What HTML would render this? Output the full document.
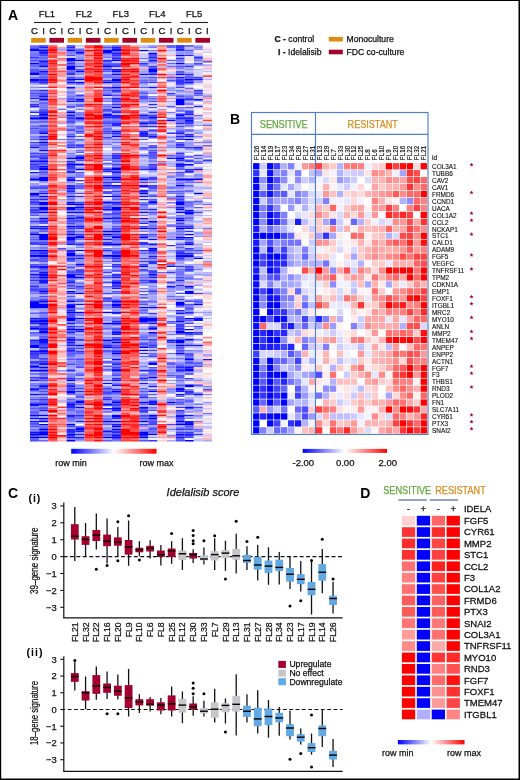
<!DOCTYPE html><html><head><meta charset="utf-8"><style>html,body{margin:0;padding:0;background:#fff;}svg{display:block;will-change:transform;}</style></head><body><svg width="520" height="780" viewBox="0 0 520 780" font-family="Liberation Sans, sans-serif">
<rect x="0" y="0" width="520" height="780" fill="#fff"/>
<path fill="#000" d="M0 0H520V780H0z M1.2 0.9V778.5H518.5V0.9z" fill-rule="evenodd"/>
<text x="8.0" y="20.2" font-size="14" text-anchor="start" font-weight="bold" fill="#000"  >A</text>
<text x="46.85" y="16.9" font-size="9.5" text-anchor="middle" font-weight="normal" fill="#111" stroke="#111" stroke-width="0.25"  >FL1</text>
<line x1="34.0" y1="22.5" x2="61.5" y2="22.5" stroke="#222" stroke-width="1.1"/>
<text x="34.55" y="34.4" font-size="9.6" text-anchor="middle" font-weight="normal" fill="#111" stroke="#111" stroke-width="0.25"  >C</text>
<text x="43.65" y="34.4" font-size="9.6" text-anchor="middle" font-weight="normal" fill="#111" stroke="#111" stroke-width="0.25"  >I</text>
<text x="52.75" y="34.4" font-size="9.6" text-anchor="middle" font-weight="normal" fill="#111" stroke="#111" stroke-width="0.25"  >C</text>
<text x="61.849999999999994" y="34.4" font-size="9.6" text-anchor="middle" font-weight="normal" fill="#111" stroke="#111" stroke-width="0.25"  >I</text>
<rect x="31.20" y="37.9" width="14.5" height="4.8" fill="#dc8c10"/>
<rect x="49.40" y="37.9" width="14.6" height="4.8" fill="#a0002a"/>
<text x="83.89999999999999" y="16.9" font-size="9.5" text-anchor="middle" font-weight="normal" fill="#111" stroke="#111" stroke-width="0.25"  >FL2</text>
<line x1="70.55" y1="22.5" x2="98.05" y2="22.5" stroke="#222" stroke-width="1.1"/>
<text x="70.95" y="34.4" font-size="9.6" text-anchor="middle" font-weight="normal" fill="#111" stroke="#111" stroke-width="0.25"  >C</text>
<text x="80.05" y="34.4" font-size="9.6" text-anchor="middle" font-weight="normal" fill="#111" stroke="#111" stroke-width="0.25"  >I</text>
<text x="89.15" y="34.4" font-size="9.6" text-anchor="middle" font-weight="normal" fill="#111" stroke="#111" stroke-width="0.25"  >C</text>
<text x="98.25" y="34.4" font-size="9.6" text-anchor="middle" font-weight="normal" fill="#111" stroke="#111" stroke-width="0.25"  >I</text>
<rect x="67.70" y="37.9" width="14.5" height="4.8" fill="#dc8c10"/>
<rect x="85.90" y="37.9" width="14.6" height="4.8" fill="#a0002a"/>
<text x="120.8" y="16.9" font-size="9.5" text-anchor="middle" font-weight="normal" fill="#111" stroke="#111" stroke-width="0.25"  >FL3</text>
<line x1="107.15" y1="22.5" x2="134.65" y2="22.5" stroke="#222" stroke-width="1.1"/>
<text x="107.35" y="34.4" font-size="9.6" text-anchor="middle" font-weight="normal" fill="#111" stroke="#111" stroke-width="0.25"  >C</text>
<text x="116.44999999999999" y="34.4" font-size="9.6" text-anchor="middle" font-weight="normal" fill="#111" stroke="#111" stroke-width="0.25"  >I</text>
<text x="125.55" y="34.4" font-size="9.6" text-anchor="middle" font-weight="normal" fill="#111" stroke="#111" stroke-width="0.25"  >C</text>
<text x="134.65" y="34.4" font-size="9.6" text-anchor="middle" font-weight="normal" fill="#111" stroke="#111" stroke-width="0.25"  >I</text>
<rect x="104.20" y="37.9" width="14.5" height="4.8" fill="#dc8c10"/>
<rect x="122.40" y="37.9" width="14.6" height="4.8" fill="#a0002a"/>
<text x="157.29999999999998" y="16.9" font-size="9.5" text-anchor="middle" font-weight="normal" fill="#111" stroke="#111" stroke-width="0.25"  >FL4</text>
<line x1="143.9" y1="22.5" x2="171.4" y2="22.5" stroke="#222" stroke-width="1.1"/>
<text x="143.75" y="34.4" font-size="9.6" text-anchor="middle" font-weight="normal" fill="#111" stroke="#111" stroke-width="0.25"  >C</text>
<text x="152.85" y="34.4" font-size="9.6" text-anchor="middle" font-weight="normal" fill="#111" stroke="#111" stroke-width="0.25"  >I</text>
<text x="161.95" y="34.4" font-size="9.6" text-anchor="middle" font-weight="normal" fill="#111" stroke="#111" stroke-width="0.25"  >C</text>
<text x="171.05" y="34.4" font-size="9.6" text-anchor="middle" font-weight="normal" fill="#111" stroke="#111" stroke-width="0.25"  >I</text>
<rect x="140.70" y="37.9" width="14.5" height="4.8" fill="#dc8c10"/>
<rect x="158.90" y="37.9" width="14.6" height="4.8" fill="#a0002a"/>
<text x="194.2" y="16.9" font-size="9.5" text-anchor="middle" font-weight="normal" fill="#111" stroke="#111" stroke-width="0.25"  >FL5</text>
<line x1="180.5" y1="22.5" x2="208.0" y2="22.5" stroke="#222" stroke-width="1.1"/>
<text x="180.15" y="34.4" font-size="9.6" text-anchor="middle" font-weight="normal" fill="#111" stroke="#111" stroke-width="0.25"  >C</text>
<text x="189.25" y="34.4" font-size="9.6" text-anchor="middle" font-weight="normal" fill="#111" stroke="#111" stroke-width="0.25"  >I</text>
<text x="198.35" y="34.4" font-size="9.6" text-anchor="middle" font-weight="normal" fill="#111" stroke="#111" stroke-width="0.25"  >C</text>
<text x="207.45" y="34.4" font-size="9.6" text-anchor="middle" font-weight="normal" fill="#111" stroke="#111" stroke-width="0.25"  >I</text>
<rect x="177.20" y="37.9" width="14.5" height="4.8" fill="#dc8c10"/>
<rect x="195.40" y="37.9" width="14.6" height="4.8" fill="#a0002a"/>
<text x="274.5" y="42" font-size="8.6" text-anchor="start" font-weight="normal" fill="#111" stroke="#111" stroke-width="0.25"  ><tspan font-weight="bold">C -</tspan> control</text>
<text x="278" y="54.6" font-size="8.6" text-anchor="start" font-weight="normal" fill="#111" stroke="#111" stroke-width="0.25"  ><tspan font-weight="bold">I -</tspan> Idelalisib</text>
<rect x="328.8" y="36.9" width="14" height="4.6" fill="#dc8c10"/>
<rect x="328.8" y="49.7" width="14" height="4.6" fill="#a0002a"/>
<text x="346.5" y="41.6" font-size="8.6" text-anchor="start" font-weight="normal" fill="#111" stroke="#111" stroke-width="0.25"  >Monoculture</text>
<text x="346.5" y="54.6" font-size="8.6" text-anchor="start" font-weight="normal" fill="#111" stroke="#111" stroke-width="0.25"  >FDC co-culture</text>
<defs><filter id="bl" x="-0.01" y="-0.01" width="1.02" height="1.02"><feGaussianBlur stdDeviation="0.3"/></filter></defs><g filter="url(#bl)">
<path fill="#0000ff" d="M30.0 49.95h9.1V51.54H30.0zM30.0 62.63h9.1V64.22H30.0zM30.0 72.14h9.1V75.31H30.0zM30.0 78.48h9.1V81.65H30.0zM30.0 118.10h9.1V119.69H30.0zM30.0 156.14h9.1V157.72H30.0zM30.0 178.32h9.1V179.91H30.0zM30.0 192.59h9.1V195.76H30.0zM30.0 233.79h9.1V235.38H30.0zM30.0 249.64h9.1V251.22H30.0zM30.0 254.39h9.1V255.98H30.0zM30.0 259.15h9.1V260.73H30.0zM30.0 270.24h9.1V271.83H30.0zM30.0 289.26h9.1V290.84H30.0zM30.0 301.94h9.1V308.28H30.0zM30.0 320.96h9.1V322.54H30.0zM30.0 327.29h9.1V328.88H30.0zM30.0 344.73h9.1V347.90H30.0zM30.0 354.24h9.1V355.82H30.0zM30.0 362.16h9.1V363.74H30.0zM30.0 365.33h9.1V366.91H30.0zM30.0 370.08h9.1V371.67H30.0zM30.0 393.86h9.1V395.44H30.0zM30.0 403.36h9.1V404.95H30.0zM30.0 414.46h9.1V416.04H30.0zM30.0 433.48h9.1V435.06H30.0zM30.0 436.65h9.1V438.23H30.0zM39.1 49.95h9.1V51.54H39.1zM39.1 65.80h9.1V67.39H39.1zM39.1 99.08h9.1V100.67H39.1zM39.1 113.35h9.1V114.93H39.1zM39.1 116.52h9.1V119.69H39.1zM39.1 132.36h9.1V133.95H39.1zM39.1 141.87h9.1V143.46H39.1zM39.1 160.89h9.1V162.48H39.1zM39.1 167.23h9.1V170.40H39.1zM39.1 176.74h9.1V181.49H39.1zM39.1 195.76h9.1V197.34H39.1zM39.1 202.10h9.1V205.26H39.1zM39.1 206.85h9.1V210.02H39.1zM39.1 211.60h9.1V213.19H39.1zM39.1 217.94h9.1V219.53H39.1zM39.1 233.79h9.1V240.13H39.1zM39.1 249.64h9.1V251.22H39.1zM39.1 254.39h9.1V257.56H39.1zM39.1 273.41h9.1V275.00H39.1zM39.1 276.58h9.1V278.17H39.1zM39.1 290.84h9.1V292.43H39.1zM39.1 300.35h9.1V301.94H39.1zM39.1 303.52h9.1V308.28H39.1zM39.1 319.37h9.1V322.54H39.1zM39.1 330.46h9.1V333.63H39.1zM39.1 338.39h9.1V339.97H39.1zM39.1 343.14h9.1V344.73H39.1zM39.1 351.07h9.1V352.65H39.1zM39.1 366.91h9.1V368.50H39.1zM39.1 370.08h9.1V371.67H39.1zM39.1 385.93h9.1V387.52H39.1zM39.1 403.36h9.1V404.95H39.1zM39.1 414.46h9.1V416.04H39.1zM39.1 417.63h9.1V419.21H39.1zM39.1 420.80h9.1V422.38H39.1zM39.1 423.97h9.1V425.55H39.1zM39.1 428.72h9.1V430.31H39.1zM39.1 431.89h9.1V435.06H39.1zM39.1 436.65h9.1V438.23H39.1zM66.4 49.95h9.1V51.54H66.4zM66.4 57.88h9.1V61.05H66.4zM66.4 65.80h9.1V68.97H66.4zM66.4 78.48h9.1V80.07H66.4zM66.4 111.76h9.1V113.35H66.4zM66.4 121.27h9.1V122.86H66.4zM66.4 129.19h9.1V130.78H66.4zM66.4 157.72h9.1V159.31H66.4zM66.4 164.06h9.1V165.64H66.4zM66.4 167.23h9.1V168.81H66.4zM66.4 187.83h9.1V189.42H66.4zM66.4 203.68h9.1V205.26H66.4zM66.4 206.85h9.1V210.02H66.4zM66.4 211.60h9.1V213.19H66.4zM66.4 217.94h9.1V219.53H66.4zM66.4 225.87h9.1V227.45H66.4zM66.4 233.79h9.1V235.38H66.4zM66.4 236.96h9.1V240.13H66.4zM66.4 252.81h9.1V255.98H66.4zM66.4 275.00h9.1V278.17H66.4zM66.4 290.84h9.1V292.43H66.4zM66.4 300.35h9.1V301.94H66.4zM66.4 305.11h9.1V308.28H66.4zM66.4 311.45h9.1V313.03H66.4zM66.4 317.79h9.1V320.96H66.4zM66.4 328.88h9.1V330.46H66.4zM66.4 338.39h9.1V339.97H66.4zM66.4 379.59h9.1V381.18H66.4zM66.4 390.69h9.1V393.86H66.4zM66.4 403.36h9.1V404.95H66.4zM66.4 423.97h9.1V425.55H66.4zM66.4 433.48h9.1V435.06H66.4zM66.4 439.82h9.1V441.40H66.4zM75.5 51.54h9.1V53.12H75.5zM75.5 59.46h9.1V61.05H75.5zM75.5 70.56h9.1V72.14H75.5zM75.5 78.48h9.1V80.07H75.5zM75.5 81.65h9.1V83.24H75.5zM75.5 99.08h9.1V100.67H75.5zM75.5 118.10h9.1V119.69H75.5zM75.5 156.14h9.1V159.31H75.5zM75.5 164.06h9.1V165.64H75.5zM75.5 168.81h9.1V170.40H75.5zM75.5 203.68h9.1V205.26H75.5zM75.5 206.85h9.1V208.43H75.5zM75.5 211.60h9.1V213.19H75.5zM75.5 236.96h9.1V238.55H75.5zM75.5 249.64h9.1V251.22H75.5zM75.5 263.90h9.1V265.49H75.5zM75.5 270.24h9.1V271.83H75.5zM75.5 276.58h9.1V278.17H75.5zM75.5 292.43h9.1V294.01H75.5zM75.5 311.45h9.1V313.03H75.5zM75.5 317.79h9.1V319.37H75.5zM75.5 328.88h9.1V330.46H75.5zM75.5 344.73h9.1V346.31H75.5zM75.5 400.20h9.1V403.36H75.5zM75.5 406.53h9.1V408.12H75.5zM75.5 427.14h9.1V430.31H75.5zM102.8 49.95h9.1V53.12H102.8zM102.8 65.80h9.1V67.39H102.8zM102.8 81.65h9.1V83.24H102.8zM102.8 114.93h9.1V116.52H102.8zM102.8 176.74h9.1V178.32H102.8zM102.8 195.76h9.1V197.34H102.8zM102.8 202.10h9.1V203.68H102.8zM102.8 213.19h9.1V214.77H102.8zM102.8 217.94h9.1V219.53H102.8zM102.8 230.62h9.1V232.21H102.8zM102.8 233.79h9.1V235.38H102.8zM102.8 243.30h9.1V244.88H102.8zM102.8 254.39h9.1V255.98H102.8zM102.8 297.18h9.1V298.77H102.8zM102.8 311.45h9.1V313.03H102.8zM102.8 322.54h9.1V324.12H102.8zM102.8 339.97h9.1V341.56H102.8zM102.8 346.31h9.1V347.90H102.8zM102.8 382.76h9.1V384.35H102.8zM102.8 392.27h9.1V393.86H102.8zM102.8 403.36h9.1V404.95H102.8zM102.8 420.80h9.1V422.38H102.8zM102.8 436.65h9.1V438.23H102.8zM111.9 49.95h9.1V51.54H111.9zM111.9 59.46h9.1V61.05H111.9zM111.9 70.56h9.1V72.14H111.9zM111.9 78.48h9.1V81.65H111.9zM111.9 86.40h9.1V87.99H111.9zM111.9 107.01h9.1V108.59H111.9zM111.9 135.53h9.1V137.12H111.9zM111.9 156.14h9.1V157.72H111.9zM111.9 167.23h9.1V170.40H111.9zM111.9 176.74h9.1V178.32H111.9zM111.9 206.85h9.1V210.02H111.9zM111.9 213.19h9.1V214.77H111.9zM111.9 230.62h9.1V232.21H111.9zM111.9 236.96h9.1V238.55H111.9zM111.9 243.30h9.1V244.88H111.9zM111.9 251.22h9.1V252.81H111.9zM111.9 254.39h9.1V257.56H111.9zM111.9 270.24h9.1V271.83H111.9zM111.9 281.34h9.1V282.92H111.9zM111.9 300.35h9.1V301.94H111.9zM111.9 303.52h9.1V306.69H111.9zM111.9 322.54h9.1V324.12H111.9zM111.9 332.05h9.1V333.63H111.9zM111.9 341.56h9.1V343.14H111.9zM111.9 352.65h9.1V354.24H111.9zM111.9 358.99h9.1V360.58H111.9zM111.9 370.08h9.1V371.67H111.9zM111.9 390.69h9.1V392.27H111.9zM111.9 401.78h9.1V403.36H111.9zM111.9 408.12h9.1V409.70H111.9zM111.9 414.46h9.1V417.63H111.9zM111.9 420.80h9.1V422.38H111.9zM111.9 425.55h9.1V427.14H111.9zM111.9 428.72h9.1V430.31H111.9zM111.9 436.65h9.1V438.23H111.9zM139.2 49.95h9.1V51.54H139.2zM139.2 73.73h9.1V75.31H139.2zM139.2 122.86h9.1V124.44H139.2zM139.2 178.32h9.1V179.91H139.2zM139.2 192.59h9.1V194.17H139.2zM139.2 227.45h9.1V229.04H139.2zM139.2 236.96h9.1V238.55H139.2zM139.2 265.49h9.1V267.07H139.2zM139.2 317.79h9.1V322.54H139.2zM139.2 343.14h9.1V344.73H139.2zM139.2 346.31h9.1V347.90H139.2zM139.2 349.48h9.1V351.07H139.2zM139.2 401.78h9.1V403.36H139.2zM139.2 406.53h9.1V408.12H139.2zM139.2 411.29h9.1V412.87H139.2zM139.2 420.80h9.1V422.38H139.2zM139.2 431.89h9.1V435.06H139.2zM139.2 436.65h9.1V438.23H139.2zM148.3 53.12h9.1V54.71H148.3zM148.3 68.97h9.1V72.14H148.3zM148.3 116.52h9.1V118.10H148.3zM148.3 121.27h9.1V122.86H148.3zM148.3 129.19h9.1V130.78H148.3zM148.3 202.10h9.1V203.68H148.3zM148.3 221.11h9.1V222.70H148.3zM148.3 248.05h9.1V249.64H148.3zM148.3 270.24h9.1V271.83H148.3zM148.3 306.69h9.1V308.28H148.3zM148.3 317.79h9.1V320.96H148.3zM148.3 327.29h9.1V328.88H148.3zM148.3 332.05h9.1V333.63H148.3zM148.3 362.16h9.1V365.33H148.3zM148.3 376.42h9.1V378.01H148.3zM148.3 390.69h9.1V392.27H148.3zM148.3 403.36h9.1V404.95H148.3zM148.3 414.46h9.1V416.04H148.3zM148.3 417.63h9.1V419.21H148.3zM148.3 433.48h9.1V435.06H148.3zM166.5 119.69h9.1V121.27H166.5zM166.5 265.49h9.1V267.07H166.5zM166.5 401.78h9.1V403.36H166.5zM175.6 45.20h9.1V46.78H175.6zM175.6 54.71h9.1V56.29H175.6zM175.6 62.63h9.1V64.22H175.6zM175.6 73.73h9.1V75.31H175.6zM175.6 83.24h9.1V84.82H175.6zM175.6 99.08h9.1V105.42H175.6zM175.6 157.72h9.1V159.31H175.6zM175.6 164.06h9.1V165.64H175.6zM175.6 178.32h9.1V179.91H175.6zM175.6 184.66h9.1V186.25H175.6zM175.6 202.10h9.1V205.26H175.6zM175.6 208.43h9.1V210.02H175.6zM175.6 211.60h9.1V213.19H175.6zM175.6 219.53h9.1V221.11H175.6zM175.6 227.45h9.1V229.04H175.6zM175.6 236.96h9.1V238.55H175.6zM175.6 251.22h9.1V252.81H175.6zM175.6 255.98h9.1V257.56H175.6zM175.6 301.94h9.1V305.11H175.6zM175.6 320.96h9.1V322.54H175.6zM175.6 330.46h9.1V333.63H175.6zM175.6 339.97h9.1V343.14H175.6zM175.6 344.73h9.1V346.31H175.6zM175.6 352.65h9.1V354.24H175.6zM175.6 389.10h9.1V390.69H175.6zM175.6 420.80h9.1V422.38H175.6zM175.6 423.97h9.1V425.55H175.6zM184.7 78.48h9.1V80.07H184.7zM184.7 121.27h9.1V122.86H184.7zM184.7 138.70h9.1V140.29H184.7zM184.7 156.14h9.1V157.72H184.7zM184.7 164.06h9.1V165.64H184.7zM184.7 178.32h9.1V179.91H184.7zM184.7 211.60h9.1V214.77H184.7zM184.7 233.79h9.1V235.38H184.7zM184.7 236.96h9.1V238.55H184.7zM184.7 243.30h9.1V244.88H184.7zM184.7 255.98h9.1V257.56H184.7zM184.7 286.09h9.1V287.67H184.7zM184.7 290.84h9.1V294.01H184.7zM184.7 317.79h9.1V319.37H184.7zM184.7 328.88h9.1V330.46H184.7zM184.7 332.05h9.1V333.63H184.7zM184.7 338.39h9.1V339.97H184.7zM184.7 358.99h9.1V360.58H184.7zM184.7 362.16h9.1V363.74H184.7zM184.7 368.50h9.1V370.08H184.7zM184.7 373.25h9.1V374.84H184.7zM184.7 384.35h9.1V387.52H184.7zM184.7 392.27h9.1V393.86H184.7zM184.7 406.53h9.1V408.12H184.7zM184.7 423.97h9.1V425.55H184.7zM184.7 439.82h9.1V441.40H184.7zM193.8 99.08h9.1V100.67H193.8zM193.8 178.32h9.1V179.91H193.8zM193.8 192.59h9.1V194.17H193.8zM193.8 257.56h9.1V259.15H193.8zM193.8 303.52h9.1V305.11H193.8z"/>
<path fill="#0d0dff" d="M30.0 48.37h9.1V49.95H30.0zM30.0 146.63h9.1V148.21H30.0zM30.0 160.89h9.1V162.48H30.0zM30.0 171.98h9.1V173.57H30.0zM30.0 255.98h9.1V257.56H30.0zM30.0 273.41h9.1V275.00H30.0zM30.0 351.07h9.1V352.65H30.0zM30.0 389.10h9.1V390.69H30.0zM30.0 417.63h9.1V419.21H30.0zM30.0 431.89h9.1V433.48H30.0zM39.1 51.54h9.1V53.12H39.1zM39.1 61.05h9.1V62.63H39.1zM39.1 70.56h9.1V72.14H39.1zM39.1 95.91h9.1V97.50H39.1zM39.1 149.80h9.1V151.38H39.1zM39.1 165.64h9.1V167.23H39.1zM39.1 251.22h9.1V252.81H39.1zM39.1 265.49h9.1V268.66H39.1zM39.1 271.83h9.1V273.41H39.1zM39.1 275.00h9.1V276.58H39.1zM39.1 322.54h9.1V324.12H39.1zM39.1 328.88h9.1V330.46H39.1zM39.1 339.97h9.1V343.14H39.1zM66.4 68.97h9.1V70.56H66.4zM66.4 86.40h9.1V87.99H66.4zM66.4 114.93h9.1V116.52H66.4zM66.4 179.91h9.1V181.49H66.4zM66.4 195.76h9.1V197.34H66.4zM66.4 202.10h9.1V203.68H66.4zM66.4 240.13h9.1V241.72H66.4zM66.4 243.30h9.1V244.88H66.4zM66.4 259.15h9.1V260.73H66.4zM66.4 273.41h9.1V275.00H66.4zM66.4 316.20h9.1V317.79H66.4zM66.4 322.54h9.1V324.12H66.4zM102.8 64.22h9.1V65.80H102.8zM102.8 184.66h9.1V186.25H102.8zM102.8 208.43h9.1V210.02H102.8zM102.8 430.31h9.1V431.89H102.8zM111.9 48.37h9.1V49.95H111.9zM111.9 68.97h9.1V70.56H111.9zM111.9 73.73h9.1V75.31H111.9zM111.9 110.18h9.1V111.76H111.9zM111.9 130.78h9.1V132.36H111.9zM111.9 171.98h9.1V173.57H111.9zM111.9 178.32h9.1V179.91H111.9zM111.9 186.25h9.1V187.83H111.9zM111.9 195.76h9.1V197.34H111.9zM111.9 202.10h9.1V203.68H111.9zM111.9 311.45h9.1V313.03H111.9zM111.9 400.20h9.1V401.78H111.9zM111.9 435.06h9.1V436.65H111.9zM139.2 114.93h9.1V116.52H139.2zM139.2 132.36h9.1V133.95H139.2zM139.2 184.66h9.1V187.83H139.2zM139.2 211.60h9.1V213.19H139.2zM139.2 217.94h9.1V219.53H139.2zM139.2 306.69h9.1V308.28H139.2zM148.3 135.53h9.1V137.12H148.3zM148.3 168.81h9.1V170.40H148.3zM148.3 186.25h9.1V187.83H148.3zM148.3 238.55h9.1V240.13H148.3zM148.3 243.30h9.1V244.88H148.3zM148.3 249.64h9.1V251.22H148.3zM148.3 273.41h9.1V275.00H148.3zM148.3 385.93h9.1V387.52H148.3zM166.5 157.72h9.1V159.31H166.5zM166.5 286.09h9.1V287.67H166.5zM166.5 339.97h9.1V341.56H166.5zM175.6 114.93h9.1V116.52H175.6zM175.6 254.39h9.1V255.98H175.6zM175.6 387.52h9.1V389.10H175.6zM175.6 393.86h9.1V395.44H175.6zM175.6 416.04h9.1V417.63H175.6zM175.6 433.48h9.1V435.06H175.6zM184.7 81.65h9.1V83.24H184.7zM184.7 119.69h9.1V121.27H184.7zM184.7 135.53h9.1V137.12H184.7zM184.7 210.02h9.1V211.60H184.7zM184.7 227.45h9.1V229.04H184.7zM184.7 254.39h9.1V255.98H184.7zM184.7 366.91h9.1V368.50H184.7zM184.7 370.08h9.1V371.67H184.7zM193.8 317.79h9.1V320.96H193.8zM193.8 344.73h9.1V346.31H193.8zM193.8 393.86h9.1V395.44H193.8z"/>
<path fill="#1919ff" d="M30.0 105.42h9.1V107.01H30.0zM30.0 167.23h9.1V168.81H30.0zM30.0 227.45h9.1V229.04H30.0zM30.0 265.49h9.1V267.07H30.0zM30.0 317.79h9.1V319.37H30.0zM30.0 322.54h9.1V324.12H30.0zM30.0 339.97h9.1V341.56H30.0zM30.0 379.59h9.1V381.18H30.0zM30.0 404.95h9.1V406.53H30.0zM30.0 420.80h9.1V422.38H30.0zM39.1 46.78h9.1V48.37H39.1zM39.1 64.22h9.1V65.80H39.1zM39.1 78.48h9.1V81.65H39.1zM39.1 110.18h9.1V111.76H39.1zM39.1 121.27h9.1V122.86H39.1zM39.1 138.70h9.1V140.29H39.1zM39.1 156.14h9.1V157.72H39.1zM39.1 186.25h9.1V187.83H39.1zM39.1 192.59h9.1V194.17H39.1zM39.1 225.87h9.1V227.45H39.1zM39.1 279.75h9.1V282.92H39.1zM39.1 289.26h9.1V290.84H39.1zM39.1 327.29h9.1V328.88H39.1zM39.1 349.48h9.1V351.07H39.1zM39.1 362.16h9.1V365.33H39.1zM39.1 373.25h9.1V374.84H39.1zM39.1 409.70h9.1V411.29H39.1zM66.4 81.65h9.1V83.24H66.4zM66.4 100.67h9.1V102.25H66.4zM66.4 178.32h9.1V179.91H66.4zM66.4 281.34h9.1V282.92H66.4zM66.4 341.56h9.1V343.14H66.4zM66.4 344.73h9.1V346.31H66.4zM66.4 349.48h9.1V351.07H66.4zM66.4 385.93h9.1V387.52H66.4zM66.4 414.46h9.1V416.04H66.4zM66.4 436.65h9.1V438.23H66.4zM75.5 216.36h9.1V217.94H75.5zM75.5 225.87h9.1V227.45H75.5zM75.5 235.38h9.1V236.96H75.5zM75.5 257.56h9.1V259.15H75.5zM75.5 303.52h9.1V305.11H75.5zM75.5 330.46h9.1V332.05H75.5zM75.5 420.80h9.1V422.38H75.5zM75.5 430.31h9.1V431.89H75.5zM75.5 436.65h9.1V438.23H75.5zM102.8 94.33h9.1V95.91H102.8zM102.8 110.18h9.1V111.76H102.8zM102.8 113.35h9.1V114.93H102.8zM102.8 116.52h9.1V118.10H102.8zM102.8 168.81h9.1V170.40H102.8zM102.8 238.55h9.1V240.13H102.8zM102.8 408.12h9.1V409.70H102.8zM111.9 46.78h9.1V48.37H111.9zM111.9 53.12h9.1V54.71H111.9zM111.9 64.22h9.1V65.80H111.9zM111.9 91.16h9.1V92.74H111.9zM111.9 184.66h9.1V186.25H111.9zM111.9 217.94h9.1V219.53H111.9zM111.9 276.58h9.1V278.17H111.9zM111.9 282.92h9.1V284.50H111.9zM111.9 287.67h9.1V289.26H111.9zM111.9 333.63h9.1V335.22H111.9zM111.9 338.39h9.1V339.97H111.9zM111.9 362.16h9.1V363.74H111.9zM111.9 368.50h9.1V370.08H111.9zM111.9 379.59h9.1V381.18H111.9zM111.9 384.35h9.1V385.93H111.9zM111.9 409.70h9.1V411.29H111.9zM111.9 423.97h9.1V425.55H111.9zM139.2 195.76h9.1V197.34H139.2zM139.2 297.18h9.1V298.77H139.2zM139.2 382.76h9.1V384.35H139.2zM148.3 59.46h9.1V61.05H148.3zM148.3 73.73h9.1V75.31H148.3zM148.3 86.40h9.1V87.99H148.3zM148.3 167.23h9.1V168.81H148.3zM148.3 227.45h9.1V229.04H148.3zM148.3 255.98h9.1V257.56H148.3zM148.3 322.54h9.1V324.12H148.3zM148.3 400.20h9.1V403.36H148.3zM166.5 362.16h9.1V363.74H166.5zM175.6 48.37h9.1V49.95H175.6zM175.6 76.90h9.1V78.48H175.6zM175.6 132.36h9.1V133.95H175.6zM175.6 165.64h9.1V167.23H175.6zM175.6 195.76h9.1V197.34H175.6zM175.6 206.85h9.1V208.43H175.6zM175.6 217.94h9.1V219.53H175.6zM175.6 313.03h9.1V314.62H175.6zM175.6 316.20h9.1V317.79H175.6zM175.6 370.08h9.1V371.67H175.6zM175.6 390.69h9.1V392.27H175.6zM175.6 414.46h9.1V416.04H175.6zM175.6 436.65h9.1V438.23H175.6zM184.7 113.35h9.1V114.93H184.7zM184.7 170.40h9.1V171.98H184.7zM184.7 270.24h9.1V271.83H184.7zM184.7 308.28h9.1V309.86H184.7zM184.7 344.73h9.1V346.31H184.7zM184.7 354.24h9.1V355.82H184.7zM184.7 400.20h9.1V401.78H184.7zM184.7 414.46h9.1V416.04H184.7zM184.7 420.80h9.1V423.97H184.7zM184.7 433.48h9.1V435.06H184.7zM193.8 78.48h9.1V80.07H193.8zM193.8 146.63h9.1V148.21H193.8zM193.8 168.81h9.1V170.40H193.8zM193.8 362.16h9.1V363.74H193.8zM202.9 358.99h9.1V360.58H202.9z"/>
<path fill="#2626ff" d="M30.0 97.50h9.1V99.08H30.0zM30.0 111.76h9.1V113.35H30.0zM30.0 121.27h9.1V122.86H30.0zM30.0 186.25h9.1V187.83H30.0zM30.0 211.60h9.1V213.19H30.0zM30.0 232.21h9.1V233.79H30.0zM30.0 251.22h9.1V252.81H30.0zM30.0 300.35h9.1V301.94H30.0zM30.0 319.37h9.1V320.96H30.0zM30.0 373.25h9.1V374.84H30.0zM30.0 411.29h9.1V412.87H30.0zM39.1 45.20h9.1V46.78H39.1zM39.1 53.12h9.1V54.71H39.1zM39.1 72.14h9.1V73.73H39.1zM39.1 81.65h9.1V83.24H39.1zM39.1 89.57h9.1V91.16H39.1zM39.1 102.25h9.1V103.84H39.1zM39.1 111.76h9.1V113.35H39.1zM39.1 114.93h9.1V116.52H39.1zM39.1 135.53h9.1V137.12H39.1zM39.1 157.72h9.1V159.31H39.1zM39.1 198.93h9.1V200.51H39.1zM39.1 221.11h9.1V222.70H39.1zM39.1 227.45h9.1V229.04H39.1zM39.1 243.30h9.1V244.88H39.1zM39.1 252.81h9.1V254.39H39.1zM39.1 278.17h9.1V279.75H39.1zM39.1 317.79h9.1V319.37H39.1zM39.1 324.12h9.1V325.71H39.1zM39.1 346.31h9.1V347.90H39.1zM39.1 352.65h9.1V354.24H39.1zM39.1 384.35h9.1V385.93H39.1zM39.1 393.86h9.1V395.44H39.1zM66.4 46.78h9.1V48.37H66.4zM66.4 135.53h9.1V137.12H66.4zM66.4 146.63h9.1V148.21H66.4zM66.4 160.89h9.1V162.48H66.4zM66.4 170.40h9.1V173.57H66.4zM66.4 184.66h9.1V187.83H66.4zM66.4 191.00h9.1V192.59H66.4zM66.4 249.64h9.1V252.81H66.4zM66.4 257.56h9.1V259.15H66.4zM66.4 270.24h9.1V271.83H66.4zM66.4 303.52h9.1V305.11H66.4zM66.4 309.86h9.1V311.45H66.4zM66.4 325.71h9.1V327.29H66.4zM66.4 332.05h9.1V333.63H66.4zM66.4 339.97h9.1V341.56H66.4zM66.4 370.08h9.1V371.67H66.4zM66.4 378.01h9.1V379.59H66.4zM66.4 404.95h9.1V408.12H66.4zM66.4 416.04h9.1V417.63H66.4zM66.4 428.72h9.1V431.89H66.4zM66.4 435.06h9.1V436.65H66.4zM75.5 100.67h9.1V102.25H75.5zM75.5 195.76h9.1V197.34H75.5zM75.5 227.45h9.1V229.04H75.5zM75.5 243.30h9.1V244.88H75.5zM75.5 254.39h9.1V255.98H75.5zM75.5 273.41h9.1V275.00H75.5zM75.5 390.69h9.1V392.27H75.5zM75.5 414.46h9.1V416.04H75.5zM75.5 433.48h9.1V435.06H75.5zM102.8 59.46h9.1V61.05H102.8zM102.8 121.27h9.1V122.86H102.8zM102.8 170.40h9.1V171.98H102.8zM102.8 186.25h9.1V187.83H102.8zM102.8 249.64h9.1V251.22H102.8zM102.8 255.98h9.1V257.56H102.8zM102.8 344.73h9.1V346.31H102.8zM102.8 398.61h9.1V400.20H102.8zM102.8 411.29h9.1V412.87H102.8zM111.9 57.88h9.1V59.46H111.9zM111.9 81.65h9.1V83.24H111.9zM111.9 89.57h9.1V91.16H111.9zM111.9 97.50h9.1V99.08H111.9zM111.9 111.76h9.1V113.35H111.9zM111.9 114.93h9.1V118.10H111.9zM111.9 122.86h9.1V126.02H111.9zM111.9 154.55h9.1V156.14H111.9zM111.9 157.72h9.1V159.31H111.9zM111.9 235.38h9.1V236.96H111.9zM111.9 265.49h9.1V267.07H111.9zM111.9 284.50h9.1V286.09H111.9zM111.9 306.69h9.1V308.28H111.9zM111.9 320.96h9.1V322.54H111.9zM111.9 351.07h9.1V352.65H111.9zM111.9 363.74h9.1V365.33H111.9zM111.9 378.01h9.1V379.59H111.9zM111.9 392.27h9.1V393.86H111.9zM111.9 417.63h9.1V419.21H111.9zM111.9 431.89h9.1V433.48H111.9zM139.2 121.27h9.1V122.86H139.2zM139.2 130.78h9.1V132.36H139.2zM139.2 133.95h9.1V137.12H139.2zM139.2 168.81h9.1V170.40H139.2zM139.2 189.42h9.1V192.59H139.2zM139.2 222.70h9.1V224.28H139.2zM139.2 233.79h9.1V235.38H139.2zM139.2 249.64h9.1V251.22H139.2zM139.2 316.20h9.1V317.79H139.2zM139.2 352.65h9.1V354.24H139.2zM139.2 370.08h9.1V371.67H139.2zM139.2 378.01h9.1V379.59H139.2zM139.2 397.03h9.1V398.61H139.2zM139.2 435.06h9.1V436.65H139.2zM148.3 56.29h9.1V57.88H148.3zM148.3 103.84h9.1V105.42H148.3zM148.3 111.76h9.1V113.35H148.3zM148.3 122.86h9.1V124.44H148.3zM148.3 126.02h9.1V127.61H148.3zM148.3 156.14h9.1V157.72H148.3zM148.3 200.51h9.1V202.10H148.3zM148.3 208.43h9.1V210.02H148.3zM148.3 251.22h9.1V252.81H148.3zM148.3 276.58h9.1V278.17H148.3zM148.3 279.75h9.1V282.92H148.3zM148.3 370.08h9.1V371.67H148.3zM148.3 427.14h9.1V428.72H148.3zM175.6 113.35h9.1V114.93H175.6zM175.6 118.10h9.1V119.69H175.6zM175.6 135.53h9.1V137.12H175.6zM175.6 138.70h9.1V140.29H175.6zM175.6 143.46h9.1V145.04H175.6zM175.6 156.14h9.1V157.72H175.6zM175.6 159.31h9.1V160.89H175.6zM175.6 252.81h9.1V254.39H175.6zM175.6 279.75h9.1V281.34H175.6zM175.6 309.86h9.1V311.45H175.6zM175.6 366.91h9.1V368.50H175.6zM184.7 45.20h9.1V46.78H184.7zM184.7 54.71h9.1V56.29H184.7zM184.7 118.10h9.1V119.69H184.7zM184.7 129.19h9.1V130.78H184.7zM184.7 133.95h9.1V135.53H184.7zM184.7 168.81h9.1V170.40H184.7zM184.7 252.81h9.1V254.39H184.7zM184.7 311.45h9.1V313.03H184.7zM184.7 390.69h9.1V392.27H184.7zM193.8 105.42h9.1V107.01H193.8z"/>
<path fill="#3333ff" d="M30.0 103.84h9.1V105.42H30.0zM30.0 164.06h9.1V165.64H30.0zM30.0 198.93h9.1V200.51H30.0zM30.0 202.10h9.1V203.68H30.0zM30.0 210.02h9.1V211.60H30.0zM30.0 225.87h9.1V227.45H30.0zM30.0 279.75h9.1V281.34H30.0zM30.0 286.09h9.1V287.67H30.0zM30.0 343.14h9.1V344.73H30.0zM30.0 352.65h9.1V354.24H30.0zM30.0 366.91h9.1V368.50H30.0zM30.0 387.52h9.1V389.10H30.0zM39.1 129.19h9.1V130.78H39.1zM39.1 259.15h9.1V260.73H39.1zM39.1 292.43h9.1V294.01H39.1zM39.1 360.58h9.1V362.16H39.1zM39.1 376.42h9.1V379.59H39.1zM39.1 387.52h9.1V389.10H39.1zM39.1 398.61h9.1V400.20H39.1zM39.1 427.14h9.1V428.72H39.1zM39.1 430.31h9.1V431.89H39.1zM66.4 45.20h9.1V46.78H66.4zM66.4 62.63h9.1V64.22H66.4zM66.4 72.14h9.1V75.31H66.4zM66.4 110.18h9.1V111.76H66.4zM66.4 118.10h9.1V119.69H66.4zM66.4 165.64h9.1V167.23H66.4zM66.4 176.74h9.1V178.32H66.4zM66.4 227.45h9.1V229.04H66.4zM66.4 230.62h9.1V232.21H66.4zM66.4 292.43h9.1V294.01H66.4zM66.4 308.28h9.1V309.86H66.4zM66.4 336.80h9.1V338.39H66.4zM66.4 343.14h9.1V344.73H66.4zM66.4 347.90h9.1V349.48H66.4zM66.4 354.24h9.1V355.82H66.4zM66.4 384.35h9.1V385.93H66.4zM66.4 431.89h9.1V433.48H66.4zM75.5 116.52h9.1V118.10H75.5zM75.5 145.04h9.1V146.63H75.5zM75.5 179.91h9.1V181.49H75.5zM75.5 186.25h9.1V187.83H75.5zM75.5 217.94h9.1V219.53H75.5zM75.5 233.79h9.1V235.38H75.5zM75.5 286.09h9.1V287.67H75.5zM75.5 351.07h9.1V352.65H75.5zM75.5 411.29h9.1V412.87H75.5zM102.8 68.97h9.1V70.56H102.8zM102.8 86.40h9.1V87.99H102.8zM102.8 181.49h9.1V183.08H102.8zM102.8 241.72h9.1V243.30H102.8zM111.9 54.71h9.1V56.29H111.9zM111.9 65.80h9.1V67.39H111.9zM111.9 100.67h9.1V102.25H111.9zM111.9 103.84h9.1V105.42H111.9zM111.9 121.27h9.1V122.86H111.9zM111.9 132.36h9.1V133.95H111.9zM111.9 181.49h9.1V183.08H111.9zM111.9 257.56h9.1V259.15H111.9zM111.9 260.73h9.1V262.32H111.9zM111.9 263.90h9.1V265.49H111.9zM111.9 273.41h9.1V276.58H111.9zM111.9 313.03h9.1V314.62H111.9zM111.9 346.31h9.1V347.90H111.9zM111.9 430.31h9.1V431.89H111.9zM111.9 438.23h9.1V439.82H111.9zM139.2 62.63h9.1V64.22H139.2zM139.2 126.02h9.1V127.61H139.2zM139.2 148.21h9.1V149.80H139.2zM139.2 198.93h9.1V200.51H139.2zM139.2 241.72h9.1V244.88H139.2zM139.2 260.73h9.1V262.32H139.2zM139.2 408.12h9.1V409.70H139.2zM139.2 423.97h9.1V425.55H139.2zM148.3 65.80h9.1V67.39H148.3zM148.3 72.14h9.1V73.73H148.3zM148.3 81.65h9.1V83.24H148.3zM148.3 114.93h9.1V116.52H148.3zM148.3 146.63h9.1V148.21H148.3zM148.3 164.06h9.1V165.64H148.3zM148.3 260.73h9.1V263.90H148.3zM148.3 290.84h9.1V292.43H148.3zM148.3 313.03h9.1V314.62H148.3zM148.3 344.73h9.1V346.31H148.3zM148.3 373.25h9.1V374.84H148.3zM148.3 416.04h9.1V417.63H148.3zM148.3 439.82h9.1V441.40H148.3zM166.5 45.20h9.1V46.78H166.5zM166.5 92.74h9.1V94.33H166.5zM166.5 132.36h9.1V133.95H166.5zM166.5 244.88h9.1V246.47H166.5zM166.5 271.83h9.1V273.41H166.5zM166.5 341.56h9.1V343.14H166.5zM175.6 46.78h9.1V48.37H175.6zM175.6 49.95h9.1V51.54H175.6zM175.6 57.88h9.1V59.46H175.6zM175.6 80.07h9.1V83.24H175.6zM175.6 110.18h9.1V111.76H175.6zM175.6 122.86h9.1V124.44H175.6zM175.6 146.63h9.1V148.21H175.6zM175.6 152.97h9.1V154.55H175.6zM175.6 200.51h9.1V202.10H175.6zM175.6 225.87h9.1V227.45H175.6zM175.6 238.55h9.1V240.13H175.6zM175.6 257.56h9.1V259.15H175.6zM175.6 265.49h9.1V267.07H175.6zM175.6 284.50h9.1V286.09H175.6zM175.6 305.11h9.1V306.69H175.6zM175.6 327.29h9.1V330.46H175.6zM175.6 406.53h9.1V408.12H175.6zM175.6 409.70h9.1V411.29H175.6zM175.6 419.21h9.1V420.80H175.6zM175.6 428.72h9.1V430.31H175.6zM184.7 65.80h9.1V67.39H184.7zM184.7 73.73h9.1V75.31H184.7zM184.7 99.08h9.1V100.67H184.7zM184.7 146.63h9.1V148.21H184.7zM184.7 225.87h9.1V227.45H184.7zM184.7 230.62h9.1V232.21H184.7zM184.7 241.72h9.1V243.30H184.7zM184.7 248.05h9.1V249.64H184.7zM184.7 268.66h9.1V270.24H184.7zM184.7 357.41h9.1V358.99H184.7zM184.7 431.89h9.1V433.48H184.7zM184.7 435.06h9.1V436.65H184.7zM193.8 56.29h9.1V57.88H193.8zM193.8 89.57h9.1V91.16H193.8zM193.8 148.21h9.1V149.80H193.8zM193.8 332.05h9.1V333.63H193.8zM202.9 159.31h9.1V160.89H202.9z"/>
<path fill="#4040ff" d="M30.0 56.29h9.1V57.88H30.0zM30.0 64.22h9.1V65.80H30.0zM30.0 116.52h9.1V118.10H30.0zM30.0 141.87h9.1V143.46H30.0zM30.0 152.97h9.1V154.55H30.0zM30.0 187.83h9.1V189.42H30.0zM30.0 206.85h9.1V208.43H30.0zM30.0 221.11h9.1V222.70H30.0zM30.0 241.72h9.1V244.88H30.0zM30.0 267.07h9.1V268.66H30.0zM30.0 276.58h9.1V278.17H30.0zM30.0 328.88h9.1V330.46H30.0zM30.0 341.56h9.1V343.14H30.0zM30.0 360.58h9.1V362.16H30.0zM30.0 376.42h9.1V378.01H30.0zM30.0 435.06h9.1V436.65H30.0zM30.0 438.23h9.1V439.82H30.0zM39.1 54.71h9.1V56.29H39.1zM39.1 83.24h9.1V84.82H39.1zM39.1 130.78h9.1V132.36H39.1zM39.1 152.97h9.1V154.55H39.1zM39.1 159.31h9.1V160.89H39.1zM39.1 171.98h9.1V173.57H39.1zM39.1 241.72h9.1V243.30H39.1zM39.1 270.24h9.1V271.83H39.1zM39.1 357.41h9.1V358.99H39.1zM39.1 400.20h9.1V401.78H39.1zM66.4 64.22h9.1V65.80H66.4zM66.4 76.90h9.1V78.48H66.4zM66.4 116.52h9.1V118.10H66.4zM66.4 162.48h9.1V164.06H66.4zM66.4 189.42h9.1V191.00H66.4zM66.4 222.70h9.1V224.28H66.4zM66.4 232.21h9.1V233.79H66.4zM66.4 284.50h9.1V286.09H66.4zM66.4 287.67h9.1V289.26H66.4zM66.4 351.07h9.1V352.65H66.4zM66.4 363.74h9.1V365.33H66.4zM66.4 387.52h9.1V390.69H66.4zM66.4 401.78h9.1V403.36H66.4zM66.4 425.55h9.1V427.14H66.4zM75.5 53.12h9.1V54.71H75.5zM75.5 83.24h9.1V84.82H75.5zM75.5 94.33h9.1V95.91H75.5zM75.5 130.78h9.1V132.36H75.5zM75.5 159.31h9.1V160.89H75.5zM75.5 202.10h9.1V203.68H75.5zM75.5 208.43h9.1V210.02H75.5zM75.5 338.39h9.1V339.97H75.5zM75.5 373.25h9.1V374.84H75.5zM75.5 387.52h9.1V389.10H75.5zM102.8 80.07h9.1V81.65H102.8zM102.8 108.59h9.1V110.18H102.8zM102.8 130.78h9.1V132.36H102.8zM102.8 137.12h9.1V138.70H102.8zM102.8 205.26h9.1V206.85H102.8zM102.8 271.83h9.1V273.41H102.8zM102.8 276.58h9.1V278.17H102.8zM102.8 292.43h9.1V294.01H102.8zM102.8 300.35h9.1V301.94H102.8zM102.8 343.14h9.1V344.73H102.8zM102.8 362.16h9.1V363.74H102.8zM102.8 387.52h9.1V389.10H102.8zM102.8 397.03h9.1V398.61H102.8zM102.8 404.95h9.1V406.53H102.8zM111.9 99.08h9.1V100.67H111.9zM111.9 164.06h9.1V165.64H111.9zM111.9 170.40h9.1V171.98H111.9zM111.9 175.15h9.1V176.74H111.9zM111.9 191.00h9.1V192.59H111.9zM111.9 203.68h9.1V205.26H111.9zM111.9 210.02h9.1V211.60H111.9zM111.9 216.36h9.1V217.94H111.9zM111.9 221.11h9.1V222.70H111.9zM111.9 227.45h9.1V229.04H111.9zM111.9 233.79h9.1V235.38H111.9zM111.9 252.81h9.1V254.39H111.9zM111.9 286.09h9.1V287.67H111.9zM111.9 330.46h9.1V332.05H111.9zM111.9 339.97h9.1V341.56H111.9zM111.9 366.91h9.1V368.50H111.9zM111.9 373.25h9.1V374.84H111.9zM111.9 389.10h9.1V390.69H111.9zM111.9 403.36h9.1V406.53H111.9zM111.9 433.48h9.1V435.06H111.9zM139.2 64.22h9.1V65.80H139.2zM139.2 154.55h9.1V156.14H139.2zM139.2 181.49h9.1V183.08H139.2zM139.2 203.68h9.1V205.26H139.2zM139.2 208.43h9.1V210.02H139.2zM139.2 225.87h9.1V227.45H139.2zM139.2 263.90h9.1V265.49H139.2zM139.2 279.75h9.1V281.34H139.2zM139.2 409.70h9.1V411.29H139.2zM139.2 414.46h9.1V416.04H139.2zM148.3 67.39h9.1V68.97H148.3zM148.3 118.10h9.1V119.69H148.3zM148.3 151.38h9.1V152.97H148.3zM148.3 176.74h9.1V179.91H148.3zM148.3 184.66h9.1V186.25H148.3zM148.3 194.17h9.1V195.76H148.3zM148.3 271.83h9.1V273.41H148.3zM148.3 275.00h9.1V276.58H148.3zM148.3 328.88h9.1V330.46H148.3zM148.3 338.39h9.1V339.97H148.3zM148.3 343.14h9.1V344.73H148.3zM148.3 346.31h9.1V347.90H148.3zM148.3 349.48h9.1V351.07H148.3zM148.3 355.82h9.1V357.41H148.3zM148.3 419.21h9.1V420.80H148.3zM148.3 423.97h9.1V425.55H148.3zM166.5 224.28h9.1V225.87H166.5zM166.5 238.55h9.1V240.13H166.5zM166.5 281.34h9.1V282.92H166.5zM166.5 423.97h9.1V425.55H166.5zM175.6 86.40h9.1V87.99H175.6zM175.6 116.52h9.1V118.10H175.6zM175.6 145.04h9.1V146.63H175.6zM175.6 171.98h9.1V173.57H175.6zM175.6 198.93h9.1V200.51H175.6zM175.6 222.70h9.1V224.28H175.6zM175.6 259.15h9.1V260.73H175.6zM175.6 292.43h9.1V294.01H175.6zM175.6 298.77h9.1V300.35H175.6zM175.6 324.12h9.1V327.29H175.6zM175.6 365.33h9.1V366.91H175.6zM175.6 368.50h9.1V370.08H175.6zM175.6 411.29h9.1V412.87H175.6zM175.6 427.14h9.1V428.72H175.6zM175.6 431.89h9.1V433.48H175.6zM175.6 435.06h9.1V436.65H175.6zM175.6 438.23h9.1V439.82H175.6zM184.7 80.07h9.1V81.65H184.7zM184.7 97.50h9.1V99.08H184.7zM184.7 110.18h9.1V113.35H184.7zM184.7 116.52h9.1V118.10H184.7zM184.7 122.86h9.1V124.44H184.7zM184.7 159.31h9.1V162.48H184.7zM184.7 265.49h9.1V267.07H184.7zM184.7 278.17h9.1V279.75H184.7zM184.7 300.35h9.1V301.94H184.7zM184.7 322.54h9.1V324.12H184.7zM184.7 333.63h9.1V335.22H184.7zM184.7 378.01h9.1V379.59H184.7zM184.7 428.72h9.1V430.31H184.7zM184.7 436.65h9.1V438.23H184.7zM193.8 76.90h9.1V78.48H193.8zM193.8 92.74h9.1V94.33H193.8zM193.8 154.55h9.1V156.14H193.8zM193.8 211.60h9.1V213.19H193.8zM193.8 249.64h9.1V251.22H193.8zM193.8 292.43h9.1V294.01H193.8zM193.8 433.48h9.1V435.06H193.8z"/>
<path fill="#4d4dff" d="M30.0 59.46h9.1V61.05H30.0zM30.0 81.65h9.1V83.24H30.0zM30.0 92.74h9.1V94.33H30.0zM30.0 127.61h9.1V129.19H30.0zM30.0 159.31h9.1V160.89H30.0zM30.0 165.64h9.1V167.23H30.0zM30.0 200.51h9.1V202.10H30.0zM30.0 203.68h9.1V205.26H30.0zM30.0 208.43h9.1V210.02H30.0zM30.0 252.81h9.1V254.39H30.0zM30.0 263.90h9.1V265.49H30.0zM30.0 297.18h9.1V298.77H30.0zM30.0 325.71h9.1V327.29H30.0zM30.0 332.05h9.1V333.63H30.0zM30.0 355.82h9.1V358.99H30.0zM30.0 398.61h9.1V400.20H30.0zM30.0 422.38h9.1V423.97H30.0zM30.0 425.55h9.1V427.14H30.0zM30.0 439.82h9.1V441.40H30.0zM39.1 59.46h9.1V61.05H39.1zM39.1 62.63h9.1V64.22H39.1zM39.1 73.73h9.1V75.31H39.1zM39.1 92.74h9.1V95.91H39.1zM39.1 97.50h9.1V99.08H39.1zM39.1 124.44h9.1V127.61H39.1zM39.1 143.46h9.1V145.04H39.1zM39.1 154.55h9.1V156.14H39.1zM39.1 162.48h9.1V164.06H39.1zM39.1 187.83h9.1V189.42H39.1zM39.1 219.53h9.1V221.11H39.1zM39.1 229.04h9.1V230.62H39.1zM39.1 257.56h9.1V259.15H39.1zM39.1 260.73h9.1V262.32H39.1zM39.1 282.92h9.1V284.50H39.1zM39.1 287.67h9.1V289.26H39.1zM39.1 295.60h9.1V297.18H39.1zM39.1 298.77h9.1V300.35H39.1zM39.1 325.71h9.1V327.29H39.1zM39.1 344.73h9.1V346.31H39.1zM39.1 379.59h9.1V381.18H39.1zM39.1 390.69h9.1V392.27H39.1zM39.1 408.12h9.1V409.70H39.1zM39.1 419.21h9.1V420.80H39.1zM57.3 248.05h9.1V249.64H57.3zM66.4 48.37h9.1V49.95H66.4zM66.4 54.71h9.1V56.29H66.4zM66.4 80.07h9.1V81.65H66.4zM66.4 83.24h9.1V84.82H66.4zM66.4 91.16h9.1V92.74H66.4zM66.4 97.50h9.1V99.08H66.4zM66.4 105.42h9.1V107.01H66.4zM66.4 145.04h9.1V146.63H66.4zM66.4 214.77h9.1V216.36H66.4zM66.4 219.53h9.1V222.70H66.4zM66.4 241.72h9.1V243.30H66.4zM66.4 267.07h9.1V268.66H66.4zM66.4 271.83h9.1V273.41H66.4zM66.4 279.75h9.1V281.34H66.4zM66.4 313.03h9.1V316.20H66.4zM66.4 327.29h9.1V328.88H66.4zM66.4 330.46h9.1V332.05H66.4zM66.4 419.21h9.1V420.80H66.4zM75.5 49.95h9.1V51.54H75.5zM75.5 65.80h9.1V67.39H75.5zM75.5 68.97h9.1V70.56H75.5zM75.5 146.63h9.1V148.21H75.5zM75.5 154.55h9.1V156.14H75.5zM75.5 171.98h9.1V173.57H75.5zM75.5 192.59h9.1V194.17H75.5zM75.5 219.53h9.1V222.70H75.5zM75.5 265.49h9.1V267.07H75.5zM75.5 268.66h9.1V270.24H75.5zM75.5 271.83h9.1V273.41H75.5zM75.5 300.35h9.1V301.94H75.5zM75.5 308.28h9.1V309.86H75.5zM75.5 325.71h9.1V327.29H75.5zM75.5 339.97h9.1V341.56H75.5zM75.5 347.90h9.1V349.48H75.5zM75.5 358.99h9.1V360.58H75.5zM75.5 366.91h9.1V368.50H75.5zM75.5 378.01h9.1V379.59H75.5zM75.5 395.44h9.1V397.03H75.5zM75.5 403.36h9.1V404.95H75.5zM75.5 438.23h9.1V439.82H75.5zM102.8 46.78h9.1V48.37H102.8zM102.8 61.05h9.1V62.63H102.8zM102.8 122.86h9.1V124.44H102.8zM102.8 132.36h9.1V133.95H102.8zM102.8 167.23h9.1V168.81H102.8zM102.8 187.83h9.1V189.42H102.8zM102.8 191.00h9.1V194.17H102.8zM102.8 206.85h9.1V208.43H102.8zM102.8 281.34h9.1V282.92H102.8zM102.8 379.59h9.1V381.18H102.8zM111.9 45.20h9.1V46.78H111.9zM111.9 56.29h9.1V57.88H111.9zM111.9 94.33h9.1V95.91H111.9zM111.9 152.97h9.1V154.55H111.9zM111.9 194.17h9.1V195.76H111.9zM111.9 229.04h9.1V230.62H111.9zM111.9 259.15h9.1V260.73H111.9zM111.9 279.75h9.1V281.34H111.9zM111.9 290.84h9.1V292.43H111.9zM111.9 301.94h9.1V303.52H111.9zM111.9 328.88h9.1V330.46H111.9zM111.9 336.80h9.1V338.39H111.9zM111.9 349.48h9.1V351.07H111.9zM111.9 374.84h9.1V376.42H111.9zM111.9 406.53h9.1V408.12H111.9zM139.2 81.65h9.1V83.24H139.2zM139.2 91.16h9.1V92.74H139.2zM139.2 95.91h9.1V99.08H139.2zM139.2 116.52h9.1V118.10H139.2zM139.2 235.38h9.1V236.96H139.2zM139.2 257.56h9.1V259.15H139.2zM139.2 268.66h9.1V271.83H139.2zM139.2 294.01h9.1V295.60H139.2zM139.2 303.52h9.1V305.11H139.2zM139.2 322.54h9.1V324.12H139.2zM139.2 338.39h9.1V339.97H139.2zM139.2 417.63h9.1V419.21H139.2zM139.2 439.82h9.1V441.40H139.2zM148.3 76.90h9.1V78.48H148.3zM148.3 100.67h9.1V102.25H148.3zM148.3 107.01h9.1V108.59H148.3zM148.3 133.95h9.1V135.53H148.3zM148.3 137.12h9.1V138.70H148.3zM148.3 145.04h9.1V146.63H148.3zM148.3 165.64h9.1V167.23H148.3zM148.3 187.83h9.1V189.42H148.3zM148.3 195.76h9.1V197.34H148.3zM148.3 211.60h9.1V213.19H148.3zM148.3 233.79h9.1V235.38H148.3zM148.3 289.26h9.1V290.84H148.3zM148.3 320.96h9.1V322.54H148.3zM148.3 335.22h9.1V336.80H148.3zM148.3 354.24h9.1V355.82H148.3zM148.3 366.91h9.1V368.50H148.3zM148.3 409.70h9.1V411.29H148.3zM148.3 420.80h9.1V423.97H148.3zM148.3 428.72h9.1V430.31H148.3zM166.5 80.07h9.1V81.65H166.5zM166.5 186.25h9.1V187.83H166.5zM166.5 320.96h9.1V322.54H166.5zM166.5 374.84h9.1V376.42H166.5zM175.6 65.80h9.1V67.39H175.6zM175.6 78.48h9.1V80.07H175.6zM175.6 95.91h9.1V97.50H175.6zM175.6 121.27h9.1V122.86H175.6zM175.6 126.02h9.1V127.61H175.6zM175.6 130.78h9.1V132.36H175.6zM175.6 175.15h9.1V176.74H175.6zM175.6 186.25h9.1V187.83H175.6zM175.6 243.30h9.1V244.88H175.6zM175.6 276.58h9.1V278.17H175.6zM175.6 349.48h9.1V351.07H175.6zM175.6 384.35h9.1V385.93H175.6zM175.6 401.78h9.1V403.36H175.6zM175.6 417.63h9.1V419.21H175.6zM175.6 439.82h9.1V441.40H175.6zM184.7 107.01h9.1V108.59H184.7zM184.7 179.91h9.1V181.49H184.7zM184.7 205.26h9.1V206.85H184.7zM184.7 267.07h9.1V268.66H184.7zM184.7 303.52h9.1V305.11H184.7zM184.7 365.33h9.1V366.91H184.7zM184.7 408.12h9.1V409.70H184.7zM184.7 427.14h9.1V428.72H184.7zM193.8 62.63h9.1V64.22H193.8zM193.8 91.16h9.1V92.74H193.8zM193.8 200.51h9.1V202.10H193.8zM193.8 300.35h9.1V301.94H193.8zM193.8 325.71h9.1V327.29H193.8zM193.8 333.63h9.1V335.22H193.8zM193.8 365.33h9.1V366.91H193.8zM193.8 384.35h9.1V385.93H193.8zM193.8 406.53h9.1V408.12H193.8zM202.9 389.10h9.1V390.69H202.9z"/>
<path fill="#5959ff" d="M30.0 68.97h9.1V72.14H30.0zM30.0 89.57h9.1V91.16H30.0zM30.0 114.93h9.1V116.52H30.0zM30.0 138.70h9.1V140.29H30.0zM30.0 145.04h9.1V146.63H30.0zM30.0 168.81h9.1V170.40H30.0zM30.0 179.91h9.1V181.49H30.0zM30.0 195.76h9.1V197.34H30.0zM30.0 214.77h9.1V216.36H30.0zM30.0 238.55h9.1V240.13H30.0zM30.0 275.00h9.1V276.58H30.0zM30.0 278.17h9.1V279.75H30.0zM30.0 287.67h9.1V289.26H30.0zM30.0 408.12h9.1V409.70H30.0zM30.0 423.97h9.1V425.55H30.0zM39.1 48.37h9.1V49.95H39.1zM39.1 76.90h9.1V78.48H39.1zM39.1 91.16h9.1V92.74H39.1zM39.1 108.59h9.1V110.18H39.1zM39.1 137.12h9.1V138.70H39.1zM39.1 145.04h9.1V146.63H39.1zM39.1 148.21h9.1V149.80H39.1zM39.1 164.06h9.1V165.64H39.1zM39.1 191.00h9.1V192.59H39.1zM39.1 210.02h9.1V211.60H39.1zM39.1 222.70h9.1V224.28H39.1zM39.1 230.62h9.1V232.21H39.1zM39.1 240.13h9.1V241.72H39.1zM39.1 263.90h9.1V265.49H39.1zM39.1 268.66h9.1V270.24H39.1zM39.1 301.94h9.1V303.52H39.1zM39.1 311.45h9.1V314.62H39.1zM39.1 316.20h9.1V317.79H39.1zM39.1 335.22h9.1V338.39H39.1zM39.1 347.90h9.1V349.48H39.1zM39.1 354.24h9.1V355.82H39.1zM39.1 358.99h9.1V360.58H39.1zM39.1 401.78h9.1V403.36H39.1zM39.1 406.53h9.1V408.12H39.1zM39.1 435.06h9.1V436.65H39.1zM66.4 61.05h9.1V62.63H66.4zM66.4 99.08h9.1V100.67H66.4zM66.4 143.46h9.1V145.04H66.4zM66.4 156.14h9.1V157.72H66.4zM66.4 168.81h9.1V170.40H66.4zM66.4 192.59h9.1V194.17H66.4zM66.4 216.36h9.1V217.94H66.4zM66.4 255.98h9.1V257.56H66.4zM66.4 278.17h9.1V279.75H66.4zM66.4 295.60h9.1V297.18H66.4zM66.4 352.65h9.1V354.24H66.4zM66.4 358.99h9.1V360.58H66.4zM66.4 373.25h9.1V374.84H66.4zM66.4 382.76h9.1V384.35H66.4zM66.4 398.61h9.1V400.20H66.4zM75.5 135.53h9.1V137.12H75.5zM75.5 138.70h9.1V140.29H75.5zM75.5 151.38h9.1V152.97H75.5zM75.5 184.66h9.1V186.25H75.5zM75.5 187.83h9.1V189.42H75.5zM75.5 205.26h9.1V206.85H75.5zM75.5 224.28h9.1V225.87H75.5zM75.5 278.17h9.1V279.75H75.5zM75.5 352.65h9.1V354.24H75.5zM75.5 362.16h9.1V363.74H75.5zM75.5 374.84h9.1V376.42H75.5zM102.8 53.12h9.1V54.71H102.8zM102.8 70.56h9.1V72.14H102.8zM102.8 89.57h9.1V91.16H102.8zM102.8 162.48h9.1V164.06H102.8zM102.8 175.15h9.1V176.74H102.8zM102.8 235.38h9.1V236.96H102.8zM102.8 298.77h9.1V300.35H102.8zM102.8 349.48h9.1V352.65H102.8zM102.8 360.58h9.1V362.16H102.8zM102.8 365.33h9.1V366.91H102.8zM102.8 368.50h9.1V370.08H102.8zM102.8 390.69h9.1V392.27H102.8zM102.8 423.97h9.1V425.55H102.8zM102.8 433.48h9.1V435.06H102.8zM102.8 439.82h9.1V441.40H102.8zM111.9 51.54h9.1V53.12H111.9zM111.9 118.10h9.1V119.69H111.9zM111.9 160.89h9.1V162.48H111.9zM111.9 198.93h9.1V200.51H111.9zM111.9 211.60h9.1V213.19H111.9zM111.9 225.87h9.1V227.45H111.9zM111.9 232.21h9.1V233.79H111.9zM111.9 240.13h9.1V241.72H111.9zM111.9 292.43h9.1V294.01H111.9zM111.9 324.12h9.1V325.71H111.9zM111.9 327.29h9.1V328.88H111.9zM111.9 344.73h9.1V346.31H111.9zM111.9 354.24h9.1V355.82H111.9zM139.2 86.40h9.1V87.99H139.2zM139.2 92.74h9.1V94.33H139.2zM139.2 118.10h9.1V119.69H139.2zM139.2 138.70h9.1V140.29H139.2zM139.2 146.63h9.1V148.21H139.2zM139.2 167.23h9.1V168.81H139.2zM139.2 281.34h9.1V282.92H139.2zM139.2 290.84h9.1V292.43H139.2zM139.2 309.86h9.1V311.45H139.2zM139.2 335.22h9.1V336.80H139.2zM139.2 379.59h9.1V381.18H139.2zM139.2 390.69h9.1V392.27H139.2zM139.2 403.36h9.1V404.95H139.2zM139.2 416.04h9.1V417.63H139.2zM148.3 54.71h9.1V56.29H148.3zM148.3 57.88h9.1V59.46H148.3zM148.3 61.05h9.1V62.63H148.3zM148.3 149.80h9.1V151.38H148.3zM148.3 152.97h9.1V156.14H148.3zM148.3 198.93h9.1V200.51H148.3zM148.3 213.19h9.1V214.77H148.3zM148.3 252.81h9.1V254.39H148.3zM148.3 257.56h9.1V259.15H148.3zM148.3 316.20h9.1V317.79H148.3zM148.3 339.97h9.1V341.56H148.3zM148.3 393.86h9.1V395.44H148.3zM166.5 59.46h9.1V61.05H166.5zM166.5 62.63h9.1V64.22H166.5zM166.5 76.90h9.1V78.48H166.5zM166.5 105.42h9.1V107.01H166.5zM166.5 154.55h9.1V156.14H166.5zM166.5 191.00h9.1V192.59H166.5zM175.6 70.56h9.1V73.73H175.6zM175.6 129.19h9.1V130.78H175.6zM175.6 141.87h9.1V143.46H175.6zM175.6 162.48h9.1V164.06H175.6zM175.6 179.91h9.1V181.49H175.6zM175.6 191.00h9.1V192.59H175.6zM175.6 224.28h9.1V225.87H175.6zM175.6 246.47h9.1V248.05H175.6zM175.6 249.64h9.1V251.22H175.6zM175.6 278.17h9.1V279.75H175.6zM175.6 317.79h9.1V320.96H175.6zM175.6 338.39h9.1V339.97H175.6zM175.6 346.31h9.1V347.90H175.6zM175.6 354.24h9.1V355.82H175.6zM175.6 374.84h9.1V378.01H175.6zM175.6 398.61h9.1V400.20H175.6zM175.6 403.36h9.1V404.95H175.6zM175.6 422.38h9.1V423.97H175.6zM184.7 49.95h9.1V51.54H184.7zM184.7 76.90h9.1V78.48H184.7zM184.7 83.24h9.1V84.82H184.7zM184.7 148.21h9.1V149.80H184.7zM184.7 171.98h9.1V173.57H184.7zM184.7 184.66h9.1V186.25H184.7zM184.7 202.10h9.1V203.68H184.7zM184.7 238.55h9.1V240.13H184.7zM184.7 249.64h9.1V251.22H184.7zM184.7 313.03h9.1V314.62H184.7zM184.7 319.37h9.1V320.96H184.7zM184.7 339.97h9.1V341.56H184.7zM184.7 352.65h9.1V354.24H184.7zM184.7 393.86h9.1V395.44H184.7zM184.7 411.29h9.1V412.87H184.7zM184.7 425.55h9.1V427.14H184.7zM193.8 57.88h9.1V59.46H193.8zM193.8 64.22h9.1V65.80H193.8zM193.8 157.72h9.1V159.31H193.8zM193.8 162.48h9.1V164.06H193.8zM193.8 206.85h9.1V208.43H193.8zM193.8 278.17h9.1V279.75H193.8zM202.9 61.05h9.1V62.63H202.9z"/>
<path fill="#6666ff" d="M30.0 45.20h9.1V48.37H30.0zM30.0 57.88h9.1V59.46H30.0zM30.0 65.80h9.1V67.39H30.0zM30.0 91.16h9.1V92.74H30.0zM30.0 94.33h9.1V95.91H30.0zM30.0 126.02h9.1V127.61H30.0zM30.0 154.55h9.1V156.14H30.0zM30.0 162.48h9.1V164.06H30.0zM30.0 175.15h9.1V176.74H30.0zM30.0 213.19h9.1V214.77H30.0zM30.0 217.94h9.1V219.53H30.0zM30.0 236.96h9.1V238.55H30.0zM30.0 240.13h9.1V241.72H30.0zM30.0 284.50h9.1V286.09H30.0zM30.0 290.84h9.1V292.43H30.0zM30.0 313.03h9.1V314.62H30.0zM30.0 378.01h9.1V379.59H30.0zM30.0 384.35h9.1V385.93H30.0zM30.0 401.78h9.1V403.36H30.0zM30.0 412.87h9.1V414.46H30.0zM30.0 430.31h9.1V431.89H30.0zM39.1 56.29h9.1V59.46H39.1zM39.1 68.97h9.1V70.56H39.1zM39.1 75.31h9.1V76.90H39.1zM39.1 86.40h9.1V87.99H39.1zM39.1 127.61h9.1V129.19H39.1zM39.1 173.57h9.1V175.15H39.1zM39.1 368.50h9.1V370.08H39.1zM39.1 397.03h9.1V398.61H39.1zM39.1 439.82h9.1V441.40H39.1zM57.3 108.59h9.1V110.18H57.3zM66.4 70.56h9.1V72.14H66.4zM66.4 87.99h9.1V89.57H66.4zM66.4 107.01h9.1V108.59H66.4zM66.4 119.69h9.1V121.27H66.4zM66.4 133.95h9.1V135.53H66.4zM66.4 138.70h9.1V140.29H66.4zM66.4 141.87h9.1V143.46H66.4zM66.4 198.93h9.1V200.51H66.4zM66.4 235.38h9.1V236.96H66.4zM66.4 260.73h9.1V262.32H66.4zM66.4 286.09h9.1V287.67H66.4zM66.4 362.16h9.1V363.74H66.4zM66.4 400.20h9.1V401.78H66.4zM66.4 408.12h9.1V411.29H66.4zM66.4 417.63h9.1V419.21H66.4zM66.4 438.23h9.1V439.82H66.4zM75.5 103.84h9.1V107.01H75.5zM75.5 113.35h9.1V114.93H75.5zM75.5 126.02h9.1V129.19H75.5zM75.5 132.36h9.1V133.95H75.5zM75.5 143.46h9.1V145.04H75.5zM75.5 167.23h9.1V168.81H75.5zM75.5 230.62h9.1V232.21H75.5zM75.5 238.55h9.1V240.13H75.5zM75.5 255.98h9.1V257.56H75.5zM75.5 282.92h9.1V284.50H75.5zM75.5 287.67h9.1V289.26H75.5zM75.5 298.77h9.1V300.35H75.5zM75.5 365.33h9.1V366.91H75.5zM75.5 397.03h9.1V398.61H75.5zM75.5 416.04h9.1V419.21H75.5zM75.5 425.55h9.1V427.14H75.5zM102.8 62.63h9.1V64.22H102.8zM102.8 87.99h9.1V89.57H102.8zM102.8 97.50h9.1V99.08H102.8zM102.8 127.61h9.1V130.78H102.8zM102.8 178.32h9.1V179.91H102.8zM102.8 210.02h9.1V211.60H102.8zM102.8 221.11h9.1V222.70H102.8zM102.8 257.56h9.1V259.15H102.8zM102.8 286.09h9.1V287.67H102.8zM102.8 327.29h9.1V328.88H102.8zM102.8 338.39h9.1V339.97H102.8zM102.8 389.10h9.1V390.69H102.8zM102.8 393.86h9.1V395.44H102.8zM102.8 431.89h9.1V433.48H102.8zM102.8 435.06h9.1V436.65H102.8zM111.9 62.63h9.1V64.22H111.9zM111.9 72.14h9.1V73.73H111.9zM111.9 76.90h9.1V78.48H111.9zM111.9 87.99h9.1V89.57H111.9zM111.9 133.95h9.1V135.53H111.9zM111.9 138.70h9.1V140.29H111.9zM111.9 141.87h9.1V143.46H111.9zM111.9 146.63h9.1V148.21H111.9zM111.9 159.31h9.1V160.89H111.9zM111.9 187.83h9.1V189.42H111.9zM111.9 219.53h9.1V221.11H111.9zM111.9 238.55h9.1V240.13H111.9zM111.9 244.88h9.1V246.47H111.9zM111.9 249.64h9.1V251.22H111.9zM111.9 317.79h9.1V319.37H111.9zM111.9 343.14h9.1V344.73H111.9zM111.9 427.14h9.1V428.72H111.9zM139.2 80.07h9.1V81.65H139.2zM139.2 205.26h9.1V206.85H139.2zM139.2 252.81h9.1V254.39H139.2zM139.2 276.58h9.1V278.17H139.2zM139.2 300.35h9.1V301.94H139.2zM139.2 336.80h9.1V338.39H139.2zM139.2 355.82h9.1V357.41H139.2zM139.2 374.84h9.1V376.42H139.2zM139.2 387.52h9.1V389.10H139.2zM139.2 393.86h9.1V397.03H139.2zM139.2 430.31h9.1V431.89H139.2zM148.3 97.50h9.1V99.08H148.3zM148.3 130.78h9.1V132.36H148.3zM148.3 157.72h9.1V159.31H148.3zM148.3 181.49h9.1V183.08H148.3zM148.3 235.38h9.1V236.96H148.3zM148.3 300.35h9.1V301.94H148.3zM148.3 325.71h9.1V327.29H148.3zM148.3 341.56h9.1V343.14H148.3zM148.3 352.65h9.1V354.24H148.3zM148.3 368.50h9.1V370.08H148.3zM148.3 371.67h9.1V373.25H148.3zM148.3 379.59h9.1V381.18H148.3zM148.3 389.10h9.1V390.69H148.3zM148.3 430.31h9.1V431.89H148.3zM157.4 271.83h9.1V273.41H157.4zM166.5 46.78h9.1V48.37H166.5zM166.5 65.80h9.1V67.39H166.5zM166.5 140.29h9.1V141.87H166.5zM166.5 197.34h9.1V198.93H166.5zM166.5 295.60h9.1V297.18H166.5zM166.5 322.54h9.1V324.12H166.5zM166.5 352.65h9.1V354.24H166.5zM166.5 363.74h9.1V365.33H166.5zM166.5 403.36h9.1V404.95H166.5zM175.6 97.50h9.1V99.08H175.6zM175.6 107.01h9.1V108.59H175.6zM175.6 154.55h9.1V156.14H175.6zM175.6 167.23h9.1V170.40H175.6zM175.6 192.59h9.1V194.17H175.6zM175.6 197.34h9.1V198.93H175.6zM175.6 205.26h9.1V206.85H175.6zM175.6 230.62h9.1V232.21H175.6zM175.6 233.79h9.1V235.38H175.6zM175.6 268.66h9.1V270.24H175.6zM175.6 289.26h9.1V290.84H175.6zM175.6 311.45h9.1V313.03H175.6zM175.6 333.63h9.1V335.22H175.6zM175.6 343.14h9.1V344.73H175.6zM175.6 347.90h9.1V349.48H175.6zM175.6 351.07h9.1V352.65H175.6zM175.6 362.16h9.1V363.74H175.6zM175.6 379.59h9.1V381.18H175.6zM175.6 395.44h9.1V397.03H175.6zM175.6 400.20h9.1V401.78H175.6zM184.7 75.31h9.1V76.90H184.7zM184.7 87.99h9.1V89.57H184.7zM184.7 181.49h9.1V183.08H184.7zM184.7 191.00h9.1V192.59H184.7zM184.7 217.94h9.1V219.53H184.7zM184.7 224.28h9.1V225.87H184.7zM184.7 259.15h9.1V260.73H184.7zM184.7 287.67h9.1V289.26H184.7zM184.7 306.69h9.1V308.28H184.7zM184.7 355.82h9.1V357.41H184.7zM193.8 94.33h9.1V95.91H193.8zM193.8 114.93h9.1V116.52H193.8zM193.8 160.89h9.1V162.48H193.8zM193.8 175.15h9.1V176.74H193.8zM193.8 181.49h9.1V183.08H193.8zM193.8 232.21h9.1V233.79H193.8zM193.8 392.27h9.1V393.86H193.8zM193.8 428.72h9.1V430.31H193.8zM202.9 124.44h9.1V126.02H202.9zM202.9 145.04h9.1V146.63H202.9zM202.9 203.68h9.1V205.26H202.9z"/>
<path fill="#7373ff" d="M30.0 53.12h9.1V56.29H30.0zM30.0 76.90h9.1V78.48H30.0zM30.0 95.91h9.1V97.50H30.0zM30.0 100.67h9.1V102.25H30.0zM30.0 110.18h9.1V111.76H30.0zM30.0 129.19h9.1V133.95H30.0zM30.0 176.74h9.1V178.32H30.0zM30.0 282.92h9.1V284.50H30.0zM30.0 292.43h9.1V294.01H30.0zM30.0 308.28h9.1V309.86H30.0zM30.0 349.48h9.1V351.07H30.0zM30.0 400.20h9.1V401.78H30.0zM30.0 416.04h9.1V417.63H30.0zM30.0 428.72h9.1V430.31H30.0zM39.1 107.01h9.1V108.59H39.1zM39.1 140.29h9.1V141.87H39.1zM39.1 146.63h9.1V148.21H39.1zM39.1 170.40h9.1V171.98H39.1zM39.1 175.15h9.1V176.74H39.1zM39.1 184.66h9.1V186.25H39.1zM39.1 197.34h9.1V198.93H39.1zM39.1 205.26h9.1V206.85H39.1zM39.1 246.47h9.1V248.05H39.1zM39.1 297.18h9.1V298.77H39.1zM39.1 333.63h9.1V335.22H39.1zM39.1 382.76h9.1V384.35H39.1zM39.1 389.10h9.1V390.69H39.1zM39.1 392.27h9.1V393.86H39.1zM39.1 404.95h9.1V406.53H39.1zM39.1 425.55h9.1V427.14H39.1zM57.3 138.70h9.1V140.29H57.3zM66.4 95.91h9.1V97.50H66.4zM66.4 113.35h9.1V114.93H66.4zM66.4 126.02h9.1V127.61H66.4zM66.4 140.29h9.1V141.87H66.4zM66.4 152.97h9.1V154.55H66.4zM66.4 210.02h9.1V211.60H66.4zM66.4 224.28h9.1V225.87H66.4zM66.4 229.04h9.1V230.62H66.4zM66.4 282.92h9.1V284.50H66.4zM66.4 298.77h9.1V300.35H66.4zM66.4 355.82h9.1V357.41H66.4zM66.4 368.50h9.1V370.08H66.4zM66.4 393.86h9.1V395.44H66.4zM66.4 411.29h9.1V412.87H66.4zM75.5 48.37h9.1V49.95H75.5zM75.5 72.14h9.1V73.73H75.5zM75.5 76.90h9.1V78.48H75.5zM75.5 95.91h9.1V97.50H75.5zM75.5 108.59h9.1V110.18H75.5zM75.5 119.69h9.1V121.27H75.5zM75.5 129.19h9.1V130.78H75.5zM75.5 140.29h9.1V141.87H75.5zM75.5 149.80h9.1V151.38H75.5zM75.5 289.26h9.1V290.84H75.5zM75.5 320.96h9.1V324.12H75.5zM75.5 357.41h9.1V358.99H75.5zM75.5 360.58h9.1V362.16H75.5zM75.5 363.74h9.1V365.33H75.5zM75.5 393.86h9.1V395.44H75.5zM75.5 409.70h9.1V411.29H75.5zM102.8 56.29h9.1V57.88H102.8zM102.8 67.39h9.1V68.97H102.8zM102.8 73.73h9.1V78.48H102.8zM102.8 100.67h9.1V102.25H102.8zM102.8 105.42h9.1V107.01H102.8zM102.8 118.10h9.1V119.69H102.8zM102.8 124.44h9.1V126.02H102.8zM102.8 143.46h9.1V145.04H102.8zM102.8 154.55h9.1V156.14H102.8zM102.8 159.31h9.1V160.89H102.8zM102.8 183.08h9.1V184.66H102.8zM102.8 200.51h9.1V202.10H102.8zM102.8 216.36h9.1V217.94H102.8zM102.8 232.21h9.1V233.79H102.8zM102.8 244.88h9.1V246.47H102.8zM102.8 248.05h9.1V249.64H102.8zM102.8 251.22h9.1V252.81H102.8zM102.8 265.49h9.1V267.07H102.8zM102.8 303.52h9.1V306.69H102.8zM102.8 324.12h9.1V325.71H102.8zM102.8 341.56h9.1V343.14H102.8zM102.8 400.20h9.1V401.78H102.8zM102.8 417.63h9.1V420.80H102.8zM102.8 427.14h9.1V428.72H102.8zM111.9 119.69h9.1V121.27H111.9zM111.9 129.19h9.1V130.78H111.9zM111.9 148.21h9.1V149.80H111.9zM111.9 173.57h9.1V175.15H111.9zM111.9 179.91h9.1V181.49H111.9zM111.9 205.26h9.1V206.85H111.9zM111.9 214.77h9.1V216.36H111.9zM111.9 222.70h9.1V224.28H111.9zM111.9 267.07h9.1V268.66H111.9zM111.9 298.77h9.1V300.35H111.9zM111.9 319.37h9.1V320.96H111.9zM111.9 347.90h9.1V349.48H111.9zM111.9 365.33h9.1V366.91H111.9zM111.9 382.76h9.1V384.35H111.9zM111.9 439.82h9.1V441.40H111.9zM139.2 57.88h9.1V59.46H139.2zM139.2 76.90h9.1V78.48H139.2zM139.2 99.08h9.1V100.67H139.2zM139.2 113.35h9.1V114.93H139.2zM139.2 124.44h9.1V126.02H139.2zM139.2 165.64h9.1V167.23H139.2zM139.2 202.10h9.1V203.68H139.2zM139.2 214.77h9.1V216.36H139.2zM139.2 221.11h9.1V222.70H139.2zM139.2 230.62h9.1V232.21H139.2zM139.2 238.55h9.1V240.13H139.2zM139.2 251.22h9.1V252.81H139.2zM139.2 278.17h9.1V279.75H139.2zM139.2 301.94h9.1V303.52H139.2zM139.2 308.28h9.1V309.86H139.2zM139.2 311.45h9.1V313.03H139.2zM139.2 373.25h9.1V374.84H139.2zM139.2 376.42h9.1V378.01H139.2zM139.2 419.21h9.1V420.80H139.2zM148.3 46.78h9.1V48.37H148.3zM148.3 80.07h9.1V81.65H148.3zM148.3 160.89h9.1V162.48H148.3zM148.3 189.42h9.1V191.00H148.3zM148.3 203.68h9.1V205.26H148.3zM148.3 224.28h9.1V227.45H148.3zM148.3 333.63h9.1V335.22H148.3zM148.3 397.03h9.1V398.61H148.3zM148.3 406.53h9.1V408.12H148.3zM148.3 431.89h9.1V433.48H148.3zM166.5 111.76h9.1V113.35H166.5zM166.5 118.10h9.1V119.69H166.5zM166.5 156.14h9.1V157.72H166.5zM166.5 171.98h9.1V173.57H166.5zM166.5 187.83h9.1V189.42H166.5zM166.5 192.59h9.1V194.17H166.5zM166.5 202.10h9.1V203.68H166.5zM166.5 225.87h9.1V227.45H166.5zM166.5 232.21h9.1V233.79H166.5zM166.5 263.90h9.1V265.49H166.5zM166.5 298.77h9.1V300.35H166.5zM166.5 333.63h9.1V335.22H166.5zM166.5 366.91h9.1V368.50H166.5zM166.5 400.20h9.1V401.78H166.5zM166.5 428.72h9.1V430.31H166.5zM175.6 59.46h9.1V61.05H175.6zM175.6 67.39h9.1V68.97H175.6zM175.6 89.57h9.1V91.16H175.6zM175.6 94.33h9.1V95.91H175.6zM175.6 119.69h9.1V121.27H175.6zM175.6 137.12h9.1V138.70H175.6zM175.6 173.57h9.1V175.15H175.6zM175.6 183.08h9.1V184.66H175.6zM175.6 214.77h9.1V216.36H175.6zM175.6 229.04h9.1V230.62H175.6zM175.6 232.21h9.1V233.79H175.6zM175.6 270.24h9.1V275.00H175.6zM175.6 357.41h9.1V358.99H175.6zM175.6 363.74h9.1V365.33H175.6zM175.6 412.87h9.1V414.46H175.6zM184.7 64.22h9.1V65.80H184.7zM184.7 91.16h9.1V92.74H184.7zM184.7 95.91h9.1V97.50H184.7zM184.7 124.44h9.1V126.02H184.7zM184.7 186.25h9.1V187.83H184.7zM184.7 189.42h9.1V191.00H184.7zM184.7 203.68h9.1V205.26H184.7zM184.7 216.36h9.1V217.94H184.7zM184.7 240.13h9.1V241.72H184.7zM184.7 276.58h9.1V278.17H184.7zM184.7 305.11h9.1V306.69H184.7zM184.7 343.14h9.1V344.73H184.7zM184.7 360.58h9.1V362.16H184.7zM184.7 389.10h9.1V390.69H184.7zM193.8 46.78h9.1V48.37H193.8zM193.8 59.46h9.1V61.05H193.8zM193.8 268.66h9.1V270.24H193.8zM193.8 301.94h9.1V303.52H193.8zM193.8 403.36h9.1V404.95H193.8zM193.8 420.80h9.1V422.38H193.8zM193.8 430.31h9.1V431.89H193.8zM202.9 141.87h9.1V143.46H202.9zM202.9 156.14h9.1V157.72H202.9zM202.9 227.45h9.1V229.04H202.9zM202.9 354.24h9.1V355.82H202.9zM202.9 412.87h9.1V414.46H202.9z"/>
<path fill="#8080ff" d="M30.0 61.05h9.1V62.63H30.0zM30.0 67.39h9.1V68.97H30.0zM30.0 135.53h9.1V138.70H30.0zM30.0 143.46h9.1V145.04H30.0zM30.0 197.34h9.1V198.93H30.0zM30.0 219.53h9.1V221.11H30.0zM30.0 230.62h9.1V232.21H30.0zM30.0 257.56h9.1V259.15H30.0zM30.0 260.73h9.1V262.32H30.0zM30.0 281.34h9.1V282.92H30.0zM30.0 333.63h9.1V336.80H30.0zM30.0 363.74h9.1V365.33H30.0zM30.0 368.50h9.1V370.08H30.0zM30.0 382.76h9.1V384.35H30.0zM30.0 385.93h9.1V387.52H30.0zM30.0 390.69h9.1V392.27H30.0zM30.0 397.03h9.1V398.61H30.0zM30.0 406.53h9.1V408.12H30.0zM30.0 409.70h9.1V411.29H30.0zM30.0 427.14h9.1V428.72H30.0zM39.1 103.84h9.1V107.01H39.1zM39.1 214.77h9.1V216.36H39.1zM39.1 248.05h9.1V249.64H39.1zM39.1 286.09h9.1V287.67H39.1zM39.1 308.28h9.1V309.86H39.1zM39.1 314.62h9.1V316.20H39.1zM39.1 365.33h9.1V366.91H39.1zM39.1 374.84h9.1V376.42H39.1zM66.4 51.54h9.1V54.71H66.4zM66.4 92.74h9.1V94.33H66.4zM66.4 122.86h9.1V124.44H66.4zM66.4 175.15h9.1V176.74H66.4zM66.4 194.17h9.1V195.76H66.4zM66.4 197.34h9.1V198.93H66.4zM66.4 265.49h9.1V267.07H66.4zM66.4 320.96h9.1V322.54H66.4zM66.4 333.63h9.1V335.22H66.4zM66.4 346.31h9.1V347.90H66.4zM66.4 357.41h9.1V358.99H66.4zM66.4 374.84h9.1V378.01H66.4zM66.4 420.80h9.1V422.38H66.4zM75.5 97.50h9.1V99.08H75.5zM75.5 111.76h9.1V113.35H75.5zM75.5 121.27h9.1V122.86H75.5zM75.5 173.57h9.1V178.32H75.5zM75.5 183.08h9.1V184.66H75.5zM75.5 210.02h9.1V211.60H75.5zM75.5 214.77h9.1V216.36H75.5zM75.5 241.72h9.1V243.30H75.5zM75.5 246.47h9.1V248.05H75.5zM75.5 262.32h9.1V263.90H75.5zM75.5 275.00h9.1V276.58H75.5zM75.5 313.03h9.1V316.20H75.5zM75.5 319.37h9.1V320.96H75.5zM75.5 343.14h9.1V344.73H75.5zM75.5 346.31h9.1V347.90H75.5zM75.5 354.24h9.1V355.82H75.5zM75.5 384.35h9.1V385.93H75.5zM75.5 412.87h9.1V414.46H75.5zM102.8 45.20h9.1V46.78H102.8zM102.8 48.37h9.1V49.95H102.8zM102.8 91.16h9.1V94.33H102.8zM102.8 103.84h9.1V105.42H102.8zM102.8 119.69h9.1V121.27H102.8zM102.8 126.02h9.1V127.61H102.8zM102.8 157.72h9.1V159.31H102.8zM102.8 179.91h9.1V181.49H102.8zM102.8 214.77h9.1V216.36H102.8zM102.8 260.73h9.1V262.32H102.8zM102.8 270.24h9.1V271.83H102.8zM102.8 275.00h9.1V276.58H102.8zM102.8 308.28h9.1V309.86H102.8zM102.8 316.20h9.1V317.79H102.8zM102.8 357.41h9.1V358.99H102.8zM102.8 370.08h9.1V371.67H102.8zM102.8 416.04h9.1V417.63H102.8zM102.8 422.38h9.1V423.97H102.8zM111.9 75.31h9.1V76.90H111.9zM111.9 102.25h9.1V103.84H111.9zM111.9 105.42h9.1V107.01H111.9zM111.9 192.59h9.1V194.17H111.9zM111.9 197.34h9.1V198.93H111.9zM111.9 241.72h9.1V243.30H111.9zM111.9 248.05h9.1V249.64H111.9zM111.9 297.18h9.1V298.77H111.9zM111.9 316.20h9.1V317.79H111.9zM111.9 357.41h9.1V358.99H111.9zM111.9 360.58h9.1V362.16H111.9zM111.9 393.86h9.1V395.44H111.9zM111.9 398.61h9.1V400.20H111.9zM139.2 83.24h9.1V84.82H139.2zM139.2 156.14h9.1V157.72H139.2zM139.2 176.74h9.1V178.32H139.2zM139.2 179.91h9.1V181.49H139.2zM139.2 273.41h9.1V276.58H139.2zM139.2 282.92h9.1V284.50H139.2zM139.2 287.67h9.1V289.26H139.2zM139.2 313.03h9.1V314.62H139.2zM139.2 328.88h9.1V330.46H139.2zM139.2 341.56h9.1V343.14H139.2zM139.2 344.73h9.1V346.31H139.2zM139.2 362.16h9.1V363.74H139.2zM139.2 365.33h9.1V366.91H139.2zM139.2 392.27h9.1V393.86H139.2zM139.2 400.20h9.1V401.78H139.2zM139.2 425.55h9.1V427.14H139.2zM139.2 428.72h9.1V430.31H139.2zM148.3 45.20h9.1V46.78H148.3zM148.3 49.95h9.1V51.54H148.3zM148.3 78.48h9.1V80.07H148.3zM148.3 92.74h9.1V94.33H148.3zM148.3 95.91h9.1V97.50H148.3zM148.3 110.18h9.1V111.76H148.3zM148.3 119.69h9.1V121.27H148.3zM148.3 254.39h9.1V255.98H148.3zM148.3 259.15h9.1V260.73H148.3zM148.3 278.17h9.1V279.75H148.3zM148.3 292.43h9.1V294.01H148.3zM148.3 301.94h9.1V303.52H148.3zM148.3 360.58h9.1V362.16H148.3zM148.3 374.84h9.1V376.42H148.3zM148.3 378.01h9.1V379.59H148.3zM157.4 162.48h9.1V164.06H157.4zM166.5 94.33h9.1V95.91H166.5zM166.5 146.63h9.1V148.21H166.5zM166.5 175.15h9.1V178.32H166.5zM166.5 206.85h9.1V208.43H166.5zM166.5 213.19h9.1V214.77H166.5zM166.5 389.10h9.1V390.69H166.5zM166.5 392.27h9.1V393.86H166.5zM166.5 398.61h9.1V400.20H166.5zM166.5 435.06h9.1V436.65H166.5zM175.6 64.22h9.1V65.80H175.6zM175.6 91.16h9.1V92.74H175.6zM175.6 181.49h9.1V183.08H175.6zM175.6 194.17h9.1V195.76H175.6zM175.6 216.36h9.1V217.94H175.6zM175.6 221.11h9.1V222.70H175.6zM175.6 235.38h9.1V236.96H175.6zM175.6 275.00h9.1V276.58H175.6zM175.6 281.34h9.1V282.92H175.6zM175.6 295.60h9.1V297.18H175.6zM175.6 322.54h9.1V324.12H175.6zM175.6 371.67h9.1V373.25H175.6zM175.6 378.01h9.1V379.59H175.6zM175.6 381.18h9.1V382.76H175.6zM175.6 430.31h9.1V431.89H175.6zM184.7 72.14h9.1V73.73H184.7zM184.7 102.25h9.1V105.42H184.7zM184.7 130.78h9.1V132.36H184.7zM184.7 175.15h9.1V176.74H184.7zM184.7 200.51h9.1V202.10H184.7zM184.7 219.53h9.1V221.11H184.7zM184.7 251.22h9.1V252.81H184.7zM184.7 325.71h9.1V327.29H184.7zM184.7 349.48h9.1V351.07H184.7zM184.7 401.78h9.1V403.36H184.7zM184.7 417.63h9.1V419.21H184.7zM193.8 135.53h9.1V137.12H193.8zM193.8 141.87h9.1V143.46H193.8zM193.8 167.23h9.1V168.81H193.8zM193.8 252.81h9.1V254.39H193.8zM193.8 316.20h9.1V317.79H193.8zM193.8 327.29h9.1V328.88H193.8zM193.8 338.39h9.1V339.97H193.8zM193.8 363.74h9.1V365.33H193.8zM193.8 379.59h9.1V381.18H193.8zM193.8 414.46h9.1V416.04H193.8zM202.9 385.93h9.1V387.52H202.9z"/>
<path fill="#8c8cff" d="M30.0 51.54h9.1V53.12H30.0zM30.0 83.24h9.1V84.82H30.0zM30.0 86.40h9.1V87.99H30.0zM30.0 124.44h9.1V126.02H30.0zM30.0 151.38h9.1V152.97H30.0zM30.0 222.70h9.1V224.28H30.0zM30.0 229.04h9.1V230.62H30.0zM30.0 235.38h9.1V236.96H30.0zM30.0 246.47h9.1V248.05H30.0zM30.0 298.77h9.1V300.35H30.0zM30.0 311.45h9.1V313.03H30.0zM30.0 338.39h9.1V339.97H30.0zM39.1 119.69h9.1V121.27H39.1zM39.1 189.42h9.1V191.00H39.1zM39.1 194.17h9.1V195.76H39.1zM39.1 216.36h9.1V217.94H39.1zM39.1 284.50h9.1V286.09H39.1zM39.1 355.82h9.1V357.41H39.1zM39.1 371.67h9.1V373.25H39.1zM39.1 411.29h9.1V412.87H39.1zM57.3 370.08h9.1V371.67H57.3zM57.3 400.20h9.1V401.78H57.3zM66.4 94.33h9.1V95.91H66.4zM66.4 103.84h9.1V105.42H66.4zM66.4 127.61h9.1V129.19H66.4zM66.4 132.36h9.1V133.95H66.4zM66.4 137.12h9.1V138.70H66.4zM66.4 154.55h9.1V156.14H66.4zM66.4 181.49h9.1V183.08H66.4zM66.4 200.51h9.1V202.10H66.4zM66.4 263.90h9.1V265.49H66.4zM66.4 297.18h9.1V298.77H66.4zM66.4 335.22h9.1V336.80H66.4zM66.4 360.58h9.1V362.16H66.4zM66.4 412.87h9.1V414.46H66.4zM66.4 427.14h9.1V428.72H66.4zM75.5 56.29h9.1V59.46H75.5zM75.5 64.22h9.1V65.80H75.5zM75.5 73.73h9.1V75.31H75.5zM75.5 114.93h9.1V116.52H75.5zM75.5 162.48h9.1V164.06H75.5zM75.5 213.19h9.1V214.77H75.5zM75.5 222.70h9.1V224.28H75.5zM75.5 232.21h9.1V233.79H75.5zM75.5 244.88h9.1V246.47H75.5zM75.5 259.15h9.1V262.32H75.5zM75.5 284.50h9.1V286.09H75.5zM75.5 327.29h9.1V328.88H75.5zM75.5 379.59h9.1V381.18H75.5zM75.5 385.93h9.1V387.52H75.5zM75.5 392.27h9.1V393.86H75.5zM75.5 408.12h9.1V409.70H75.5zM75.5 419.21h9.1V420.80H75.5zM102.8 107.01h9.1V108.59H102.8zM102.8 138.70h9.1V140.29H102.8zM102.8 156.14h9.1V157.72H102.8zM102.8 203.68h9.1V205.26H102.8zM102.8 227.45h9.1V229.04H102.8zM102.8 306.69h9.1V308.28H102.8zM102.8 319.37h9.1V320.96H102.8zM102.8 328.88h9.1V330.46H102.8zM102.8 336.80h9.1V338.39H102.8zM102.8 385.93h9.1V387.52H102.8zM102.8 414.46h9.1V416.04H102.8zM111.9 83.24h9.1V86.40H111.9zM111.9 126.02h9.1V127.61H111.9zM111.9 162.48h9.1V164.06H111.9zM111.9 165.64h9.1V167.23H111.9zM111.9 189.42h9.1V191.00H111.9zM111.9 200.51h9.1V202.10H111.9zM111.9 268.66h9.1V270.24H111.9zM111.9 278.17h9.1V279.75H111.9zM111.9 355.82h9.1V357.41H111.9zM111.9 371.67h9.1V373.25H111.9zM111.9 397.03h9.1V398.61H111.9zM111.9 411.29h9.1V412.87H111.9zM139.2 72.14h9.1V73.73H139.2zM139.2 78.48h9.1V80.07H139.2zM139.2 94.33h9.1V95.91H139.2zM139.2 100.67h9.1V102.25H139.2zM139.2 110.18h9.1V111.76H139.2zM139.2 194.17h9.1V195.76H139.2zM139.2 206.85h9.1V208.43H139.2zM139.2 333.63h9.1V335.22H139.2zM139.2 389.10h9.1V390.69H139.2zM148.3 99.08h9.1V100.67H148.3zM148.3 148.21h9.1V149.80H148.3zM148.3 159.31h9.1V160.89H148.3zM148.3 191.00h9.1V192.59H148.3zM148.3 210.02h9.1V211.60H148.3zM148.3 217.94h9.1V219.53H148.3zM148.3 222.70h9.1V224.28H148.3zM148.3 229.04h9.1V232.21H148.3zM148.3 244.88h9.1V246.47H148.3zM148.3 286.09h9.1V287.67H148.3zM148.3 305.11h9.1V306.69H148.3zM148.3 308.28h9.1V309.86H148.3zM148.3 408.12h9.1V409.70H148.3zM148.3 436.65h9.1V438.23H148.3zM166.5 89.57h9.1V91.16H166.5zM166.5 141.87h9.1V143.46H166.5zM166.5 145.04h9.1V146.63H166.5zM166.5 216.36h9.1V219.53H166.5zM166.5 235.38h9.1V236.96H166.5zM166.5 249.64h9.1V251.22H166.5zM166.5 282.92h9.1V284.50H166.5zM166.5 290.84h9.1V292.43H166.5zM166.5 316.20h9.1V317.79H166.5zM166.5 338.39h9.1V339.97H166.5zM166.5 344.73h9.1V346.31H166.5zM166.5 357.41h9.1V358.99H166.5zM166.5 365.33h9.1V366.91H166.5zM166.5 371.67h9.1V374.84H166.5zM166.5 376.42h9.1V378.01H166.5zM166.5 387.52h9.1V389.10H166.5zM166.5 390.69h9.1V392.27H166.5zM166.5 411.29h9.1V412.87H166.5zM175.6 53.12h9.1V54.71H175.6zM175.6 61.05h9.1V62.63H175.6zM175.6 133.95h9.1V135.53H175.6zM175.6 151.38h9.1V152.97H175.6zM175.6 187.83h9.1V189.42H175.6zM175.6 210.02h9.1V211.60H175.6zM175.6 286.09h9.1V289.26H175.6zM175.6 373.25h9.1V374.84H175.6zM175.6 385.93h9.1V387.52H175.6zM184.7 51.54h9.1V53.12H184.7zM184.7 68.97h9.1V70.56H184.7zM184.7 94.33h9.1V95.91H184.7zM184.7 126.02h9.1V127.61H184.7zM184.7 275.00h9.1V276.58H184.7zM184.7 309.86h9.1V311.45H184.7zM184.7 363.74h9.1V365.33H184.7zM184.7 379.59h9.1V381.18H184.7zM184.7 398.61h9.1V400.20H184.7zM184.7 430.31h9.1V431.89H184.7zM193.8 45.20h9.1V46.78H193.8zM193.8 48.37h9.1V49.95H193.8zM193.8 80.07h9.1V81.65H193.8zM193.8 132.36h9.1V133.95H193.8zM193.8 173.57h9.1V175.15H193.8zM193.8 235.38h9.1V236.96H193.8zM193.8 251.22h9.1V252.81H193.8zM193.8 273.41h9.1V275.00H193.8zM193.8 284.50h9.1V286.09H193.8zM193.8 298.77h9.1V300.35H193.8zM193.8 409.70h9.1V411.29H193.8zM202.9 64.22h9.1V65.80H202.9zM202.9 95.91h9.1V97.50H202.9zM202.9 140.29h9.1V141.87H202.9zM202.9 160.89h9.1V162.48H202.9zM202.9 260.73h9.1V262.32H202.9zM202.9 393.86h9.1V395.44H202.9z"/>
<path fill="#9999ff" d="M30.0 102.25h9.1V103.84H30.0zM30.0 107.01h9.1V108.59H30.0zM30.0 122.86h9.1V124.44H30.0zM30.0 148.21h9.1V149.80H30.0zM30.0 183.08h9.1V186.25H30.0zM30.0 205.26h9.1V206.85H30.0zM30.0 248.05h9.1V249.64H30.0zM30.0 271.83h9.1V273.41H30.0zM30.0 316.20h9.1V317.79H30.0zM30.0 324.12h9.1V325.71H30.0zM30.0 392.27h9.1V393.86H30.0zM39.1 100.67h9.1V102.25H39.1zM39.1 181.49h9.1V183.08H39.1zM39.1 200.51h9.1V202.10H39.1zM39.1 213.19h9.1V214.77H39.1zM39.1 262.32h9.1V263.90H39.1zM39.1 309.86h9.1V311.45H39.1zM39.1 381.18h9.1V382.76H39.1zM57.3 48.37h9.1V49.95H57.3zM57.3 243.30h9.1V244.88H57.3zM66.4 124.44h9.1V126.02H66.4zM66.4 130.78h9.1V132.36H66.4zM66.4 324.12h9.1V325.71H66.4zM66.4 365.33h9.1V366.91H66.4zM75.5 62.63h9.1V64.22H75.5zM75.5 281.34h9.1V282.92H75.5zM75.5 290.84h9.1V292.43H75.5zM75.5 333.63h9.1V336.80H75.5zM75.5 349.48h9.1V351.07H75.5zM75.5 355.82h9.1V357.41H75.5zM75.5 371.67h9.1V373.25H75.5zM75.5 389.10h9.1V390.69H75.5zM75.5 398.61h9.1V400.20H75.5zM75.5 431.89h9.1V433.48H75.5zM75.5 435.06h9.1V436.65H75.5zM75.5 439.82h9.1V441.40H75.5zM102.8 54.71h9.1V56.29H102.8zM102.8 83.24h9.1V84.82H102.8zM102.8 99.08h9.1V100.67H102.8zM102.8 141.87h9.1V143.46H102.8zM102.8 164.06h9.1V165.64H102.8zM102.8 219.53h9.1V221.11H102.8zM102.8 229.04h9.1V230.62H102.8zM102.8 240.13h9.1V241.72H102.8zM102.8 268.66h9.1V270.24H102.8zM102.8 278.17h9.1V279.75H102.8zM102.8 317.79h9.1V319.37H102.8zM102.8 325.71h9.1V327.29H102.8zM102.8 332.05h9.1V335.22H102.8zM102.8 352.65h9.1V355.82H102.8zM102.8 395.44h9.1V397.03H102.8zM102.8 401.78h9.1V403.36H102.8zM102.8 428.72h9.1V430.31H102.8zM102.8 438.23h9.1V439.82H102.8zM111.9 145.04h9.1V146.63H111.9zM111.9 149.80h9.1V151.38H111.9zM111.9 224.28h9.1V225.87H111.9zM111.9 308.28h9.1V311.45H111.9zM111.9 376.42h9.1V378.01H111.9zM111.9 381.18h9.1V382.76H111.9zM111.9 387.52h9.1V389.10H111.9zM111.9 395.44h9.1V397.03H111.9zM111.9 422.38h9.1V423.97H111.9zM139.2 61.05h9.1V62.63H139.2zM139.2 65.80h9.1V67.39H139.2zM139.2 70.56h9.1V72.14H139.2zM139.2 129.19h9.1V130.78H139.2zM139.2 332.05h9.1V333.63H139.2zM139.2 339.97h9.1V341.56H139.2zM139.2 368.50h9.1V370.08H139.2zM139.2 398.61h9.1V400.20H139.2zM139.2 438.23h9.1V439.82H139.2zM148.3 62.63h9.1V64.22H148.3zM148.3 91.16h9.1V92.74H148.3zM148.3 113.35h9.1V114.93H148.3zM148.3 141.87h9.1V143.46H148.3zM148.3 170.40h9.1V171.98H148.3zM148.3 179.91h9.1V181.49H148.3zM148.3 267.07h9.1V268.66H148.3zM148.3 282.92h9.1V284.50H148.3zM148.3 294.01h9.1V295.60H148.3zM148.3 382.76h9.1V385.93H148.3zM148.3 398.61h9.1V400.20H148.3zM157.4 108.59h9.1V110.18H157.4zM157.4 400.20h9.1V401.78H157.4zM166.5 73.73h9.1V75.31H166.5zM166.5 78.48h9.1V80.07H166.5zM166.5 87.99h9.1V89.57H166.5zM166.5 137.12h9.1V138.70H166.5zM166.5 195.76h9.1V197.34H166.5zM166.5 233.79h9.1V235.38H166.5zM166.5 251.22h9.1V252.81H166.5zM166.5 270.24h9.1V271.83H166.5zM166.5 287.67h9.1V290.84H166.5zM166.5 297.18h9.1V298.77H166.5zM166.5 309.86h9.1V311.45H166.5zM166.5 330.46h9.1V332.05H166.5zM166.5 379.59h9.1V381.18H166.5zM166.5 382.76h9.1V384.35H166.5zM166.5 416.04h9.1V417.63H166.5zM175.6 51.54h9.1V53.12H175.6zM175.6 56.29h9.1V57.88H175.6zM175.6 84.82h9.1V86.40H175.6zM175.6 108.59h9.1V110.18H175.6zM175.6 124.44h9.1V126.02H175.6zM175.6 160.89h9.1V162.48H175.6zM175.6 189.42h9.1V191.00H175.6zM175.6 244.88h9.1V246.47H175.6zM175.6 248.05h9.1V249.64H175.6zM175.6 297.18h9.1V298.77H175.6zM175.6 300.35h9.1V301.94H175.6zM175.6 306.69h9.1V308.28H175.6zM175.6 336.80h9.1V338.39H175.6zM184.7 53.12h9.1V54.71H184.7zM184.7 114.93h9.1V116.52H184.7zM184.7 141.87h9.1V146.63H184.7zM184.7 206.85h9.1V208.43H184.7zM184.7 214.77h9.1V216.36H184.7zM184.7 257.56h9.1V259.15H184.7zM184.7 281.34h9.1V282.92H184.7zM184.7 320.96h9.1V322.54H184.7zM184.7 335.22h9.1V336.80H184.7zM184.7 403.36h9.1V404.95H184.7zM184.7 416.04h9.1V417.63H184.7zM193.8 81.65h9.1V83.24H193.8zM193.8 121.27h9.1V122.86H193.8zM193.8 124.44h9.1V126.02H193.8zM193.8 149.80h9.1V151.38H193.8zM193.8 202.10h9.1V205.26H193.8zM193.8 255.98h9.1V257.56H193.8zM193.8 263.90h9.1V265.49H193.8zM193.8 289.26h9.1V290.84H193.8zM193.8 311.45h9.1V313.03H193.8zM193.8 349.48h9.1V352.65H193.8zM193.8 385.93h9.1V387.52H193.8zM193.8 411.29h9.1V412.87H193.8zM193.8 416.04h9.1V417.63H193.8zM202.9 210.02h9.1V211.60H202.9zM202.9 292.43h9.1V294.01H202.9zM202.9 311.45h9.1V313.03H202.9zM202.9 401.78h9.1V403.36H202.9z"/>
<path fill="#a6a6ff" d="M30.0 119.69h9.1V121.27H30.0zM30.0 157.72h9.1V159.31H30.0zM30.0 189.42h9.1V191.00H30.0zM30.0 224.28h9.1V225.87H30.0zM30.0 358.99h9.1V360.58H30.0zM30.0 419.21h9.1V420.80H30.0zM39.1 67.39h9.1V68.97H39.1zM39.1 122.86h9.1V124.44H39.1zM39.1 244.88h9.1V246.47H39.1zM39.1 294.01h9.1V295.60H39.1zM39.1 395.44h9.1V397.03H39.1zM39.1 412.87h9.1V414.46H39.1zM39.1 416.04h9.1V417.63H39.1zM57.3 97.50h9.1V99.08H57.3zM57.3 114.93h9.1V116.52H57.3zM57.3 122.86h9.1V124.44H57.3zM57.3 189.42h9.1V191.00H57.3zM66.4 75.31h9.1V76.90H66.4zM66.4 159.31h9.1V160.89H66.4zM66.4 173.57h9.1V175.15H66.4zM66.4 213.19h9.1V214.77H66.4zM66.4 301.94h9.1V303.52H66.4zM66.4 366.91h9.1V368.50H66.4zM66.4 397.03h9.1V398.61H66.4zM66.4 422.38h9.1V423.97H66.4zM75.5 54.71h9.1V56.29H75.5zM75.5 91.16h9.1V92.74H75.5zM75.5 102.25h9.1V103.84H75.5zM75.5 124.44h9.1V126.02H75.5zM75.5 332.05h9.1V333.63H75.5zM75.5 336.80h9.1V338.39H75.5zM75.5 404.95h9.1V406.53H75.5zM102.8 78.48h9.1V80.07H102.8zM102.8 111.76h9.1V113.35H102.8zM102.8 133.95h9.1V137.12H102.8zM102.8 140.29h9.1V141.87H102.8zM102.8 224.28h9.1V225.87H102.8zM102.8 236.96h9.1V238.55H102.8zM102.8 262.32h9.1V263.90H102.8zM102.8 287.67h9.1V289.26H102.8zM102.8 347.90h9.1V349.48H102.8zM102.8 355.82h9.1V357.41H102.8zM111.9 95.91h9.1V97.50H111.9zM111.9 108.59h9.1V110.18H111.9zM111.9 113.35h9.1V114.93H111.9zM111.9 137.12h9.1V138.70H111.9zM111.9 140.29h9.1V141.87H111.9zM111.9 295.60h9.1V297.18H111.9zM111.9 419.21h9.1V420.80H111.9zM139.2 46.78h9.1V48.37H139.2zM139.2 68.97h9.1V70.56H139.2zM139.2 102.25h9.1V103.84H139.2zM139.2 105.42h9.1V107.01H139.2zM139.2 141.87h9.1V143.46H139.2zM139.2 244.88h9.1V248.05H139.2zM139.2 254.39h9.1V255.98H139.2zM139.2 259.15h9.1V260.73H139.2zM139.2 284.50h9.1V286.09H139.2zM139.2 327.29h9.1V328.88H139.2zM139.2 366.91h9.1V368.50H139.2zM148.3 51.54h9.1V53.12H148.3zM148.3 64.22h9.1V65.80H148.3zM148.3 89.57h9.1V91.16H148.3zM148.3 124.44h9.1V126.02H148.3zM148.3 132.36h9.1V133.95H148.3zM148.3 175.15h9.1V176.74H148.3zM148.3 232.21h9.1V233.79H148.3zM148.3 246.47h9.1V248.05H148.3zM148.3 263.90h9.1V265.49H148.3zM148.3 284.50h9.1V286.09H148.3zM148.3 287.67h9.1V289.26H148.3zM148.3 295.60h9.1V300.35H148.3zM148.3 336.80h9.1V338.39H148.3zM148.3 425.55h9.1V427.14H148.3zM166.5 49.95h9.1V51.54H166.5zM166.5 86.40h9.1V87.99H166.5zM166.5 97.50h9.1V99.08H166.5zM166.5 100.67h9.1V102.25H166.5zM166.5 107.01h9.1V108.59H166.5zM166.5 127.61h9.1V129.19H166.5zM166.5 162.48h9.1V164.06H166.5zM166.5 165.64h9.1V167.23H166.5zM166.5 183.08h9.1V184.66H166.5zM166.5 236.96h9.1V238.55H166.5zM166.5 255.98h9.1V257.56H166.5zM166.5 276.58h9.1V278.17H166.5zM166.5 314.62h9.1V316.20H166.5zM166.5 343.14h9.1V344.73H166.5zM166.5 346.31h9.1V347.90H166.5zM166.5 368.50h9.1V371.67H166.5zM166.5 439.82h9.1V441.40H166.5zM175.6 127.61h9.1V129.19H175.6zM175.6 260.73h9.1V263.90H175.6zM175.6 267.07h9.1V268.66H175.6zM175.6 282.92h9.1V284.50H175.6zM175.6 358.99h9.1V360.58H175.6zM175.6 382.76h9.1V384.35H175.6zM184.7 48.37h9.1V49.95H184.7zM184.7 62.63h9.1V64.22H184.7zM184.7 137.12h9.1V138.70H184.7zM184.7 208.43h9.1V210.02H184.7zM184.7 221.11h9.1V222.70H184.7zM184.7 263.90h9.1V265.49H184.7zM184.7 284.50h9.1V286.09H184.7zM184.7 351.07h9.1V352.65H184.7zM184.7 371.67h9.1V373.25H184.7zM184.7 397.03h9.1V398.61H184.7zM184.7 404.95h9.1V406.53H184.7zM193.8 118.10h9.1V119.69H193.8zM193.8 145.04h9.1V146.63H193.8zM193.8 156.14h9.1V157.72H193.8zM193.8 176.74h9.1V178.32H193.8zM193.8 186.25h9.1V187.83H193.8zM193.8 214.77h9.1V216.36H193.8zM193.8 221.11h9.1V222.70H193.8zM193.8 243.30h9.1V244.88H193.8zM193.8 246.47h9.1V249.64H193.8zM193.8 339.97h9.1V341.56H193.8zM193.8 343.14h9.1V344.73H193.8zM193.8 370.08h9.1V371.67H193.8zM193.8 408.12h9.1V409.70H193.8zM193.8 427.14h9.1V428.72H193.8zM202.9 94.33h9.1V95.91H202.9zM202.9 129.19h9.1V130.78H202.9zM202.9 154.55h9.1V156.14H202.9zM202.9 187.83h9.1V189.42H202.9zM202.9 197.34h9.1V198.93H202.9zM202.9 273.41h9.1V276.58H202.9zM202.9 363.74h9.1V365.33H202.9zM202.9 427.14h9.1V428.72H202.9zM202.9 439.82h9.1V441.40H202.9z"/>
<path fill="#b2b2ff" d="M30.0 75.31h9.1V76.90H30.0zM30.0 99.08h9.1V100.67H30.0zM30.0 133.95h9.1V135.53H30.0zM30.0 149.80h9.1V151.38H30.0zM30.0 173.57h9.1V175.15H30.0zM30.0 191.00h9.1V192.59H30.0zM30.0 268.66h9.1V270.24H30.0zM30.0 294.01h9.1V297.18H30.0zM30.0 314.62h9.1V316.20H30.0zM30.0 395.44h9.1V397.03H30.0zM39.1 133.95h9.1V135.53H39.1zM39.1 151.38h9.1V152.97H39.1zM39.1 232.21h9.1V233.79H39.1zM39.1 438.23h9.1V439.82H39.1zM57.3 49.95h9.1V51.54H57.3zM57.3 308.28h9.1V309.86H57.3zM57.3 344.73h9.1V346.31H57.3zM57.3 389.10h9.1V390.69H57.3zM66.4 89.57h9.1V91.16H66.4zM66.4 102.25h9.1V103.84H66.4zM66.4 183.08h9.1V184.66H66.4zM66.4 248.05h9.1V249.64H66.4zM66.4 268.66h9.1V270.24H66.4zM66.4 294.01h9.1V295.60H66.4zM66.4 381.18h9.1V382.76H66.4zM75.5 45.20h9.1V46.78H75.5zM75.5 61.05h9.1V62.63H75.5zM75.5 86.40h9.1V87.99H75.5zM75.5 89.57h9.1V91.16H75.5zM75.5 200.51h9.1V202.10H75.5zM75.5 229.04h9.1V230.62H75.5zM75.5 252.81h9.1V254.39H75.5zM75.5 306.69h9.1V308.28H75.5zM75.5 316.20h9.1V317.79H75.5zM75.5 341.56h9.1V343.14H75.5zM75.5 370.08h9.1V371.67H75.5zM84.6 205.26h9.1V206.85H84.6zM102.8 72.14h9.1V73.73H102.8zM102.8 146.63h9.1V148.21H102.8zM102.8 171.98h9.1V173.57H102.8zM102.8 225.87h9.1V227.45H102.8zM102.8 252.81h9.1V254.39H102.8zM102.8 282.92h9.1V284.50H102.8zM102.8 289.26h9.1V292.43H102.8zM102.8 366.91h9.1V368.50H102.8zM102.8 374.84h9.1V378.01H102.8zM102.8 409.70h9.1V411.29H102.8zM111.9 92.74h9.1V94.33H111.9zM111.9 385.93h9.1V387.52H111.9zM139.2 45.20h9.1V46.78H139.2zM139.2 75.31h9.1V76.90H139.2zM139.2 89.57h9.1V91.16H139.2zM139.2 107.01h9.1V108.59H139.2zM139.2 143.46h9.1V145.04H139.2zM139.2 159.31h9.1V162.48H139.2zM139.2 164.06h9.1V165.64H139.2zM139.2 175.15h9.1V176.74H139.2zM139.2 210.02h9.1V211.60H139.2zM139.2 219.53h9.1V221.11H139.2zM139.2 229.04h9.1V230.62H139.2zM139.2 255.98h9.1V257.56H139.2zM139.2 262.32h9.1V263.90H139.2zM139.2 267.07h9.1V268.66H139.2zM139.2 295.60h9.1V297.18H139.2zM139.2 305.11h9.1V306.69H139.2zM139.2 384.35h9.1V385.93H139.2zM139.2 412.87h9.1V414.46H139.2zM148.3 75.31h9.1V76.90H148.3zM148.3 87.99h9.1V89.57H148.3zM148.3 162.48h9.1V164.06H148.3zM148.3 214.77h9.1V216.36H148.3zM148.3 219.53h9.1V221.11H148.3zM148.3 236.96h9.1V238.55H148.3zM148.3 314.62h9.1V316.20H148.3zM148.3 324.12h9.1V325.71H148.3zM166.5 64.22h9.1V65.80H166.5zM166.5 121.27h9.1V122.86H166.5zM166.5 135.53h9.1V137.12H166.5zM166.5 143.46h9.1V145.04H166.5zM166.5 160.89h9.1V162.48H166.5zM166.5 164.06h9.1V165.64H166.5zM166.5 179.91h9.1V181.49H166.5zM166.5 284.50h9.1V286.09H166.5zM166.5 294.01h9.1V295.60H166.5zM166.5 325.71h9.1V327.29H166.5zM166.5 347.90h9.1V349.48H166.5zM166.5 397.03h9.1V398.61H166.5zM166.5 427.14h9.1V428.72H166.5zM175.6 75.31h9.1V76.90H175.6zM175.6 176.74h9.1V178.32H175.6zM175.6 241.72h9.1V243.30H175.6zM175.6 360.58h9.1V362.16H175.6zM175.6 425.55h9.1V427.14H175.6zM184.7 67.39h9.1V68.97H184.7zM184.7 140.29h9.1V141.87H184.7zM184.7 151.38h9.1V152.97H184.7zM184.7 195.76h9.1V197.34H184.7zM184.7 244.88h9.1V246.47H184.7zM184.7 273.41h9.1V275.00H184.7zM184.7 298.77h9.1V300.35H184.7zM184.7 341.56h9.1V343.14H184.7zM184.7 346.31h9.1V347.90H184.7zM193.8 61.05h9.1V62.63H193.8zM193.8 68.97h9.1V70.56H193.8zM193.8 129.19h9.1V132.36H193.8zM193.8 137.12h9.1V138.70H193.8zM193.8 187.83h9.1V189.42H193.8zM193.8 194.17h9.1V195.76H193.8zM193.8 210.02h9.1V211.60H193.8zM193.8 227.45h9.1V229.04H193.8zM193.8 233.79h9.1V235.38H193.8zM193.8 265.49h9.1V268.66H193.8zM193.8 305.11h9.1V306.69H193.8zM193.8 346.31h9.1V347.90H193.8zM193.8 358.99h9.1V362.16H193.8zM193.8 435.06h9.1V436.65H193.8zM193.8 438.23h9.1V439.82H193.8zM202.9 78.48h9.1V80.07H202.9zM202.9 100.67h9.1V102.25H202.9zM202.9 186.25h9.1V187.83H202.9zM202.9 233.79h9.1V235.38H202.9zM202.9 271.83h9.1V273.41H202.9zM202.9 279.75h9.1V281.34H202.9zM202.9 317.79h9.1V319.37H202.9zM202.9 387.52h9.1V389.10H202.9z"/>
<path fill="#bfbfff" d="M30.0 309.86h9.1V311.45H30.0zM30.0 371.67h9.1V373.25H30.0zM30.0 374.84h9.1V376.42H30.0zM30.0 381.18h9.1V382.76H30.0zM57.3 200.51h9.1V202.10H57.3zM57.3 376.42h9.1V378.01H57.3zM66.4 149.80h9.1V152.97H66.4zM66.4 246.47h9.1V248.05H66.4zM66.4 371.67h9.1V373.25H66.4zM75.5 75.31h9.1V76.90H75.5zM75.5 80.07h9.1V81.65H75.5zM75.5 148.21h9.1V149.80H75.5zM75.5 160.89h9.1V162.48H75.5zM75.5 197.34h9.1V198.93H75.5zM75.5 240.13h9.1V241.72H75.5zM75.5 297.18h9.1V298.77H75.5zM75.5 324.12h9.1V325.71H75.5zM102.8 152.97h9.1V154.55H102.8zM102.8 259.15h9.1V260.73H102.8zM102.8 294.01h9.1V295.60H102.8zM102.8 320.96h9.1V322.54H102.8zM102.8 330.46h9.1V332.05H102.8zM102.8 335.22h9.1V336.80H102.8zM102.8 378.01h9.1V379.59H102.8zM111.9 61.05h9.1V62.63H111.9zM111.9 246.47h9.1V248.05H111.9zM111.9 262.32h9.1V263.90H111.9zM111.9 325.71h9.1V327.29H111.9zM139.2 84.82h9.1V86.40H139.2zM139.2 108.59h9.1V110.18H139.2zM139.2 119.69h9.1V121.27H139.2zM139.2 149.80h9.1V151.38H139.2zM139.2 152.97h9.1V154.55H139.2zM139.2 162.48h9.1V164.06H139.2zM139.2 271.83h9.1V273.41H139.2zM139.2 289.26h9.1V290.84H139.2zM139.2 325.71h9.1V327.29H139.2zM139.2 358.99h9.1V360.58H139.2zM139.2 363.74h9.1V365.33H139.2zM139.2 404.95h9.1V406.53H139.2zM139.2 422.38h9.1V423.97H139.2zM148.3 171.98h9.1V173.57H148.3zM148.3 206.85h9.1V208.43H148.3zM148.3 216.36h9.1V217.94H148.3zM148.3 265.49h9.1V267.07H148.3zM148.3 268.66h9.1V270.24H148.3zM148.3 303.52h9.1V305.11H148.3zM148.3 347.90h9.1V349.48H148.3zM148.3 351.07h9.1V352.65H148.3zM148.3 412.87h9.1V414.46H148.3zM157.4 65.80h9.1V67.39H157.4zM157.4 148.21h9.1V149.80H157.4zM166.5 72.14h9.1V73.73H166.5zM166.5 116.52h9.1V118.10H166.5zM166.5 129.19h9.1V130.78H166.5zM166.5 178.32h9.1V179.91H166.5zM166.5 181.49h9.1V183.08H166.5zM166.5 189.42h9.1V191.00H166.5zM166.5 221.11h9.1V222.70H166.5zM166.5 273.41h9.1V275.00H166.5zM166.5 292.43h9.1V294.01H166.5zM166.5 332.05h9.1V333.63H166.5zM166.5 358.99h9.1V360.58H166.5zM166.5 404.95h9.1V406.53H166.5zM175.6 68.97h9.1V70.56H175.6zM175.6 148.21h9.1V149.80H175.6zM175.6 263.90h9.1V265.49H175.6zM175.6 314.62h9.1V316.20H175.6zM175.6 355.82h9.1V357.41H175.6zM184.7 46.78h9.1V48.37H184.7zM184.7 70.56h9.1V72.14H184.7zM184.7 86.40h9.1V87.99H184.7zM184.7 92.74h9.1V94.33H184.7zM184.7 100.67h9.1V102.25H184.7zM184.7 108.59h9.1V110.18H184.7zM184.7 132.36h9.1V133.95H184.7zM184.7 167.23h9.1V168.81H184.7zM184.7 183.08h9.1V184.66H184.7zM184.7 187.83h9.1V189.42H184.7zM184.7 192.59h9.1V194.17H184.7zM184.7 197.34h9.1V198.93H184.7zM184.7 222.70h9.1V224.28H184.7zM184.7 289.26h9.1V290.84H184.7zM184.7 314.62h9.1V316.20H184.7zM193.8 72.14h9.1V73.73H193.8zM193.8 75.31h9.1V76.90H193.8zM193.8 107.01h9.1V108.59H193.8zM193.8 116.52h9.1V118.10H193.8zM193.8 159.31h9.1V160.89H193.8zM193.8 213.19h9.1V214.77H193.8zM193.8 244.88h9.1V246.47H193.8zM193.8 271.83h9.1V273.41H193.8zM193.8 306.69h9.1V308.28H193.8zM193.8 328.88h9.1V332.05H193.8zM193.8 352.65h9.1V354.24H193.8zM193.8 378.01h9.1V379.59H193.8zM193.8 395.44h9.1V398.61H193.8zM193.8 417.63h9.1V419.21H193.8zM193.8 431.89h9.1V433.48H193.8zM193.8 439.82h9.1V441.40H193.8zM202.9 67.39h9.1V68.97H202.9zM202.9 70.56h9.1V72.14H202.9zM202.9 122.86h9.1V124.44H202.9zM202.9 151.38h9.1V152.97H202.9zM202.9 202.10h9.1V203.68H202.9zM202.9 214.77h9.1V216.36H202.9zM202.9 241.72h9.1V243.30H202.9zM202.9 257.56h9.1V259.15H202.9zM202.9 313.03h9.1V316.20H202.9zM202.9 381.18h9.1V382.76H202.9zM202.9 403.36h9.1V404.95H202.9zM202.9 422.38h9.1V423.97H202.9zM202.9 425.55h9.1V427.14H202.9z"/>
<path fill="#ccccff" d="M30.0 87.99h9.1V89.57H30.0zM30.0 140.29h9.1V141.87H30.0zM30.0 216.36h9.1V217.94H30.0zM30.0 262.32h9.1V263.90H30.0zM30.0 347.90h9.1V349.48H30.0zM39.1 183.08h9.1V184.66H39.1zM57.3 210.02h9.1V211.60H57.3zM57.3 379.59h9.1V381.18H57.3zM66.4 56.29h9.1V57.88H66.4zM66.4 148.21h9.1V149.80H66.4zM66.4 205.26h9.1V206.85H66.4zM66.4 262.32h9.1V263.90H66.4zM66.4 289.26h9.1V290.84H66.4zM75.5 67.39h9.1V68.97H75.5zM75.5 84.82h9.1V86.40H75.5zM75.5 107.01h9.1V108.59H75.5zM75.5 141.87h9.1V143.46H75.5zM75.5 165.64h9.1V167.23H75.5zM75.5 191.00h9.1V192.59H75.5zM75.5 198.93h9.1V200.51H75.5zM75.5 248.05h9.1V249.64H75.5zM75.5 301.94h9.1V303.52H75.5zM75.5 305.11h9.1V306.69H75.5zM75.5 368.50h9.1V370.08H75.5zM75.5 376.42h9.1V378.01H75.5zM75.5 422.38h9.1V423.97H75.5zM84.6 395.44h9.1V397.03H84.6zM102.8 57.88h9.1V59.46H102.8zM102.8 145.04h9.1V146.63H102.8zM102.8 198.93h9.1V200.51H102.8zM102.8 222.70h9.1V224.28H102.8zM102.8 301.94h9.1V303.52H102.8zM102.8 313.03h9.1V314.62H102.8zM102.8 381.18h9.1V382.76H102.8zM102.8 425.55h9.1V427.14H102.8zM111.9 143.46h9.1V145.04H111.9zM111.9 289.26h9.1V290.84H111.9zM111.9 294.01h9.1V295.60H111.9zM111.9 335.22h9.1V336.80H111.9zM111.9 412.87h9.1V414.46H111.9zM139.2 53.12h9.1V57.88H139.2zM139.2 87.99h9.1V89.57H139.2zM139.2 137.12h9.1V138.70H139.2zM139.2 145.04h9.1V146.63H139.2zM139.2 157.72h9.1V159.31H139.2zM139.2 173.57h9.1V175.15H139.2zM139.2 213.19h9.1V214.77H139.2zM139.2 357.41h9.1V358.99H139.2zM139.2 360.58h9.1V362.16H139.2zM139.2 381.18h9.1V382.76H139.2zM139.2 385.93h9.1V387.52H139.2zM148.3 84.82h9.1V86.40H148.3zM148.3 102.25h9.1V103.84H148.3zM148.3 197.34h9.1V198.93H148.3zM148.3 311.45h9.1V313.03H148.3zM148.3 357.41h9.1V358.99H148.3zM148.3 392.27h9.1V393.86H148.3zM148.3 404.95h9.1V406.53H148.3zM148.3 435.06h9.1V436.65H148.3zM157.4 62.63h9.1V64.22H157.4zM157.4 205.26h9.1V206.85H157.4zM157.4 257.56h9.1V259.15H157.4zM157.4 297.18h9.1V298.77H157.4zM157.4 397.03h9.1V398.61H157.4zM166.5 48.37h9.1V49.95H166.5zM166.5 91.16h9.1V92.74H166.5zM166.5 102.25h9.1V103.84H166.5zM166.5 113.35h9.1V114.93H166.5zM166.5 148.21h9.1V149.80H166.5zM166.5 184.66h9.1V186.25H166.5zM166.5 230.62h9.1V232.21H166.5zM166.5 254.39h9.1V255.98H166.5zM166.5 257.56h9.1V259.15H166.5zM166.5 303.52h9.1V305.11H166.5zM166.5 354.24h9.1V355.82H166.5zM166.5 430.31h9.1V431.89H166.5zM175.6 87.99h9.1V89.57H175.6zM175.6 92.74h9.1V94.33H175.6zM175.6 149.80h9.1V151.38H175.6zM175.6 170.40h9.1V171.98H175.6zM175.6 213.19h9.1V214.77H175.6zM175.6 240.13h9.1V241.72H175.6zM175.6 404.95h9.1V406.53H175.6zM184.7 149.80h9.1V151.38H184.7zM184.7 154.55h9.1V156.14H184.7zM184.7 165.64h9.1V167.23H184.7zM184.7 176.74h9.1V178.32H184.7zM184.7 246.47h9.1V248.05H184.7zM184.7 295.60h9.1V297.18H184.7zM184.7 409.70h9.1V411.29H184.7zM193.8 53.12h9.1V56.29H193.8zM193.8 95.91h9.1V99.08H193.8zM193.8 100.67h9.1V102.25H193.8zM193.8 122.86h9.1V124.44H193.8zM193.8 171.98h9.1V173.57H193.8zM193.8 189.42h9.1V191.00H193.8zM193.8 198.93h9.1V200.51H193.8zM193.8 225.87h9.1V227.45H193.8zM193.8 240.13h9.1V241.72H193.8zM193.8 270.24h9.1V271.83H193.8zM193.8 275.00h9.1V276.58H193.8zM193.8 279.75h9.1V281.34H193.8zM193.8 282.92h9.1V284.50H193.8zM193.8 322.54h9.1V324.12H193.8zM193.8 371.67h9.1V373.25H193.8zM193.8 400.20h9.1V401.78H193.8zM202.9 51.54h9.1V53.12H202.9zM202.9 111.76h9.1V113.35H202.9zM202.9 162.48h9.1V164.06H202.9zM202.9 168.81h9.1V170.40H202.9zM202.9 254.39h9.1V255.98H202.9zM202.9 267.07h9.1V268.66H202.9zM202.9 309.86h9.1V311.45H202.9zM202.9 349.48h9.1V351.07H202.9zM202.9 379.59h9.1V381.18H202.9zM202.9 408.12h9.1V409.70H202.9zM202.9 414.46h9.1V416.04H202.9zM202.9 435.06h9.1V436.65H202.9z"/>
<path fill="#d9d9ff" d="M30.0 84.82h9.1V86.40H30.0zM30.0 244.88h9.1V246.47H30.0zM30.0 330.46h9.1V332.05H30.0zM30.0 336.80h9.1V338.39H30.0zM48.2 148.21h9.1V149.80H48.2zM57.3 252.81h9.1V254.39H57.3zM57.3 303.52h9.1V305.11H57.3zM57.3 398.61h9.1V400.20H57.3zM57.3 408.12h9.1V409.70H57.3zM66.4 244.88h9.1V246.47H66.4zM75.5 251.22h9.1V252.81H75.5zM102.8 95.91h9.1V97.50H102.8zM102.8 149.80h9.1V152.97H102.8zM102.8 211.60h9.1V213.19H102.8zM102.8 273.41h9.1V275.00H102.8zM102.8 279.75h9.1V281.34H102.8zM102.8 384.35h9.1V385.93H102.8zM111.9 67.39h9.1V68.97H111.9zM111.9 127.61h9.1V129.19H111.9zM139.2 48.37h9.1V49.95H139.2zM139.2 111.76h9.1V113.35H139.2zM139.2 197.34h9.1V198.93H139.2zM139.2 314.62h9.1V316.20H139.2zM139.2 330.46h9.1V332.05H139.2zM139.2 347.90h9.1V349.48H139.2zM139.2 351.07h9.1V352.65H139.2zM139.2 354.24h9.1V355.82H139.2zM148.3 83.24h9.1V84.82H148.3zM148.3 105.42h9.1V107.01H148.3zM148.3 173.57h9.1V175.15H148.3zM148.3 192.59h9.1V194.17H148.3zM148.3 205.26h9.1V206.85H148.3zM148.3 240.13h9.1V241.72H148.3zM148.3 381.18h9.1V382.76H148.3zM157.4 133.95h9.1V135.53H157.4zM157.4 145.04h9.1V146.63H157.4zM157.4 170.40h9.1V171.98H157.4zM157.4 294.01h9.1V295.60H157.4zM157.4 320.96h9.1V322.54H157.4zM166.5 51.54h9.1V54.71H166.5zM166.5 61.05h9.1V62.63H166.5zM166.5 68.97h9.1V70.56H166.5zM166.5 81.65h9.1V83.24H166.5zM166.5 103.84h9.1V105.42H166.5zM166.5 138.70h9.1V140.29H166.5zM166.5 149.80h9.1V151.38H166.5zM166.5 211.60h9.1V213.19H166.5zM166.5 252.81h9.1V254.39H166.5zM166.5 259.15h9.1V260.73H166.5zM166.5 268.66h9.1V270.24H166.5zM166.5 278.17h9.1V279.75H166.5zM166.5 311.45h9.1V313.03H166.5zM166.5 317.79h9.1V320.96H166.5zM166.5 335.22h9.1V336.80H166.5zM166.5 355.82h9.1V357.41H166.5zM166.5 414.46h9.1V416.04H166.5zM166.5 433.48h9.1V435.06H166.5zM175.6 111.76h9.1V113.35H175.6zM175.6 392.27h9.1V393.86H175.6zM184.7 59.46h9.1V61.05H184.7zM184.7 162.48h9.1V164.06H184.7zM184.7 232.21h9.1V233.79H184.7zM184.7 260.73h9.1V262.32H184.7zM184.7 279.75h9.1V281.34H184.7zM184.7 294.01h9.1V295.60H184.7zM184.7 336.80h9.1V338.39H184.7zM193.8 70.56h9.1V72.14H193.8zM193.8 73.73h9.1V75.31H193.8zM193.8 83.24h9.1V84.82H193.8zM193.8 103.84h9.1V105.42H193.8zM193.8 165.64h9.1V167.23H193.8zM193.8 183.08h9.1V184.66H193.8zM193.8 191.00h9.1V192.59H193.8zM193.8 216.36h9.1V217.94H193.8zM193.8 219.53h9.1V221.11H193.8zM193.8 222.70h9.1V224.28H193.8zM193.8 230.62h9.1V232.21H193.8zM193.8 287.67h9.1V289.26H193.8zM193.8 347.90h9.1V349.48H193.8zM193.8 355.82h9.1V358.99H193.8zM193.8 366.91h9.1V368.50H193.8zM193.8 374.84h9.1V376.42H193.8zM193.8 398.61h9.1V400.20H193.8zM193.8 404.95h9.1V406.53H193.8zM202.9 48.37h9.1V49.95H202.9zM202.9 76.90h9.1V78.48H202.9zM202.9 86.40h9.1V87.99H202.9zM202.9 89.57h9.1V91.16H202.9zM202.9 116.52h9.1V118.10H202.9zM202.9 165.64h9.1V167.23H202.9zM202.9 191.00h9.1V192.59H202.9zM202.9 225.87h9.1V227.45H202.9zM202.9 240.13h9.1V241.72H202.9zM202.9 284.50h9.1V286.09H202.9zM202.9 290.84h9.1V292.43H202.9zM202.9 320.96h9.1V322.54H202.9zM202.9 352.65h9.1V354.24H202.9zM202.9 417.63h9.1V419.21H202.9z"/>
<path fill="#e6e6ff" d="M30.0 181.49h9.1V183.08H30.0zM39.1 87.99h9.1V89.57H39.1zM39.1 224.28h9.1V225.87H39.1zM48.2 395.44h9.1V397.03H48.2zM57.3 76.90h9.1V78.48H57.3zM57.3 107.01h9.1V108.59H57.3zM57.3 159.31h9.1V160.89H57.3zM57.3 284.50h9.1V286.09H57.3zM57.3 309.86h9.1V311.45H57.3zM57.3 313.03h9.1V314.62H57.3zM57.3 325.71h9.1V327.29H57.3zM66.4 84.82h9.1V86.40H66.4zM66.4 108.59h9.1V110.18H66.4zM75.5 46.78h9.1V48.37H75.5zM75.5 110.18h9.1V111.76H75.5zM75.5 122.86h9.1V124.44H75.5zM75.5 137.12h9.1V138.70H75.5zM75.5 170.40h9.1V171.98H75.5zM75.5 189.42h9.1V191.00H75.5zM75.5 279.75h9.1V281.34H75.5zM75.5 295.60h9.1V297.18H75.5zM102.8 194.17h9.1V195.76H102.8zM102.8 314.62h9.1V316.20H102.8zM102.8 373.25h9.1V374.84H102.8zM111.9 271.83h9.1V273.41H111.9zM139.2 59.46h9.1V61.05H139.2zM139.2 170.40h9.1V171.98H139.2zM139.2 371.67h9.1V373.25H139.2zM148.3 48.37h9.1V49.95H148.3zM148.3 183.08h9.1V184.66H148.3zM148.3 241.72h9.1V243.30H148.3zM148.3 309.86h9.1V311.45H148.3zM148.3 387.52h9.1V389.10H148.3zM148.3 395.44h9.1V397.03H148.3zM148.3 411.29h9.1V412.87H148.3zM157.4 78.48h9.1V80.07H157.4zM157.4 151.38h9.1V152.97H157.4zM157.4 197.34h9.1V198.93H157.4zM157.4 200.51h9.1V202.10H157.4zM166.5 84.82h9.1V86.40H166.5zM166.5 114.93h9.1V116.52H166.5zM166.5 151.38h9.1V152.97H166.5zM166.5 159.31h9.1V160.89H166.5zM166.5 208.43h9.1V211.60H166.5zM166.5 240.13h9.1V241.72H166.5zM166.5 248.05h9.1V249.64H166.5zM166.5 275.00h9.1V276.58H166.5zM166.5 336.80h9.1V338.39H166.5zM166.5 349.48h9.1V351.07H166.5zM166.5 420.80h9.1V422.38H166.5zM184.7 56.29h9.1V57.88H184.7zM184.7 84.82h9.1V86.40H184.7zM184.7 229.04h9.1V230.62H184.7zM184.7 271.83h9.1V273.41H184.7zM184.7 301.94h9.1V303.52H184.7zM184.7 330.46h9.1V332.05H184.7zM184.7 381.18h9.1V382.76H184.7zM184.7 395.44h9.1V397.03H184.7zM193.8 65.80h9.1V67.39H193.8zM193.8 87.99h9.1V89.57H193.8zM193.8 184.66h9.1V186.25H193.8zM193.8 208.43h9.1V210.02H193.8zM193.8 217.94h9.1V219.53H193.8zM193.8 260.73h9.1V262.32H193.8zM193.8 313.03h9.1V314.62H193.8zM193.8 324.12h9.1V325.71H193.8zM193.8 387.52h9.1V389.10H193.8zM193.8 390.69h9.1V392.27H193.8zM202.9 56.29h9.1V57.88H202.9zM202.9 103.84h9.1V105.42H202.9zM202.9 132.36h9.1V133.95H202.9zM202.9 259.15h9.1V260.73H202.9zM202.9 268.66h9.1V270.24H202.9zM202.9 327.29h9.1V328.88H202.9zM202.9 357.41h9.1V358.99H202.9zM202.9 378.01h9.1V379.59H202.9zM202.9 400.20h9.1V401.78H202.9zM202.9 420.80h9.1V422.38H202.9z"/>
<path fill="#f2f2ff" d="M30.0 108.59h9.1V110.18H30.0zM30.0 113.35h9.1V114.93H30.0zM30.0 170.40h9.1V171.98H30.0zM39.1 422.38h9.1V423.97H39.1zM57.3 92.74h9.1V94.33H57.3zM57.3 118.10h9.1V119.69H57.3zM57.3 132.36h9.1V133.95H57.3zM57.3 135.53h9.1V137.12H57.3zM57.3 140.29h9.1V141.87H57.3zM57.3 347.90h9.1V349.48H57.3zM57.3 357.41h9.1V358.99H57.3zM57.3 368.50h9.1V370.08H57.3zM57.3 416.04h9.1V417.63H57.3zM75.5 152.97h9.1V154.55H75.5zM75.5 382.76h9.1V384.35H75.5zM84.6 173.57h9.1V175.15H84.6zM102.8 102.25h9.1V103.84H102.8zM102.8 160.89h9.1V162.48H102.8zM102.8 165.64h9.1V167.23H102.8zM102.8 197.34h9.1V198.93H102.8zM102.8 246.47h9.1V248.05H102.8zM102.8 263.90h9.1V265.49H102.8zM102.8 284.50h9.1V286.09H102.8zM102.8 358.99h9.1V360.58H102.8zM102.8 406.53h9.1V408.12H102.8zM139.2 140.29h9.1V141.87H139.2zM139.2 200.51h9.1V202.10H139.2zM139.2 286.09h9.1V287.67H139.2zM148.3 108.59h9.1V110.18H148.3zM148.3 127.61h9.1V129.19H148.3zM148.3 140.29h9.1V141.87H148.3zM148.3 143.46h9.1V145.04H148.3zM148.3 365.33h9.1V366.91H148.3zM157.4 80.07h9.1V81.65H157.4zM157.4 118.10h9.1V119.69H157.4zM157.4 262.32h9.1V263.90H157.4zM157.4 286.09h9.1V287.67H157.4zM157.4 305.11h9.1V306.69H157.4zM157.4 346.31h9.1V347.90H157.4zM166.5 130.78h9.1V132.36H166.5zM166.5 194.17h9.1V195.76H166.5zM166.5 200.51h9.1V202.10H166.5zM166.5 203.68h9.1V205.26H166.5zM166.5 241.72h9.1V244.88H166.5zM166.5 306.69h9.1V308.28H166.5zM166.5 324.12h9.1V325.71H166.5zM166.5 381.18h9.1V382.76H166.5zM166.5 408.12h9.1V409.70H166.5zM166.5 419.21h9.1V420.80H166.5zM166.5 431.89h9.1V433.48H166.5zM184.7 198.93h9.1V200.51H184.7zM184.7 374.84h9.1V376.42H184.7zM184.7 412.87h9.1V414.46H184.7zM193.8 108.59h9.1V111.76H193.8zM193.8 152.97h9.1V154.55H193.8zM193.8 195.76h9.1V197.34H193.8zM193.8 286.09h9.1V287.67H193.8zM193.8 297.18h9.1V298.77H193.8zM193.8 308.28h9.1V309.86H193.8zM193.8 314.62h9.1V316.20H193.8zM193.8 335.22h9.1V336.80H193.8zM193.8 389.10h9.1V390.69H193.8zM193.8 401.78h9.1V403.36H193.8zM202.9 80.07h9.1V83.24H202.9zM202.9 91.16h9.1V92.74H202.9zM202.9 105.42h9.1V107.01H202.9zM202.9 130.78h9.1V132.36H202.9zM202.9 157.72h9.1V159.31H202.9zM202.9 164.06h9.1V165.64H202.9zM202.9 171.98h9.1V173.57H202.9zM202.9 216.36h9.1V217.94H202.9zM202.9 282.92h9.1V284.50H202.9zM202.9 316.20h9.1V317.79H202.9zM202.9 319.37h9.1V320.96H202.9zM202.9 330.46h9.1V332.05H202.9zM202.9 416.04h9.1V417.63H202.9zM202.9 423.97h9.1V425.55H202.9zM202.9 431.89h9.1V433.48H202.9z"/>
<path fill="#ffffff" d="M39.1 84.82h9.1V86.40H39.1zM57.3 45.20h9.1V46.78H57.3zM57.3 105.42h9.1V107.01H57.3zM57.3 110.18h9.1V111.76H57.3zM57.3 124.44h9.1V126.02H57.3zM57.3 130.78h9.1V132.36H57.3zM57.3 137.12h9.1V138.70H57.3zM57.3 146.63h9.1V148.21H57.3zM57.3 167.23h9.1V168.81H57.3zM57.3 170.40h9.1V171.98H57.3zM57.3 179.91h9.1V181.49H57.3zM57.3 197.34h9.1V198.93H57.3zM57.3 213.19h9.1V214.77H57.3zM57.3 322.54h9.1V324.12H57.3zM57.3 404.95h9.1V406.53H57.3zM75.5 133.95h9.1V135.53H75.5zM75.5 423.97h9.1V425.55H75.5zM102.8 148.21h9.1V149.80H102.8zM102.8 173.57h9.1V175.15H102.8zM102.8 267.07h9.1V268.66H102.8zM102.8 309.86h9.1V311.45H102.8zM111.9 314.62h9.1V316.20H111.9zM139.2 151.38h9.1V152.97H139.2zM139.2 187.83h9.1V189.42H139.2zM148.3 94.33h9.1V95.91H148.3zM148.3 138.70h9.1V140.29H148.3zM148.3 438.23h9.1V439.82H148.3zM157.4 140.29h9.1V141.87H157.4zM157.4 284.50h9.1V286.09H157.4zM157.4 422.38h9.1V423.97H157.4zM157.4 438.23h9.1V439.82H157.4zM166.5 56.29h9.1V59.46H166.5zM166.5 124.44h9.1V126.02H166.5zM166.5 170.40h9.1V171.98H166.5zM166.5 214.77h9.1V216.36H166.5zM166.5 227.45h9.1V229.04H166.5zM166.5 267.07h9.1V268.66H166.5zM166.5 305.11h9.1V306.69H166.5zM166.5 313.03h9.1V314.62H166.5zM166.5 351.07h9.1V352.65H166.5zM166.5 378.01h9.1V379.59H166.5zM166.5 393.86h9.1V395.44H166.5zM175.6 140.29h9.1V141.87H175.6zM175.6 290.84h9.1V292.43H175.6zM175.6 294.01h9.1V295.60H175.6zM175.6 397.03h9.1V398.61H175.6zM184.7 61.05h9.1V62.63H184.7zM184.7 152.97h9.1V154.55H184.7zM184.7 173.57h9.1V175.15H184.7zM184.7 235.38h9.1V236.96H184.7zM184.7 262.32h9.1V263.90H184.7zM184.7 316.20h9.1V317.79H184.7zM184.7 327.29h9.1V328.88H184.7zM184.7 376.42h9.1V378.01H184.7zM184.7 387.52h9.1V389.10H184.7zM184.7 419.21h9.1V420.80H184.7zM184.7 438.23h9.1V439.82H184.7zM193.8 86.40h9.1V87.99H193.8zM193.8 102.25h9.1V103.84H193.8zM193.8 127.61h9.1V129.19H193.8zM193.8 138.70h9.1V140.29H193.8zM193.8 151.38h9.1V152.97H193.8zM193.8 229.04h9.1V230.62H193.8zM193.8 236.96h9.1V238.55H193.8zM193.8 259.15h9.1V260.73H193.8zM193.8 290.84h9.1V292.43H193.8zM193.8 295.60h9.1V297.18H193.8zM193.8 320.96h9.1V322.54H193.8zM202.9 53.12h9.1V54.71H202.9zM202.9 62.63h9.1V64.22H202.9zM202.9 110.18h9.1V111.76H202.9zM202.9 167.23h9.1V168.81H202.9zM202.9 200.51h9.1V202.10H202.9zM202.9 208.43h9.1V210.02H202.9zM202.9 213.19h9.1V214.77H202.9zM202.9 243.30h9.1V244.88H202.9zM202.9 270.24h9.1V271.83H202.9zM202.9 300.35h9.1V301.94H202.9zM202.9 303.52h9.1V305.11H202.9zM202.9 308.28h9.1V309.86H202.9zM202.9 332.05h9.1V336.80H202.9zM202.9 338.39h9.1V339.97H202.9zM202.9 370.08h9.1V371.67H202.9zM202.9 395.44h9.1V397.03H202.9z"/>
<path fill="#fff2f2" d="M48.2 140.29h9.1V141.87H48.2zM48.2 262.32h9.1V263.90H48.2zM48.2 412.87h9.1V414.46H48.2zM57.3 56.29h9.1V57.88H57.3zM57.3 65.80h9.1V67.39H57.3zM57.3 87.99h9.1V91.16H57.3zM57.3 95.91h9.1V97.50H57.3zM57.3 143.46h9.1V145.04H57.3zM57.3 152.97h9.1V154.55H57.3zM57.3 162.48h9.1V164.06H57.3zM57.3 205.26h9.1V206.85H57.3zM57.3 211.60h9.1V213.19H57.3zM57.3 219.53h9.1V221.11H57.3zM57.3 224.28h9.1V225.87H57.3zM57.3 238.55h9.1V240.13H57.3zM57.3 244.88h9.1V246.47H57.3zM57.3 327.29h9.1V328.88H57.3zM57.3 360.58h9.1V362.16H57.3zM57.3 393.86h9.1V395.44H57.3zM57.3 403.36h9.1V404.95H57.3zM57.3 433.48h9.1V435.06H57.3zM66.4 395.44h9.1V397.03H66.4zM75.5 92.74h9.1V94.33H75.5zM75.5 181.49h9.1V183.08H75.5zM75.5 309.86h9.1V311.45H75.5zM84.6 151.38h9.1V152.97H84.6zM102.8 363.74h9.1V365.33H102.8zM102.8 371.67h9.1V373.25H102.8zM111.9 183.08h9.1V184.66H111.9zM130.1 132.36h9.1V133.95H130.1zM130.1 335.22h9.1V336.80H130.1zM139.2 51.54h9.1V53.12H139.2zM139.2 171.98h9.1V173.57H139.2zM139.2 224.28h9.1V225.87H139.2zM139.2 240.13h9.1V241.72H139.2zM139.2 248.05h9.1V249.64H139.2zM139.2 292.43h9.1V294.01H139.2zM139.2 298.77h9.1V300.35H139.2zM157.4 107.01h9.1V108.59H157.4zM157.4 208.43h9.1V210.02H157.4zM157.4 241.72h9.1V243.30H157.4zM157.4 270.24h9.1V271.83H157.4zM157.4 344.73h9.1V346.31H157.4zM157.4 417.63h9.1V420.80H157.4zM166.5 108.59h9.1V110.18H166.5zM166.5 167.23h9.1V168.81H166.5zM166.5 222.70h9.1V224.28H166.5zM166.5 438.23h9.1V439.82H166.5zM175.6 105.42h9.1V107.01H175.6zM175.6 308.28h9.1V309.86H175.6zM175.6 335.22h9.1V336.80H175.6zM184.7 157.72h9.1V159.31H184.7zM184.7 194.17h9.1V195.76H184.7zM184.7 297.18h9.1V298.77H184.7zM184.7 347.90h9.1V349.48H184.7zM193.8 67.39h9.1V68.97H193.8zM193.8 111.76h9.1V113.35H193.8zM193.8 119.69h9.1V121.27H193.8zM193.8 126.02h9.1V127.61H193.8zM193.8 164.06h9.1V165.64H193.8zM193.8 205.26h9.1V206.85H193.8zM193.8 238.55h9.1V240.13H193.8zM193.8 254.39h9.1V255.98H193.8zM193.8 276.58h9.1V278.17H193.8zM193.8 336.80h9.1V338.39H193.8zM193.8 341.56h9.1V343.14H193.8zM193.8 436.65h9.1V438.23H193.8zM202.9 45.20h9.1V48.37H202.9zM202.9 72.14h9.1V73.73H202.9zM202.9 114.93h9.1V116.52H202.9zM202.9 137.12h9.1V138.70H202.9zM202.9 198.93h9.1V200.51H202.9zM202.9 287.67h9.1V290.84H202.9zM202.9 328.88h9.1V330.46H202.9zM202.9 346.31h9.1V347.90H202.9zM202.9 368.50h9.1V370.08H202.9zM202.9 371.67h9.1V373.25H202.9zM202.9 374.84h9.1V376.42H202.9zM202.9 398.61h9.1V400.20H202.9zM202.9 428.72h9.1V430.31H202.9z"/>
<path fill="#ffe6e6" d="M48.2 87.99h9.1V89.57H48.2zM57.3 62.63h9.1V64.22H57.3zM57.3 81.65h9.1V84.82H57.3zM57.3 235.38h9.1V236.96H57.3zM57.3 270.24h9.1V271.83H57.3zM57.3 295.60h9.1V297.18H57.3zM57.3 366.91h9.1V368.50H57.3zM57.3 395.44h9.1V397.03H57.3zM75.5 178.32h9.1V179.91H75.5zM84.6 171.98h9.1V173.57H84.6zM102.8 189.42h9.1V191.00H102.8zM102.8 295.60h9.1V297.18H102.8zM102.8 412.87h9.1V414.46H102.8zM130.1 108.59h9.1V110.18H130.1zM130.1 395.44h9.1V397.03H130.1zM139.2 232.21h9.1V233.79H139.2zM148.3 358.99h9.1V360.58H148.3zM157.4 70.56h9.1V72.14H157.4zM157.4 87.99h9.1V89.57H157.4zM157.4 132.36h9.1V133.95H157.4zM157.4 152.97h9.1V154.55H157.4zM157.4 175.15h9.1V176.74H157.4zM157.4 183.08h9.1V184.66H157.4zM157.4 248.05h9.1V249.64H157.4zM157.4 278.17h9.1V279.75H157.4zM157.4 300.35h9.1V301.94H157.4zM157.4 309.86h9.1V311.45H157.4zM157.4 328.88h9.1V330.46H157.4zM157.4 341.56h9.1V343.14H157.4zM166.5 83.24h9.1V84.82H166.5zM166.5 110.18h9.1V111.76H166.5zM166.5 133.95h9.1V135.53H166.5zM166.5 219.53h9.1V221.11H166.5zM166.5 246.47h9.1V248.05H166.5zM166.5 301.94h9.1V303.52H166.5zM166.5 308.28h9.1V309.86H166.5zM166.5 395.44h9.1V397.03H166.5zM184.7 127.61h9.1V129.19H184.7zM184.7 324.12h9.1V325.71H184.7zM193.8 49.95h9.1V53.12H193.8zM193.8 84.82h9.1V86.40H193.8zM193.8 309.86h9.1V311.45H193.8zM193.8 373.25h9.1V374.84H193.8zM193.8 423.97h9.1V425.55H193.8zM202.9 54.71h9.1V56.29H202.9zM202.9 73.73h9.1V75.31H202.9zM202.9 87.99h9.1V89.57H202.9zM202.9 149.80h9.1V151.38H202.9zM202.9 178.32h9.1V179.91H202.9zM202.9 189.42h9.1V191.00H202.9zM202.9 211.60h9.1V213.19H202.9zM202.9 252.81h9.1V254.39H202.9zM202.9 255.98h9.1V257.56H202.9zM202.9 298.77h9.1V300.35H202.9zM202.9 305.11h9.1V306.69H202.9zM202.9 325.71h9.1V327.29H202.9zM202.9 339.97h9.1V341.56H202.9zM202.9 347.90h9.1V349.48H202.9zM202.9 366.91h9.1V368.50H202.9zM202.9 376.42h9.1V378.01H202.9zM202.9 392.27h9.1V393.86H202.9zM202.9 406.53h9.1V408.12H202.9zM202.9 409.70h9.1V411.29H202.9zM202.9 430.31h9.1V431.89H202.9z"/>
<path fill="#ffd9d9" d="M48.2 260.73h9.1V262.32H48.2zM57.3 61.05h9.1V62.63H57.3zM57.3 178.32h9.1V179.91H57.3zM57.3 214.77h9.1V216.36H57.3zM57.3 246.47h9.1V248.05H57.3zM57.3 263.90h9.1V265.49H57.3zM57.3 267.07h9.1V268.66H57.3zM57.3 271.83h9.1V275.00H57.3zM57.3 276.58h9.1V278.17H57.3zM57.3 287.67h9.1V289.26H57.3zM57.3 311.45h9.1V313.03H57.3zM57.3 319.37h9.1V320.96H57.3zM57.3 338.39h9.1V339.97H57.3zM57.3 343.14h9.1V344.73H57.3zM57.3 346.31h9.1V347.90H57.3zM57.3 371.67h9.1V373.25H57.3zM57.3 427.14h9.1V428.72H57.3zM57.3 438.23h9.1V439.82H57.3zM93.7 84.82h9.1V86.40H93.7zM93.7 87.99h9.1V89.57H93.7zM121.0 124.44h9.1V126.02H121.0zM130.1 87.99h9.1V89.57H130.1zM130.1 216.36h9.1V217.94H130.1zM130.1 376.42h9.1V378.01H130.1zM139.2 103.84h9.1V105.42H139.2zM139.2 216.36h9.1V217.94H139.2zM139.2 324.12h9.1V325.71H139.2zM157.4 102.25h9.1V103.84H157.4zM157.4 157.72h9.1V160.89H157.4zM157.4 198.93h9.1V200.51H157.4zM157.4 210.02h9.1V211.60H157.4zM157.4 240.13h9.1V241.72H157.4zM157.4 384.35h9.1V385.93H157.4zM157.4 387.52h9.1V389.10H157.4zM166.5 70.56h9.1V72.14H166.5zM166.5 99.08h9.1V100.67H166.5zM166.5 260.73h9.1V262.32H166.5zM166.5 279.75h9.1V281.34H166.5zM166.5 328.88h9.1V330.46H166.5zM166.5 406.53h9.1V408.12H166.5zM175.6 408.12h9.1V409.70H175.6zM184.7 57.88h9.1V59.46H184.7zM184.7 105.42h9.1V107.01H184.7zM184.7 382.76h9.1V384.35H184.7zM193.8 113.35h9.1V114.93H193.8zM193.8 133.95h9.1V135.53H193.8zM193.8 143.46h9.1V145.04H193.8zM193.8 241.72h9.1V243.30H193.8zM193.8 262.32h9.1V263.90H193.8zM193.8 376.42h9.1V378.01H193.8zM193.8 419.21h9.1V420.80H193.8zM202.9 49.95h9.1V51.54H202.9zM202.9 68.97h9.1V70.56H202.9zM202.9 83.24h9.1V84.82H202.9zM202.9 121.27h9.1V122.86H202.9zM202.9 143.46h9.1V145.04H202.9zM202.9 146.63h9.1V148.21H202.9zM202.9 170.40h9.1V171.98H202.9zM202.9 179.91h9.1V181.49H202.9zM202.9 184.66h9.1V186.25H202.9zM202.9 205.26h9.1V206.85H202.9zM202.9 224.28h9.1V225.87H202.9zM202.9 246.47h9.1V248.05H202.9zM202.9 276.58h9.1V278.17H202.9zM202.9 295.60h9.1V298.77H202.9zM202.9 322.54h9.1V324.12H202.9zM202.9 404.95h9.1V406.53H202.9zM202.9 411.29h9.1V412.87H202.9zM202.9 419.21h9.1V420.80H202.9z"/>
<path fill="#ffcccc" d="M48.2 194.17h9.1V195.76H48.2zM48.2 263.90h9.1V265.49H48.2zM48.2 294.01h9.1V295.60H48.2zM48.2 376.42h9.1V378.01H48.2zM48.2 381.18h9.1V382.76H48.2zM48.2 397.03h9.1V398.61H48.2zM57.3 68.97h9.1V70.56H57.3zM57.3 94.33h9.1V95.91H57.3zM57.3 100.67h9.1V102.25H57.3zM57.3 119.69h9.1V121.27H57.3zM57.3 126.02h9.1V127.61H57.3zM57.3 148.21h9.1V149.80H57.3zM57.3 191.00h9.1V192.59H57.3zM57.3 251.22h9.1V252.81H57.3zM57.3 289.26h9.1V290.84H57.3zM57.3 300.35h9.1V301.94H57.3zM57.3 314.62h9.1V316.20H57.3zM57.3 320.96h9.1V322.54H57.3zM57.3 341.56h9.1V343.14H57.3zM57.3 352.65h9.1V354.24H57.3zM57.3 374.84h9.1V376.42H57.3zM57.3 382.76h9.1V384.35H57.3zM57.3 397.03h9.1V398.61H57.3zM75.5 194.17h9.1V195.76H75.5zM84.6 170.40h9.1V171.98H84.6zM84.6 240.13h9.1V241.72H84.6zM84.6 281.34h9.1V282.92H84.6zM102.8 84.82h9.1V86.40H102.8zM111.9 151.38h9.1V152.97H111.9zM121.0 173.57h9.1V175.15H121.0zM121.0 395.44h9.1V397.03H121.0zM130.1 124.44h9.1V126.02H130.1zM130.1 232.21h9.1V233.79H130.1zM148.3 330.46h9.1V332.05H148.3zM157.4 53.12h9.1V54.71H157.4zM157.4 72.14h9.1V73.73H157.4zM157.4 165.64h9.1V167.23H157.4zM157.4 176.74h9.1V178.32H157.4zM157.4 213.19h9.1V214.77H157.4zM157.4 219.53h9.1V221.11H157.4zM157.4 249.64h9.1V251.22H157.4zM157.4 254.39h9.1V255.98H157.4zM157.4 289.26h9.1V290.84H157.4zM157.4 295.60h9.1V297.18H157.4zM157.4 301.94h9.1V303.52H157.4zM157.4 349.48h9.1V352.65H157.4zM157.4 363.74h9.1V365.33H157.4zM157.4 395.44h9.1V397.03H157.4zM157.4 412.87h9.1V414.46H157.4zM157.4 439.82h9.1V441.40H157.4zM166.5 95.91h9.1V97.50H166.5zM166.5 327.29h9.1V328.88H166.5zM166.5 360.58h9.1V362.16H166.5zM166.5 384.35h9.1V385.93H166.5zM166.5 422.38h9.1V423.97H166.5zM193.8 140.29h9.1V141.87H193.8zM193.8 382.76h9.1V384.35H193.8zM202.9 65.80h9.1V67.39H202.9zM202.9 84.82h9.1V86.40H202.9zM202.9 92.74h9.1V94.33H202.9zM202.9 99.08h9.1V100.67H202.9zM202.9 107.01h9.1V108.59H202.9zM202.9 113.35h9.1V114.93H202.9zM202.9 118.10h9.1V119.69H202.9zM202.9 126.02h9.1V127.61H202.9zM202.9 173.57h9.1V175.15H202.9zM202.9 183.08h9.1V184.66H202.9zM202.9 236.96h9.1V238.55H202.9zM202.9 244.88h9.1V246.47H202.9zM202.9 278.17h9.1V279.75H202.9zM202.9 281.34h9.1V282.92H202.9zM202.9 294.01h9.1V295.60H202.9zM202.9 306.69h9.1V308.28H202.9zM202.9 362.16h9.1V363.74H202.9zM202.9 373.25h9.1V374.84H202.9zM202.9 384.35h9.1V385.93H202.9zM202.9 433.48h9.1V435.06H202.9zM202.9 436.65h9.1V438.23H202.9z"/>
<path fill="#ffbfbf" d="M48.2 57.88h9.1V59.46H48.2zM48.2 246.47h9.1V248.05H48.2zM48.2 281.34h9.1V282.92H48.2zM48.2 374.84h9.1V376.42H48.2zM48.2 406.53h9.1V408.12H48.2zM57.3 102.25h9.1V103.84H57.3zM57.3 133.95h9.1V135.53H57.3zM57.3 195.76h9.1V197.34H57.3zM57.3 202.10h9.1V203.68H57.3zM57.3 216.36h9.1V217.94H57.3zM57.3 236.96h9.1V238.55H57.3zM57.3 240.13h9.1V241.72H57.3zM57.3 254.39h9.1V255.98H57.3zM57.3 259.15h9.1V262.32H57.3zM57.3 298.77h9.1V300.35H57.3zM57.3 349.48h9.1V351.07H57.3zM57.3 355.82h9.1V357.41H57.3zM57.3 358.99h9.1V360.58H57.3zM57.3 411.29h9.1V412.87H57.3zM57.3 414.46h9.1V416.04H57.3zM57.3 431.89h9.1V433.48H57.3zM75.5 267.07h9.1V268.66H75.5zM75.5 294.01h9.1V295.60H75.5zM84.6 91.16h9.1V92.74H84.6zM84.6 130.78h9.1V132.36H84.6zM84.6 398.61h9.1V400.20H84.6zM121.0 151.38h9.1V152.97H121.0zM121.0 244.88h9.1V246.47H121.0zM121.0 294.01h9.1V295.60H121.0zM121.0 309.86h9.1V311.45H121.0zM130.1 137.12h9.1V138.70H130.1zM130.1 263.90h9.1V265.49H130.1zM130.1 294.01h9.1V295.60H130.1zM130.1 365.33h9.1V366.91H130.1zM130.1 412.87h9.1V414.46H130.1zM157.4 94.33h9.1V95.91H157.4zM157.4 103.84h9.1V105.42H157.4zM157.4 171.98h9.1V173.57H157.4zM157.4 181.49h9.1V183.08H157.4zM157.4 217.94h9.1V219.53H157.4zM157.4 224.28h9.1V225.87H157.4zM157.4 282.92h9.1V284.50H157.4zM157.4 292.43h9.1V294.01H157.4zM157.4 313.03h9.1V316.20H157.4zM157.4 327.29h9.1V328.88H157.4zM157.4 378.01h9.1V379.59H157.4zM157.4 398.61h9.1V400.20H157.4zM157.4 435.06h9.1V436.65H157.4zM166.5 126.02h9.1V127.61H166.5zM166.5 229.04h9.1V230.62H166.5zM166.5 417.63h9.1V419.21H166.5zM166.5 425.55h9.1V427.14H166.5zM193.8 197.34h9.1V198.93H193.8zM193.8 224.28h9.1V225.87H193.8zM193.8 281.34h9.1V282.92H193.8zM193.8 294.01h9.1V295.60H193.8zM193.8 354.24h9.1V355.82H193.8zM193.8 412.87h9.1V414.46H193.8zM202.9 57.88h9.1V59.46H202.9zM202.9 133.95h9.1V137.12H202.9zM202.9 138.70h9.1V140.29H202.9zM202.9 195.76h9.1V197.34H202.9zM202.9 221.11h9.1V222.70H202.9zM202.9 238.55h9.1V240.13H202.9zM202.9 286.09h9.1V287.67H202.9zM202.9 301.94h9.1V303.52H202.9zM202.9 351.07h9.1V352.65H202.9zM202.9 397.03h9.1V398.61H202.9z"/>
<path fill="#ffb2b2" d="M48.2 83.24h9.1V84.82H48.2zM48.2 105.42h9.1V107.01H48.2zM48.2 162.48h9.1V164.06H48.2zM48.2 181.49h9.1V183.08H48.2zM48.2 205.26h9.1V206.85H48.2zM48.2 252.81h9.1V254.39H48.2zM48.2 347.90h9.1V349.48H48.2zM57.3 78.48h9.1V80.07H57.3zM57.3 154.55h9.1V156.14H57.3zM57.3 165.64h9.1V167.23H57.3zM57.3 227.45h9.1V229.04H57.3zM57.3 354.24h9.1V355.82H57.3zM57.3 387.52h9.1V389.10H57.3zM57.3 401.78h9.1V403.36H57.3zM57.3 439.82h9.1V441.40H57.3zM75.5 87.99h9.1V89.57H75.5zM75.5 381.18h9.1V382.76H75.5zM84.6 84.82h9.1V86.40H84.6zM84.6 162.48h9.1V164.06H84.6zM84.6 301.94h9.1V303.52H84.6zM84.6 316.20h9.1V317.79H84.6zM93.7 173.57h9.1V175.15H93.7zM93.7 210.02h9.1V211.60H93.7zM93.7 246.47h9.1V248.05H93.7zM121.0 84.82h9.1V86.40H121.0zM121.0 313.03h9.1V314.62H121.0zM130.1 170.40h9.1V171.98H130.1zM130.1 205.26h9.1V206.85H130.1zM139.2 67.39h9.1V68.97H139.2zM139.2 127.61h9.1V129.19H139.2zM139.2 183.08h9.1V184.66H139.2zM157.4 46.78h9.1V48.37H157.4zM157.4 51.54h9.1V53.12H157.4zM157.4 124.44h9.1V126.02H157.4zM157.4 143.46h9.1V145.04H157.4zM157.4 189.42h9.1V191.00H157.4zM157.4 202.10h9.1V203.68H157.4zM157.4 268.66h9.1V270.24H157.4zM157.4 279.75h9.1V281.34H157.4zM157.4 298.77h9.1V300.35H157.4zM157.4 308.28h9.1V309.86H157.4zM157.4 333.63h9.1V335.22H157.4zM157.4 339.97h9.1V341.56H157.4zM157.4 343.14h9.1V344.73H157.4zM157.4 393.86h9.1V395.44H157.4zM166.5 54.71h9.1V56.29H166.5zM166.5 122.86h9.1V124.44H166.5zM166.5 152.97h9.1V154.55H166.5zM166.5 173.57h9.1V175.15H166.5zM166.5 409.70h9.1V411.29H166.5zM166.5 412.87h9.1V414.46H166.5zM184.7 89.57h9.1V91.16H184.7zM193.8 368.50h9.1V370.08H193.8zM193.8 381.18h9.1V382.76H193.8zM202.9 192.59h9.1V194.17H202.9zM202.9 248.05h9.1V249.64H202.9zM202.9 251.22h9.1V252.81H202.9zM202.9 324.12h9.1V325.71H202.9zM202.9 344.73h9.1V346.31H202.9zM202.9 355.82h9.1V357.41H202.9zM202.9 360.58h9.1V362.16H202.9zM202.9 365.33h9.1V366.91H202.9zM202.9 382.76h9.1V384.35H202.9z"/>
<path fill="#ffa6a6" d="M48.2 145.04h9.1V146.63H48.2zM48.2 170.40h9.1V171.98H48.2zM48.2 301.94h9.1V303.52H48.2zM57.3 46.78h9.1V48.37H57.3zM57.3 67.39h9.1V68.97H57.3zM57.3 84.82h9.1V86.40H57.3zM57.3 91.16h9.1V92.74H57.3zM57.3 99.08h9.1V100.67H57.3zM57.3 111.76h9.1V114.93H57.3zM57.3 157.72h9.1V159.31H57.3zM57.3 176.74h9.1V178.32H57.3zM57.3 183.08h9.1V184.66H57.3zM57.3 225.87h9.1V227.45H57.3zM57.3 230.62h9.1V232.21H57.3zM57.3 257.56h9.1V259.15H57.3zM57.3 281.34h9.1V282.92H57.3zM57.3 290.84h9.1V292.43H57.3zM57.3 301.94h9.1V303.52H57.3zM57.3 328.88h9.1V330.46H57.3zM57.3 332.05h9.1V333.63H57.3zM57.3 392.27h9.1V393.86H57.3zM84.6 99.08h9.1V100.67H84.6zM84.6 107.01h9.1V108.59H84.6zM84.6 124.44h9.1V126.02H84.6zM84.6 127.61h9.1V129.19H84.6zM84.6 189.42h9.1V191.00H84.6zM84.6 214.77h9.1V216.36H84.6zM84.6 222.70h9.1V224.28H84.6zM84.6 278.17h9.1V279.75H84.6zM84.6 282.92h9.1V284.50H84.6zM84.6 325.71h9.1V327.29H84.6zM84.6 341.56h9.1V343.14H84.6zM84.6 374.84h9.1V376.42H84.6zM84.6 404.95h9.1V406.53H84.6zM93.7 224.28h9.1V225.87H93.7zM121.0 56.29h9.1V57.88H121.0zM121.0 113.35h9.1V114.93H121.0zM121.0 381.18h9.1V382.76H121.0zM130.1 51.54h9.1V53.12H130.1zM130.1 149.80h9.1V151.38H130.1zM130.1 152.97h9.1V154.55H130.1zM130.1 200.51h9.1V202.10H130.1zM130.1 287.67h9.1V289.26H130.1zM130.1 316.20h9.1V317.79H130.1zM157.4 56.29h9.1V57.88H157.4zM157.4 75.31h9.1V76.90H157.4zM157.4 92.74h9.1V94.33H157.4zM157.4 167.23h9.1V168.81H157.4zM157.4 229.04h9.1V230.62H157.4zM157.4 232.21h9.1V233.79H157.4zM157.4 311.45h9.1V313.03H157.4zM157.4 316.20h9.1V317.79H157.4zM157.4 362.16h9.1V363.74H157.4zM157.4 373.25h9.1V374.84H157.4zM157.4 382.76h9.1V384.35H157.4zM157.4 416.04h9.1V417.63H157.4zM166.5 67.39h9.1V68.97H166.5zM166.5 300.35h9.1V301.94H166.5zM166.5 385.93h9.1V387.52H166.5zM184.7 282.92h9.1V284.50H184.7zM193.8 170.40h9.1V171.98H193.8zM193.8 422.38h9.1V423.97H193.8zM193.8 425.55h9.1V427.14H193.8zM202.9 102.25h9.1V103.84H202.9zM202.9 108.59h9.1V110.18H202.9zM202.9 127.61h9.1V129.19H202.9zM202.9 148.21h9.1V149.80H202.9zM202.9 176.74h9.1V178.32H202.9zM202.9 181.49h9.1V183.08H202.9zM202.9 194.17h9.1V195.76H202.9zM202.9 206.85h9.1V208.43H202.9zM202.9 222.70h9.1V224.28H202.9zM202.9 229.04h9.1V232.21H202.9zM202.9 438.23h9.1V439.82H202.9z"/>
<path fill="#ff9999" d="M48.2 84.82h9.1V86.40H48.2zM48.2 108.59h9.1V110.18H48.2zM48.2 146.63h9.1V148.21H48.2zM48.2 159.31h9.1V160.89H48.2zM48.2 221.11h9.1V222.70H48.2zM48.2 282.92h9.1V284.50H48.2zM48.2 324.12h9.1V325.71H48.2zM57.3 54.71h9.1V56.29H57.3zM57.3 72.14h9.1V76.90H57.3zM57.3 86.40h9.1V87.99H57.3zM57.3 173.57h9.1V175.15H57.3zM57.3 181.49h9.1V183.08H57.3zM57.3 222.70h9.1V224.28H57.3zM57.3 232.21h9.1V233.79H57.3zM57.3 255.98h9.1V257.56H57.3zM57.3 279.75h9.1V281.34H57.3zM57.3 292.43h9.1V295.60H57.3zM57.3 305.11h9.1V306.69H57.3zM57.3 381.18h9.1V382.76H57.3zM57.3 428.72h9.1V430.31H57.3zM84.6 48.37h9.1V49.95H84.6zM84.6 57.88h9.1V59.46H84.6zM84.6 138.70h9.1V140.29H84.6zM84.6 194.17h9.1V195.76H84.6zM84.6 198.93h9.1V200.51H84.6zM84.6 235.38h9.1V236.96H84.6zM84.6 252.81h9.1V254.39H84.6zM84.6 271.83h9.1V273.41H84.6zM84.6 298.77h9.1V300.35H84.6zM84.6 320.96h9.1V322.54H84.6zM84.6 406.53h9.1V408.12H84.6zM93.7 102.25h9.1V103.84H93.7zM93.7 395.44h9.1V397.03H93.7zM121.0 67.39h9.1V68.97H121.0zM121.0 132.36h9.1V133.95H121.0zM121.0 140.29h9.1V141.87H121.0zM130.1 45.20h9.1V46.78H130.1zM130.1 64.22h9.1V65.80H130.1zM130.1 97.50h9.1V99.08H130.1zM130.1 173.57h9.1V175.15H130.1zM130.1 224.28h9.1V225.87H130.1zM130.1 248.05h9.1V249.64H130.1zM130.1 278.17h9.1V279.75H130.1zM130.1 284.50h9.1V286.09H130.1zM130.1 358.99h9.1V360.58H130.1zM139.2 427.14h9.1V428.72H139.2zM157.4 83.24h9.1V84.82H157.4zM157.4 127.61h9.1V129.19H157.4zM157.4 168.81h9.1V170.40H157.4zM157.4 179.91h9.1V181.49H157.4zM157.4 203.68h9.1V205.26H157.4zM157.4 222.70h9.1V224.28H157.4zM157.4 244.88h9.1V248.05H157.4zM157.4 265.49h9.1V267.07H157.4zM157.4 273.41h9.1V275.00H157.4zM157.4 330.46h9.1V332.05H157.4zM157.4 335.22h9.1V336.80H157.4zM157.4 352.65h9.1V354.24H157.4zM157.4 366.91h9.1V370.08H157.4zM157.4 376.42h9.1V378.01H157.4zM157.4 408.12h9.1V409.70H157.4zM157.4 433.48h9.1V435.06H157.4zM157.4 436.65h9.1V438.23H157.4zM166.5 168.81h9.1V170.40H166.5zM166.5 205.26h9.1V206.85H166.5zM193.8 179.91h9.1V181.49H193.8zM202.9 59.46h9.1V61.05H202.9zM202.9 152.97h9.1V154.55H202.9zM202.9 219.53h9.1V221.11H202.9zM202.9 390.69h9.1V392.27H202.9z"/>
<path fill="#ff8c8c" d="M48.2 94.33h9.1V95.91H48.2zM48.2 113.35h9.1V114.93H48.2zM48.2 210.02h9.1V211.60H48.2zM48.2 222.70h9.1V224.28H48.2zM48.2 325.71h9.1V327.29H48.2zM48.2 341.56h9.1V343.14H48.2zM48.2 422.38h9.1V423.97H48.2zM57.3 59.46h9.1V61.05H57.3zM57.3 156.14h9.1V157.72H57.3zM57.3 198.93h9.1V200.51H57.3zM57.3 203.68h9.1V205.26H57.3zM57.3 217.94h9.1V219.53H57.3zM57.3 221.11h9.1V222.70H57.3zM57.3 229.04h9.1V230.62H57.3zM57.3 278.17h9.1V279.75H57.3zM57.3 297.18h9.1V298.77H57.3zM57.3 317.79h9.1V319.37H57.3zM57.3 351.07h9.1V352.65H57.3zM57.3 363.74h9.1V365.33H57.3zM57.3 384.35h9.1V385.93H57.3zM57.3 420.80h9.1V423.97H57.3zM57.3 430.31h9.1V431.89H57.3zM57.3 436.65h9.1V438.23H57.3zM84.6 51.54h9.1V54.71H84.6zM84.6 92.74h9.1V94.33H84.6zM84.6 102.25h9.1V103.84H84.6zM84.6 108.59h9.1V110.18H84.6zM84.6 137.12h9.1V138.70H84.6zM84.6 145.04h9.1V146.63H84.6zM84.6 160.89h9.1V162.48H84.6zM84.6 224.28h9.1V225.87H84.6zM84.6 248.05h9.1V249.64H84.6zM84.6 260.73h9.1V262.32H84.6zM84.6 289.26h9.1V290.84H84.6zM84.6 294.01h9.1V295.60H84.6zM84.6 335.22h9.1V336.80H84.6zM84.6 373.25h9.1V374.84H84.6zM84.6 376.42h9.1V378.01H84.6zM84.6 419.21h9.1V420.80H84.6zM93.7 119.69h9.1V121.27H93.7zM93.7 151.38h9.1V152.97H93.7zM93.7 298.77h9.1V300.35H93.7zM93.7 397.03h9.1V398.61H93.7zM121.0 87.99h9.1V89.57H121.0zM121.0 127.61h9.1V129.19H121.0zM121.0 162.48h9.1V164.06H121.0zM121.0 246.47h9.1V248.05H121.0zM121.0 295.60h9.1V297.18H121.0zM121.0 366.91h9.1V368.50H121.0zM121.0 411.29h9.1V412.87H121.0zM130.1 65.80h9.1V67.39H130.1zM130.1 127.61h9.1V129.19H130.1zM130.1 140.29h9.1V141.87H130.1zM130.1 159.31h9.1V160.89H130.1zM130.1 192.59h9.1V194.17H130.1zM130.1 244.88h9.1V246.47H130.1zM130.1 273.41h9.1V275.00H130.1zM130.1 341.56h9.1V343.14H130.1zM130.1 371.67h9.1V373.25H130.1zM130.1 381.18h9.1V382.76H130.1zM130.1 384.35h9.1V385.93H130.1zM130.1 397.03h9.1V398.61H130.1zM130.1 411.29h9.1V412.87H130.1zM157.4 59.46h9.1V61.05H157.4zM157.4 105.42h9.1V107.01H157.4zM157.4 110.18h9.1V111.76H157.4zM157.4 138.70h9.1V140.29H157.4zM157.4 173.57h9.1V175.15H157.4zM157.4 178.32h9.1V179.91H157.4zM157.4 192.59h9.1V194.17H157.4zM157.4 206.85h9.1V208.43H157.4zM157.4 214.77h9.1V216.36H157.4zM157.4 281.34h9.1V282.92H157.4zM157.4 358.99h9.1V360.58H157.4zM157.4 389.10h9.1V390.69H157.4zM157.4 401.78h9.1V403.36H157.4zM157.4 406.53h9.1V408.12H157.4zM166.5 436.65h9.1V438.23H166.5zM202.9 97.50h9.1V99.08H202.9zM202.9 175.15h9.1V176.74H202.9zM202.9 217.94h9.1V219.53H202.9zM202.9 262.32h9.1V263.90H202.9zM202.9 265.49h9.1V267.07H202.9zM202.9 336.80h9.1V338.39H202.9zM202.9 343.14h9.1V344.73H202.9z"/>
<path fill="#ff8080" d="M48.2 97.50h9.1V99.08H48.2zM48.2 116.52h9.1V118.10H48.2zM48.2 119.69h9.1V121.27H48.2zM48.2 122.86h9.1V124.44H48.2zM48.2 171.98h9.1V173.57H48.2zM48.2 183.08h9.1V184.66H48.2zM48.2 224.28h9.1V225.87H48.2zM48.2 240.13h9.1V241.72H48.2zM48.2 248.05h9.1V249.64H48.2zM48.2 298.77h9.1V300.35H48.2zM48.2 314.62h9.1V316.20H48.2zM48.2 387.52h9.1V389.10H48.2zM57.3 51.54h9.1V53.12H57.3zM57.3 80.07h9.1V81.65H57.3zM57.3 103.84h9.1V105.42H57.3zM57.3 121.27h9.1V122.86H57.3zM57.3 141.87h9.1V143.46H57.3zM57.3 151.38h9.1V152.97H57.3zM57.3 160.89h9.1V162.48H57.3zM57.3 171.98h9.1V173.57H57.3zM57.3 249.64h9.1V251.22H57.3zM57.3 262.32h9.1V263.90H57.3zM57.3 286.09h9.1V287.67H57.3zM57.3 306.69h9.1V308.28H57.3zM57.3 419.21h9.1V420.80H57.3zM57.3 425.55h9.1V427.14H57.3zM84.6 56.29h9.1V57.88H84.6zM84.6 73.73h9.1V75.31H84.6zM84.6 83.24h9.1V84.82H84.6zM84.6 87.99h9.1V89.57H84.6zM84.6 94.33h9.1V95.91H84.6zM84.6 119.69h9.1V121.27H84.6zM84.6 140.29h9.1V141.87H84.6zM84.6 175.15h9.1V176.74H84.6zM84.6 183.08h9.1V184.66H84.6zM84.6 213.19h9.1V214.77H84.6zM84.6 225.87h9.1V227.45H84.6zM84.6 244.88h9.1V246.47H84.6zM84.6 262.32h9.1V263.90H84.6zM84.6 268.66h9.1V270.24H84.6zM84.6 297.18h9.1V298.77H84.6zM84.6 347.90h9.1V349.48H84.6zM84.6 355.82h9.1V357.41H84.6zM84.6 365.33h9.1V366.91H84.6zM84.6 397.03h9.1V398.61H84.6zM84.6 422.38h9.1V423.97H84.6zM93.7 127.61h9.1V129.19H93.7zM93.7 140.29h9.1V141.87H93.7zM93.7 162.48h9.1V164.06H93.7zM93.7 205.26h9.1V206.85H93.7zM93.7 222.70h9.1V224.28H93.7zM93.7 248.05h9.1V249.64H93.7zM93.7 309.86h9.1V311.45H93.7zM93.7 412.87h9.1V414.46H93.7zM121.0 102.25h9.1V103.84H121.0zM121.0 108.59h9.1V110.18H121.0zM121.0 119.69h9.1V121.27H121.0zM121.0 145.04h9.1V148.21H121.0zM121.0 205.26h9.1V206.85H121.0zM121.0 298.77h9.1V300.35H121.0zM121.0 330.46h9.1V332.05H121.0zM121.0 387.52h9.1V389.10H121.0zM121.0 408.12h9.1V409.70H121.0zM130.1 73.73h9.1V75.31H130.1zM130.1 122.86h9.1V124.44H130.1zM130.1 141.87h9.1V143.46H130.1zM130.1 162.48h9.1V165.64H130.1zM130.1 194.17h9.1V195.76H130.1zM130.1 229.04h9.1V230.62H130.1zM130.1 240.13h9.1V241.72H130.1zM130.1 298.77h9.1V300.35H130.1zM130.1 374.84h9.1V376.42H130.1zM130.1 382.76h9.1V384.35H130.1zM157.4 48.37h9.1V49.95H157.4zM157.4 191.00h9.1V192.59H157.4zM157.4 194.17h9.1V195.76H157.4zM157.4 221.11h9.1V222.70H157.4zM157.4 238.55h9.1V240.13H157.4zM157.4 287.67h9.1V289.26H157.4zM157.4 355.82h9.1V357.41H157.4zM157.4 385.93h9.1V387.52H157.4zM166.5 75.31h9.1V76.90H166.5zM202.9 235.38h9.1V236.96H202.9z"/>
<path fill="#ff7373" d="M48.2 156.14h9.1V159.31H48.2zM48.2 187.83h9.1V189.42H48.2zM48.2 213.19h9.1V214.77H48.2zM48.2 286.09h9.1V287.67H48.2zM48.2 292.43h9.1V294.01H48.2zM48.2 313.03h9.1V314.62H48.2zM48.2 365.33h9.1V366.91H48.2zM57.3 53.12h9.1V54.71H57.3zM57.3 145.04h9.1V146.63H57.3zM57.3 164.06h9.1V165.64H57.3zM57.3 175.15h9.1V176.74H57.3zM57.3 184.66h9.1V186.25H57.3zM57.3 192.59h9.1V195.76H57.3zM57.3 208.43h9.1V210.02H57.3zM57.3 233.79h9.1V235.38H57.3zM57.3 333.63h9.1V335.22H57.3zM57.3 385.93h9.1V387.52H57.3zM57.3 409.70h9.1V411.29H57.3zM84.6 65.80h9.1V67.39H84.6zM84.6 89.57h9.1V91.16H84.6zM84.6 97.50h9.1V99.08H84.6zM84.6 132.36h9.1V133.95H84.6zM84.6 141.87h9.1V143.46H84.6zM84.6 197.34h9.1V198.93H84.6zM84.6 232.21h9.1V233.79H84.6zM84.6 246.47h9.1V248.05H84.6zM84.6 257.56h9.1V259.15H84.6zM84.6 273.41h9.1V275.00H84.6zM84.6 279.75h9.1V281.34H84.6zM84.6 330.46h9.1V332.05H84.6zM84.6 336.80h9.1V339.97H84.6zM84.6 371.67h9.1V373.25H84.6zM84.6 416.04h9.1V417.63H84.6zM93.7 192.59h9.1V194.17H93.7zM93.7 197.34h9.1V198.93H93.7zM93.7 294.01h9.1V297.18H93.7zM93.7 316.20h9.1V317.79H93.7zM93.7 324.12h9.1V325.71H93.7zM121.0 83.24h9.1V84.82H121.0zM121.0 170.40h9.1V173.57H121.0zM121.0 194.17h9.1V195.76H121.0zM121.0 210.02h9.1V211.60H121.0zM121.0 262.32h9.1V263.90H121.0zM121.0 314.62h9.1V316.20H121.0zM121.0 335.22h9.1V336.80H121.0zM130.1 56.29h9.1V57.88H130.1zM130.1 78.48h9.1V80.07H130.1zM130.1 102.25h9.1V103.84H130.1zM130.1 107.01h9.1V108.59H130.1zM130.1 119.69h9.1V121.27H130.1zM130.1 133.95h9.1V135.53H130.1zM130.1 146.63h9.1V148.21H130.1zM130.1 151.38h9.1V152.97H130.1zM130.1 160.89h9.1V162.48H130.1zM130.1 189.42h9.1V191.00H130.1zM130.1 198.93h9.1V200.51H130.1zM130.1 259.15h9.1V260.73H130.1zM130.1 268.66h9.1V270.24H130.1zM130.1 289.26h9.1V290.84H130.1zM130.1 295.60h9.1V298.77H130.1zM130.1 308.28h9.1V309.86H130.1zM130.1 324.12h9.1V325.71H130.1zM130.1 330.46h9.1V332.05H130.1zM130.1 357.41h9.1V358.99H130.1zM130.1 368.50h9.1V370.08H130.1zM130.1 406.53h9.1V408.12H130.1zM157.4 54.71h9.1V56.29H157.4zM157.4 84.82h9.1V86.40H157.4zM157.4 114.93h9.1V116.52H157.4zM157.4 121.27h9.1V122.86H157.4zM157.4 156.14h9.1V157.72H157.4zM157.4 233.79h9.1V235.38H157.4zM157.4 290.84h9.1V292.43H157.4zM157.4 325.71h9.1V327.29H157.4zM157.4 338.39h9.1V339.97H157.4zM157.4 392.27h9.1V393.86H157.4zM157.4 420.80h9.1V422.38H157.4zM157.4 428.72h9.1V430.31H157.4zM202.9 232.21h9.1V233.79H202.9z"/>
<path fill="#ff6666" d="M48.2 107.01h9.1V108.59H48.2zM48.2 127.61h9.1V129.19H48.2zM48.2 132.36h9.1V133.95H48.2zM48.2 151.38h9.1V152.97H48.2zM48.2 179.91h9.1V181.49H48.2zM48.2 198.93h9.1V200.51H48.2zM48.2 257.56h9.1V259.15H48.2zM48.2 278.17h9.1V279.75H48.2zM48.2 297.18h9.1V298.77H48.2zM48.2 333.63h9.1V335.22H48.2zM48.2 338.39h9.1V339.97H48.2zM48.2 349.48h9.1V351.07H48.2zM48.2 355.82h9.1V358.99H48.2zM48.2 371.67h9.1V373.25H48.2zM48.2 420.80h9.1V422.38H48.2zM57.3 57.88h9.1V59.46H57.3zM57.3 116.52h9.1V118.10H57.3zM57.3 127.61h9.1V129.19H57.3zM57.3 187.83h9.1V189.42H57.3zM57.3 336.80h9.1V338.39H57.3zM57.3 412.87h9.1V414.46H57.3zM84.6 61.05h9.1V62.63H84.6zM84.6 81.65h9.1V83.24H84.6zM84.6 95.91h9.1V97.50H84.6zM84.6 100.67h9.1V102.25H84.6zM84.6 148.21h9.1V149.80H84.6zM84.6 152.97h9.1V154.55H84.6zM84.6 157.72h9.1V159.31H84.6zM84.6 263.90h9.1V265.49H84.6zM84.6 286.09h9.1V287.67H84.6zM84.6 314.62h9.1V316.20H84.6zM84.6 324.12h9.1V325.71H84.6zM84.6 352.65h9.1V354.24H84.6zM84.6 384.35h9.1V385.93H84.6zM84.6 387.52h9.1V389.10H84.6zM84.6 409.70h9.1V411.29H84.6zM84.6 430.31h9.1V431.89H84.6zM93.7 124.44h9.1V126.02H93.7zM93.7 159.31h9.1V160.89H93.7zM93.7 183.08h9.1V184.66H93.7zM93.7 232.21h9.1V233.79H93.7zM93.7 240.13h9.1V241.72H93.7zM93.7 244.88h9.1V246.47H93.7zM93.7 313.03h9.1V314.62H93.7zM93.7 341.56h9.1V343.14H93.7zM93.7 376.42h9.1V378.01H93.7zM93.7 381.18h9.1V384.35H93.7zM93.7 409.70h9.1V411.29H93.7zM93.7 422.38h9.1V423.97H93.7zM121.0 91.16h9.1V92.74H121.0zM121.0 176.74h9.1V178.32H121.0zM121.0 222.70h9.1V224.28H121.0zM121.0 260.73h9.1V262.32H121.0zM121.0 263.90h9.1V265.49H121.0zM121.0 287.67h9.1V289.26H121.0zM121.0 308.28h9.1V309.86H121.0zM121.0 333.63h9.1V335.22H121.0zM121.0 347.90h9.1V349.48H121.0zM121.0 358.99h9.1V360.58H121.0zM121.0 371.67h9.1V373.25H121.0zM121.0 382.76h9.1V384.35H121.0zM121.0 419.21h9.1V420.80H121.0zM130.1 53.12h9.1V54.71H130.1zM130.1 81.65h9.1V83.24H130.1zM130.1 105.42h9.1V107.01H130.1zM130.1 148.21h9.1V149.80H130.1zM130.1 157.72h9.1V159.31H130.1zM130.1 230.62h9.1V232.21H130.1zM130.1 235.38h9.1V236.96H130.1zM130.1 262.32h9.1V263.90H130.1zM130.1 271.83h9.1V273.41H130.1zM130.1 286.09h9.1V287.67H130.1zM130.1 290.84h9.1V292.43H130.1zM130.1 314.62h9.1V316.20H130.1zM130.1 333.63h9.1V335.22H130.1zM130.1 370.08h9.1V371.67H130.1zM130.1 378.01h9.1V379.59H130.1zM130.1 390.69h9.1V393.86H130.1zM157.4 67.39h9.1V68.97H157.4zM157.4 111.76h9.1V113.35H157.4zM157.4 146.63h9.1V148.21H157.4zM157.4 149.80h9.1V151.38H157.4zM157.4 184.66h9.1V186.25H157.4zM157.4 187.83h9.1V189.42H157.4zM157.4 235.38h9.1V236.96H157.4zM157.4 275.00h9.1V276.58H157.4zM157.4 303.52h9.1V305.11H157.4zM157.4 365.33h9.1V366.91H157.4zM157.4 381.18h9.1V382.76H157.4zM166.5 198.93h9.1V200.51H166.5zM202.9 263.90h9.1V265.49H202.9zM202.9 341.56h9.1V343.14H202.9z"/>
<path fill="#ff5959" d="M48.2 53.12h9.1V54.71H48.2zM48.2 72.14h9.1V73.73H48.2zM48.2 89.57h9.1V92.74H48.2zM48.2 95.91h9.1V97.50H48.2zM48.2 160.89h9.1V162.48H48.2zM48.2 200.51h9.1V202.10H48.2zM48.2 216.36h9.1V217.94H48.2zM48.2 230.62h9.1V232.21H48.2zM48.2 268.66h9.1V270.24H48.2zM48.2 322.54h9.1V324.12H48.2zM48.2 330.46h9.1V332.05H48.2zM48.2 358.99h9.1V360.58H48.2zM48.2 366.91h9.1V368.50H48.2zM48.2 373.25h9.1V374.84H48.2zM48.2 378.01h9.1V379.59H48.2zM48.2 408.12h9.1V409.70H48.2zM48.2 439.82h9.1V441.40H48.2zM57.3 129.19h9.1V130.78H57.3zM57.3 168.81h9.1V170.40H57.3zM57.3 206.85h9.1V208.43H57.3zM57.3 241.72h9.1V243.30H57.3zM57.3 282.92h9.1V284.50H57.3zM57.3 330.46h9.1V332.05H57.3zM57.3 335.22h9.1V336.80H57.3zM57.3 339.97h9.1V341.56H57.3zM57.3 423.97h9.1V425.55H57.3zM84.6 149.80h9.1V151.38H84.6zM84.6 200.51h9.1V202.10H84.6zM84.6 216.36h9.1V217.94H84.6zM84.6 259.15h9.1V260.73H84.6zM84.6 305.11h9.1V306.69H84.6zM84.6 308.28h9.1V309.86H84.6zM84.6 349.48h9.1V351.07H84.6zM84.6 354.24h9.1V355.82H84.6zM84.6 378.01h9.1V379.59H84.6zM84.6 385.93h9.1V387.52H84.6zM84.6 425.55h9.1V427.14H84.6zM84.6 439.82h9.1V441.40H84.6zM93.7 67.39h9.1V68.97H93.7zM93.7 83.24h9.1V84.82H93.7zM93.7 107.01h9.1V110.18H93.7zM93.7 113.35h9.1V114.93H93.7zM93.7 145.04h9.1V146.63H93.7zM93.7 171.98h9.1V173.57H93.7zM93.7 213.19h9.1V214.77H93.7zM93.7 216.36h9.1V217.94H93.7zM93.7 229.04h9.1V230.62H93.7zM93.7 257.56h9.1V259.15H93.7zM93.7 262.32h9.1V263.90H93.7zM93.7 271.83h9.1V273.41H93.7zM93.7 278.17h9.1V281.34H93.7zM93.7 314.62h9.1V316.20H93.7zM93.7 330.46h9.1V332.05H93.7zM93.7 333.63h9.1V335.22H93.7zM93.7 365.33h9.1V366.91H93.7zM93.7 398.61h9.1V400.20H93.7zM93.7 425.55h9.1V427.14H93.7zM93.7 438.23h9.1V439.82H93.7zM121.0 89.57h9.1V91.16H121.0zM121.0 107.01h9.1V108.59H121.0zM121.0 137.12h9.1V138.70H121.0zM121.0 148.21h9.1V149.80H121.0zM121.0 179.91h9.1V181.49H121.0zM121.0 197.34h9.1V198.93H121.0zM121.0 232.21h9.1V233.79H121.0zM121.0 241.72h9.1V243.30H121.0zM121.0 248.05h9.1V249.64H121.0zM121.0 257.56h9.1V259.15H121.0zM121.0 275.00h9.1V276.58H121.0zM121.0 316.20h9.1V317.79H121.0zM121.0 354.24h9.1V358.99H121.0zM121.0 360.58h9.1V362.16H121.0zM121.0 374.84h9.1V378.01H121.0zM121.0 404.95h9.1V408.12H121.0zM121.0 409.70h9.1V411.29H121.0zM121.0 422.38h9.1V423.97H121.0zM121.0 425.55h9.1V427.14H121.0zM130.1 54.71h9.1V56.29H130.1zM130.1 67.39h9.1V68.97H130.1zM130.1 84.82h9.1V86.40H130.1zM130.1 89.57h9.1V91.16H130.1zM130.1 126.02h9.1V127.61H130.1zM130.1 135.53h9.1V137.12H130.1zM130.1 171.98h9.1V173.57H130.1zM130.1 210.02h9.1V211.60H130.1zM130.1 257.56h9.1V259.15H130.1zM130.1 276.58h9.1V278.17H130.1zM130.1 279.75h9.1V281.34H130.1zM130.1 325.71h9.1V327.29H130.1zM130.1 339.97h9.1V341.56H130.1zM130.1 347.90h9.1V349.48H130.1zM130.1 352.65h9.1V354.24H130.1zM130.1 355.82h9.1V357.41H130.1zM130.1 373.25h9.1V374.84H130.1zM130.1 389.10h9.1V390.69H130.1zM130.1 422.38h9.1V423.97H130.1zM157.4 45.20h9.1V46.78H157.4zM157.4 61.05h9.1V62.63H157.4zM157.4 68.97h9.1V70.56H157.4zM157.4 91.16h9.1V92.74H157.4zM157.4 95.91h9.1V97.50H157.4zM157.4 99.08h9.1V100.67H157.4zM157.4 141.87h9.1V143.46H157.4zM157.4 160.89h9.1V162.48H157.4zM157.4 186.25h9.1V187.83H157.4zM157.4 252.81h9.1V254.39H157.4zM157.4 255.98h9.1V257.56H157.4zM157.4 354.24h9.1V355.82H157.4zM157.4 371.67h9.1V373.25H157.4zM157.4 404.95h9.1V406.53H157.4z"/>
<path fill="#ff4d4d" d="M48.2 65.80h9.1V67.39H48.2zM48.2 75.31h9.1V76.90H48.2zM48.2 141.87h9.1V143.46H48.2zM48.2 164.06h9.1V167.23H48.2zM48.2 173.57h9.1V176.74H48.2zM48.2 229.04h9.1V230.62H48.2zM48.2 244.88h9.1V246.47H48.2zM48.2 259.15h9.1V260.73H48.2zM48.2 270.24h9.1V273.41H48.2zM48.2 287.67h9.1V289.26H48.2zM48.2 295.60h9.1V297.18H48.2zM48.2 309.86h9.1V311.45H48.2zM48.2 390.69h9.1V392.27H48.2zM48.2 416.04h9.1V417.63H48.2zM57.3 70.56h9.1V72.14H57.3zM57.3 324.12h9.1V325.71H57.3zM57.3 390.69h9.1V392.27H57.3zM84.6 86.40h9.1V87.99H84.6zM84.6 129.19h9.1V130.78H84.6zM84.6 187.83h9.1V189.42H84.6zM84.6 191.00h9.1V192.59H84.6zM84.6 195.76h9.1V197.34H84.6zM84.6 255.98h9.1V257.56H84.6zM84.6 284.50h9.1V286.09H84.6zM84.6 357.41h9.1V360.58H84.6zM84.6 363.74h9.1V365.33H84.6zM84.6 366.91h9.1V368.50H84.6zM84.6 381.18h9.1V382.76H84.6zM84.6 392.27h9.1V393.86H84.6zM84.6 401.78h9.1V403.36H84.6zM84.6 428.72h9.1V430.31H84.6zM84.6 431.89h9.1V433.48H84.6zM84.6 438.23h9.1V439.82H84.6zM93.7 73.73h9.1V76.90H93.7zM93.7 89.57h9.1V92.74H93.7zM93.7 148.21h9.1V149.80H93.7zM93.7 170.40h9.1V171.98H93.7zM93.7 194.17h9.1V195.76H93.7zM93.7 214.77h9.1V216.36H93.7zM93.7 221.11h9.1V222.70H93.7zM93.7 259.15h9.1V260.73H93.7zM93.7 268.66h9.1V270.24H93.7zM93.7 275.00h9.1V276.58H93.7zM93.7 284.50h9.1V289.26H93.7zM93.7 347.90h9.1V349.48H93.7zM121.0 54.71h9.1V56.29H121.0zM121.0 72.14h9.1V73.73H121.0zM121.0 75.31h9.1V76.90H121.0zM121.0 95.91h9.1V97.50H121.0zM121.0 224.28h9.1V225.87H121.0zM121.0 281.34h9.1V282.92H121.0zM121.0 284.50h9.1V286.09H121.0zM121.0 305.11h9.1V306.69H121.0zM121.0 336.80h9.1V338.39H121.0zM121.0 363.74h9.1V365.33H121.0zM121.0 378.01h9.1V379.59H121.0zM121.0 385.93h9.1V387.52H121.0zM121.0 412.87h9.1V414.46H121.0zM121.0 427.14h9.1V428.72H121.0zM130.1 46.78h9.1V48.37H130.1zM130.1 179.91h9.1V183.08H130.1zM130.1 195.76h9.1V198.93H130.1zM130.1 213.19h9.1V214.77H130.1zM130.1 222.70h9.1V224.28H130.1zM130.1 249.64h9.1V251.22H130.1zM130.1 260.73h9.1V262.32H130.1zM130.1 281.34h9.1V282.92H130.1zM130.1 292.43h9.1V294.01H130.1zM130.1 305.11h9.1V308.28H130.1zM130.1 309.86h9.1V311.45H130.1zM130.1 387.52h9.1V389.10H130.1zM130.1 403.36h9.1V404.95H130.1zM130.1 428.72h9.1V431.89H130.1zM130.1 438.23h9.1V439.82H130.1zM157.4 76.90h9.1V78.48H157.4zM157.4 81.65h9.1V83.24H157.4zM157.4 97.50h9.1V99.08H157.4zM157.4 100.67h9.1V102.25H157.4zM157.4 135.53h9.1V137.12H157.4zM157.4 225.87h9.1V227.45H157.4zM157.4 243.30h9.1V244.88H157.4zM157.4 276.58h9.1V278.17H157.4zM157.4 374.84h9.1V376.42H157.4zM157.4 409.70h9.1V411.29H157.4zM202.9 75.31h9.1V76.90H202.9zM202.9 249.64h9.1V251.22H202.9z"/>
<path fill="#ff4040" d="M48.2 45.20h9.1V46.78H48.2zM48.2 54.71h9.1V57.88H48.2zM48.2 67.39h9.1V70.56H48.2zM48.2 103.84h9.1V105.42H48.2zM48.2 124.44h9.1V127.61H48.2zM48.2 152.97h9.1V154.55H48.2zM48.2 167.23h9.1V168.81H48.2zM48.2 191.00h9.1V192.59H48.2zM48.2 197.34h9.1V198.93H48.2zM48.2 206.85h9.1V208.43H48.2zM48.2 227.45h9.1V229.04H48.2zM48.2 267.07h9.1V268.66H48.2zM48.2 273.41h9.1V275.00H48.2zM48.2 284.50h9.1V286.09H48.2zM48.2 316.20h9.1V317.79H48.2zM48.2 335.22h9.1V336.80H48.2zM48.2 368.50h9.1V370.08H48.2zM48.2 382.76h9.1V384.35H48.2zM48.2 404.95h9.1V406.53H48.2zM48.2 419.21h9.1V420.80H48.2zM48.2 423.97h9.1V425.55H48.2zM48.2 427.14h9.1V428.72H48.2zM48.2 430.31h9.1V431.89H48.2zM57.3 186.25h9.1V187.83H57.3zM57.3 275.00h9.1V276.58H57.3zM57.3 365.33h9.1V366.91H57.3zM57.3 373.25h9.1V374.84H57.3zM84.6 70.56h9.1V73.73H84.6zM84.6 105.42h9.1V107.01H84.6zM84.6 143.46h9.1V145.04H84.6zM84.6 165.64h9.1V167.23H84.6zM84.6 178.32h9.1V179.91H84.6zM84.6 221.11h9.1V222.70H84.6zM84.6 227.45h9.1V229.04H84.6zM84.6 292.43h9.1V294.01H84.6zM84.6 306.69h9.1V308.28H84.6zM84.6 309.86h9.1V311.45H84.6zM84.6 333.63h9.1V335.22H84.6zM84.6 351.07h9.1V352.65H84.6zM84.6 360.58h9.1V362.16H84.6zM84.6 389.10h9.1V390.69H84.6zM84.6 412.87h9.1V414.46H84.6zM93.7 92.74h9.1V97.50H93.7zM93.7 105.42h9.1V107.01H93.7zM93.7 133.95h9.1V135.53H93.7zM93.7 149.80h9.1V151.38H93.7zM93.7 152.97h9.1V154.55H93.7zM93.7 160.89h9.1V162.48H93.7zM93.7 175.15h9.1V176.74H93.7zM93.7 191.00h9.1V192.59H93.7zM93.7 357.41h9.1V358.99H93.7zM93.7 411.29h9.1V412.87H93.7zM121.0 46.78h9.1V48.37H121.0zM121.0 92.74h9.1V94.33H121.0zM121.0 126.02h9.1V127.61H121.0zM121.0 130.78h9.1V132.36H121.0zM121.0 133.95h9.1V135.53H121.0zM121.0 149.80h9.1V151.38H121.0zM121.0 175.15h9.1V176.74H121.0zM121.0 181.49h9.1V184.66H121.0zM121.0 187.83h9.1V189.42H121.0zM121.0 191.00h9.1V192.59H121.0zM121.0 200.51h9.1V202.10H121.0zM121.0 208.43h9.1V210.02H121.0zM121.0 259.15h9.1V260.73H121.0zM121.0 268.66h9.1V270.24H121.0zM121.0 289.26h9.1V290.84H121.0zM121.0 324.12h9.1V325.71H121.0zM121.0 379.59h9.1V381.18H121.0zM121.0 417.63h9.1V419.21H121.0zM121.0 439.82h9.1V441.40H121.0zM130.1 48.37h9.1V49.95H130.1zM130.1 113.35h9.1V114.93H130.1zM130.1 118.10h9.1V119.69H130.1zM130.1 130.78h9.1V132.36H130.1zM130.1 183.08h9.1V184.66H130.1zM130.1 246.47h9.1V248.05H130.1zM130.1 252.81h9.1V254.39H130.1zM130.1 322.54h9.1V324.12H130.1zM130.1 414.46h9.1V416.04H130.1zM157.4 64.22h9.1V65.80H157.4zM157.4 113.35h9.1V114.93H157.4zM157.4 195.76h9.1V197.34H157.4zM157.4 322.54h9.1V324.12H157.4zM157.4 360.58h9.1V362.16H157.4zM166.5 262.32h9.1V263.90H166.5zM202.9 119.69h9.1V121.27H202.9z"/>
<path fill="#ff3333" d="M48.2 46.78h9.1V48.37H48.2zM48.2 70.56h9.1V72.14H48.2zM48.2 76.90h9.1V78.48H48.2zM48.2 92.74h9.1V94.33H48.2zM48.2 100.67h9.1V102.25H48.2zM48.2 129.19h9.1V132.36H48.2zM48.2 178.32h9.1V179.91H48.2zM48.2 214.77h9.1V216.36H48.2zM48.2 217.94h9.1V219.53H48.2zM48.2 232.21h9.1V233.79H48.2zM48.2 235.38h9.1V236.96H48.2zM48.2 289.26h9.1V292.43H48.2zM48.2 317.79h9.1V319.37H48.2zM48.2 354.24h9.1V355.82H48.2zM48.2 360.58h9.1V362.16H48.2zM48.2 370.08h9.1V371.67H48.2zM48.2 379.59h9.1V381.18H48.2zM48.2 385.93h9.1V387.52H48.2zM48.2 425.55h9.1V427.14H48.2zM57.3 64.22h9.1V65.80H57.3zM57.3 378.01h9.1V379.59H57.3zM57.3 406.53h9.1V408.12H57.3zM84.6 46.78h9.1V48.37H84.6zM84.6 54.71h9.1V56.29H84.6zM84.6 62.63h9.1V64.22H84.6zM84.6 111.76h9.1V113.35H84.6zM84.6 154.55h9.1V157.72H84.6zM84.6 179.91h9.1V181.49H84.6zM84.6 236.96h9.1V238.55H84.6zM84.6 243.30h9.1V244.88H84.6zM84.6 267.07h9.1V268.66H84.6zM84.6 276.58h9.1V278.17H84.6zM84.6 313.03h9.1V314.62H84.6zM84.6 368.50h9.1V370.08H84.6zM84.6 408.12h9.1V409.70H84.6zM93.7 48.37h9.1V49.95H93.7zM93.7 56.29h9.1V57.88H93.7zM93.7 61.05h9.1V62.63H93.7zM93.7 129.19h9.1V130.78H93.7zM93.7 137.12h9.1V138.70H93.7zM93.7 141.87h9.1V143.46H93.7zM93.7 267.07h9.1V268.66H93.7zM93.7 281.34h9.1V282.92H93.7zM93.7 292.43h9.1V294.01H93.7zM93.7 308.28h9.1V309.86H93.7zM93.7 325.71h9.1V328.88H93.7zM93.7 373.25h9.1V376.42H93.7zM121.0 61.05h9.1V62.63H121.0zM121.0 80.07h9.1V81.65H121.0zM121.0 111.76h9.1V113.35H121.0zM121.0 138.70h9.1V140.29H121.0zM121.0 157.72h9.1V159.31H121.0zM121.0 198.93h9.1V200.51H121.0zM121.0 213.19h9.1V214.77H121.0zM121.0 216.36h9.1V217.94H121.0zM121.0 229.04h9.1V232.21H121.0zM121.0 276.58h9.1V281.34H121.0zM121.0 282.92h9.1V284.50H121.0zM121.0 301.94h9.1V303.52H121.0zM121.0 320.96h9.1V322.54H121.0zM121.0 349.48h9.1V351.07H121.0zM121.0 365.33h9.1V366.91H121.0zM121.0 373.25h9.1V374.84H121.0zM121.0 390.69h9.1V392.27H121.0zM121.0 397.03h9.1V398.61H121.0zM121.0 435.06h9.1V436.65H121.0zM130.1 49.95h9.1V51.54H130.1zM130.1 61.05h9.1V62.63H130.1zM130.1 72.14h9.1V73.73H130.1zM130.1 76.90h9.1V78.48H130.1zM130.1 80.07h9.1V81.65H130.1zM130.1 91.16h9.1V97.50H130.1zM130.1 129.19h9.1V130.78H130.1zM130.1 143.46h9.1V146.63H130.1zM130.1 165.64h9.1V167.23H130.1zM130.1 219.53h9.1V221.11H130.1zM130.1 225.87h9.1V227.45H130.1zM130.1 236.96h9.1V238.55H130.1zM130.1 317.79h9.1V319.37H130.1zM130.1 327.29h9.1V328.88H130.1zM130.1 346.31h9.1V347.90H130.1zM130.1 439.82h9.1V441.40H130.1zM157.4 86.40h9.1V87.99H157.4zM157.4 137.12h9.1V138.70H157.4zM157.4 164.06h9.1V165.64H157.4zM157.4 227.45h9.1V229.04H157.4zM157.4 236.96h9.1V238.55H157.4zM157.4 259.15h9.1V260.73H157.4zM157.4 319.37h9.1V320.96H157.4zM157.4 423.97h9.1V425.55H157.4zM157.4 430.31h9.1V431.89H157.4z"/>
<path fill="#ff2626" d="M48.2 59.46h9.1V62.63H48.2zM48.2 64.22h9.1V65.80H48.2zM48.2 102.25h9.1V103.84H48.2zM48.2 118.10h9.1V119.69H48.2zM48.2 143.46h9.1V145.04H48.2zM48.2 176.74h9.1V178.32H48.2zM48.2 189.42h9.1V191.00H48.2zM48.2 192.59h9.1V194.17H48.2zM48.2 249.64h9.1V251.22H48.2zM48.2 254.39h9.1V255.98H48.2zM48.2 279.75h9.1V281.34H48.2zM48.2 306.69h9.1V308.28H48.2zM48.2 339.97h9.1V341.56H48.2zM48.2 417.63h9.1V419.21H48.2zM48.2 433.48h9.1V435.06H48.2zM57.3 149.80h9.1V151.38H57.3zM57.3 265.49h9.1V267.07H57.3zM57.3 316.20h9.1V317.79H57.3zM57.3 417.63h9.1V419.21H57.3zM84.6 45.20h9.1V46.78H84.6zM84.6 59.46h9.1V61.05H84.6zM84.6 67.39h9.1V68.97H84.6zM84.6 75.31h9.1V76.90H84.6zM84.6 110.18h9.1V111.76H84.6zM84.6 116.52h9.1V118.10H84.6zM84.6 122.86h9.1V124.44H84.6zM84.6 159.31h9.1V160.89H84.6zM84.6 176.74h9.1V178.32H84.6zM84.6 184.66h9.1V187.83H84.6zM84.6 192.59h9.1V194.17H84.6zM84.6 210.02h9.1V211.60H84.6zM84.6 233.79h9.1V235.38H84.6zM84.6 241.72h9.1V243.30H84.6zM84.6 254.39h9.1V255.98H84.6zM84.6 287.67h9.1V289.26H84.6zM84.6 290.84h9.1V292.43H84.6zM84.6 332.05h9.1V333.63H84.6zM84.6 339.97h9.1V341.56H84.6zM84.6 370.08h9.1V371.67H84.6zM84.6 400.20h9.1V401.78H84.6zM84.6 414.46h9.1V416.04H84.6zM84.6 436.65h9.1V438.23H84.6zM93.7 51.54h9.1V53.12H93.7zM93.7 59.46h9.1V61.05H93.7zM93.7 72.14h9.1V73.73H93.7zM93.7 111.76h9.1V113.35H93.7zM93.7 130.78h9.1V132.36H93.7zM93.7 181.49h9.1V183.08H93.7zM93.7 200.51h9.1V202.10H93.7zM93.7 230.62h9.1V232.21H93.7zM93.7 241.72h9.1V243.30H93.7zM93.7 263.90h9.1V265.49H93.7zM93.7 297.18h9.1V298.77H93.7zM93.7 335.22h9.1V338.39H93.7zM93.7 387.52h9.1V389.10H93.7zM93.7 393.86h9.1V395.44H93.7zM93.7 419.21h9.1V420.80H93.7zM93.7 430.31h9.1V431.89H93.7zM121.0 48.37h9.1V49.95H121.0zM121.0 51.54h9.1V53.12H121.0zM121.0 65.80h9.1V67.39H121.0zM121.0 100.67h9.1V102.25H121.0zM121.0 152.97h9.1V154.55H121.0zM121.0 192.59h9.1V194.17H121.0zM121.0 195.76h9.1V197.34H121.0zM121.0 214.77h9.1V216.36H121.0zM121.0 240.13h9.1V241.72H121.0zM121.0 339.97h9.1V341.56H121.0zM121.0 438.23h9.1V439.82H121.0zM130.1 187.83h9.1V189.42H130.1zM130.1 202.10h9.1V205.26H130.1zM130.1 211.60h9.1V213.19H130.1zM130.1 214.77h9.1V216.36H130.1zM130.1 241.72h9.1V243.30H130.1zM130.1 265.49h9.1V268.66H130.1zM130.1 303.52h9.1V305.11H130.1zM130.1 313.03h9.1V314.62H130.1zM130.1 354.24h9.1V355.82H130.1zM130.1 363.74h9.1V365.33H130.1zM130.1 400.20h9.1V401.78H130.1zM130.1 409.70h9.1V411.29H130.1zM130.1 416.04h9.1V419.21H130.1zM130.1 423.97h9.1V427.14H130.1zM130.1 435.06h9.1V436.65H130.1zM157.4 251.22h9.1V252.81H157.4zM157.4 317.79h9.1V319.37H157.4zM157.4 332.05h9.1V333.63H157.4zM157.4 347.90h9.1V349.48H157.4zM157.4 390.69h9.1V392.27H157.4z"/>
<path fill="#ff1919" d="M48.2 51.54h9.1V53.12H48.2zM48.2 62.63h9.1V64.22H48.2zM48.2 81.65h9.1V83.24H48.2zM48.2 86.40h9.1V87.99H48.2zM48.2 99.08h9.1V100.67H48.2zM48.2 121.27h9.1V122.86H48.2zM48.2 133.95h9.1V135.53H48.2zM48.2 137.12h9.1V140.29H48.2zM48.2 149.80h9.1V151.38H48.2zM48.2 195.76h9.1V197.34H48.2zM48.2 225.87h9.1V227.45H48.2zM48.2 327.29h9.1V328.88H48.2zM48.2 389.10h9.1V390.69H48.2zM48.2 398.61h9.1V400.20H48.2zM48.2 401.78h9.1V403.36H48.2zM48.2 438.23h9.1V439.82H48.2zM57.3 362.16h9.1V363.74H57.3zM84.6 68.97h9.1V70.56H84.6zM84.6 126.02h9.1V127.61H84.6zM84.6 146.63h9.1V148.21H84.6zM84.6 167.23h9.1V168.81H84.6zM84.6 181.49h9.1V183.08H84.6zM84.6 203.68h9.1V205.26H84.6zM84.6 217.94h9.1V221.11H84.6zM84.6 229.04h9.1V230.62H84.6zM84.6 251.22h9.1V252.81H84.6zM84.6 300.35h9.1V301.94H84.6zM84.6 322.54h9.1V324.12H84.6zM84.6 328.88h9.1V330.46H84.6zM84.6 346.31h9.1V347.90H84.6zM84.6 423.97h9.1V425.55H84.6zM84.6 433.48h9.1V435.06H84.6zM93.7 64.22h9.1V65.80H93.7zM93.7 68.97h9.1V70.56H93.7zM93.7 80.07h9.1V81.65H93.7zM93.7 103.84h9.1V105.42H93.7zM93.7 110.18h9.1V111.76H93.7zM93.7 146.63h9.1V148.21H93.7zM93.7 156.14h9.1V157.72H93.7zM93.7 179.91h9.1V181.49H93.7zM93.7 189.42h9.1V191.00H93.7zM93.7 198.93h9.1V200.51H93.7zM93.7 260.73h9.1V262.32H93.7zM93.7 289.26h9.1V290.84H93.7zM93.7 355.82h9.1V357.41H93.7zM93.7 358.99h9.1V360.58H93.7zM93.7 371.67h9.1V373.25H93.7zM93.7 378.01h9.1V381.18H93.7zM93.7 400.20h9.1V401.78H93.7zM93.7 406.53h9.1V408.12H93.7zM93.7 416.04h9.1V417.63H93.7zM121.0 45.20h9.1V46.78H121.0zM121.0 57.88h9.1V59.46H121.0zM121.0 70.56h9.1V72.14H121.0zM121.0 97.50h9.1V99.08H121.0zM121.0 103.84h9.1V107.01H121.0zM121.0 110.18h9.1V111.76H121.0zM121.0 122.86h9.1V124.44H121.0zM121.0 135.53h9.1V137.12H121.0zM121.0 141.87h9.1V143.46H121.0zM121.0 159.31h9.1V160.89H121.0zM121.0 186.25h9.1V187.83H121.0zM121.0 189.42h9.1V191.00H121.0zM121.0 202.10h9.1V203.68H121.0zM121.0 227.45h9.1V229.04H121.0zM121.0 290.84h9.1V294.01H121.0zM121.0 297.18h9.1V298.77H121.0zM121.0 319.37h9.1V320.96H121.0zM121.0 389.10h9.1V390.69H121.0zM121.0 398.61h9.1V403.36H121.0zM130.1 59.46h9.1V61.05H130.1zM130.1 75.31h9.1V76.90H130.1zM130.1 99.08h9.1V100.67H130.1zM130.1 111.76h9.1V113.35H130.1zM130.1 116.52h9.1V118.10H130.1zM130.1 186.25h9.1V187.83H130.1zM130.1 191.00h9.1V192.59H130.1zM130.1 238.55h9.1V240.13H130.1zM130.1 255.98h9.1V257.56H130.1zM130.1 301.94h9.1V303.52H130.1zM130.1 311.45h9.1V313.03H130.1zM130.1 319.37h9.1V320.96H130.1zM130.1 328.88h9.1V330.46H130.1zM130.1 332.05h9.1V333.63H130.1zM130.1 338.39h9.1V339.97H130.1zM130.1 360.58h9.1V362.16H130.1zM130.1 379.59h9.1V381.18H130.1zM130.1 385.93h9.1V387.52H130.1zM130.1 398.61h9.1V400.20H130.1zM157.4 130.78h9.1V132.36H157.4zM157.4 267.07h9.1V268.66H157.4zM157.4 414.46h9.1V416.04H157.4z"/>
<path fill="#ff0d0d" d="M48.2 48.37h9.1V49.95H48.2zM48.2 80.07h9.1V81.65H48.2zM48.2 110.18h9.1V113.35H48.2zM48.2 154.55h9.1V156.14H48.2zM48.2 184.66h9.1V186.25H48.2zM48.2 241.72h9.1V244.88H48.2zM48.2 275.00h9.1V276.58H48.2zM48.2 435.06h9.1V436.65H48.2zM57.3 268.66h9.1V270.24H57.3zM57.3 435.06h9.1V436.65H57.3zM84.6 64.22h9.1V65.80H84.6zM84.6 133.95h9.1V137.12H84.6zM84.6 202.10h9.1V203.68H84.6zM84.6 208.43h9.1V210.02H84.6zM84.6 238.55h9.1V240.13H84.6zM84.6 275.00h9.1V276.58H84.6zM84.6 295.60h9.1V297.18H84.6zM84.6 319.37h9.1V320.96H84.6zM84.6 382.76h9.1V384.35H84.6zM84.6 435.06h9.1V436.65H84.6zM93.7 53.12h9.1V54.71H93.7zM93.7 122.86h9.1V124.44H93.7zM93.7 132.36h9.1V133.95H93.7zM93.7 195.76h9.1V197.34H93.7zM93.7 273.41h9.1V275.00H93.7zM93.7 282.92h9.1V284.50H93.7zM93.7 301.94h9.1V303.52H93.7zM93.7 339.97h9.1V341.56H93.7zM93.7 354.24h9.1V355.82H93.7zM93.7 390.69h9.1V392.27H93.7zM93.7 435.06h9.1V436.65H93.7zM93.7 439.82h9.1V441.40H93.7zM121.0 73.73h9.1V75.31H121.0zM121.0 76.90h9.1V78.48H121.0zM121.0 143.46h9.1V145.04H121.0zM121.0 164.06h9.1V165.64H121.0zM121.0 211.60h9.1V213.19H121.0zM121.0 217.94h9.1V219.53H121.0zM121.0 267.07h9.1V268.66H121.0zM121.0 271.83h9.1V273.41H121.0zM121.0 338.39h9.1V339.97H121.0zM121.0 343.14h9.1V346.31H121.0zM121.0 368.50h9.1V370.08H121.0zM121.0 392.27h9.1V393.86H121.0zM121.0 423.97h9.1V425.55H121.0zM121.0 436.65h9.1V438.23H121.0zM130.1 57.88h9.1V59.46H130.1zM130.1 68.97h9.1V70.56H130.1zM130.1 100.67h9.1V102.25H130.1zM130.1 110.18h9.1V111.76H130.1zM130.1 121.27h9.1V122.86H130.1zM130.1 156.14h9.1V157.72H130.1zM130.1 167.23h9.1V168.81H130.1zM130.1 176.74h9.1V178.32H130.1zM130.1 221.11h9.1V222.70H130.1zM130.1 233.79h9.1V235.38H130.1zM130.1 251.22h9.1V252.81H130.1zM130.1 270.24h9.1V271.83H130.1zM130.1 351.07h9.1V352.65H130.1zM130.1 362.16h9.1V363.74H130.1zM130.1 366.91h9.1V368.50H130.1zM130.1 401.78h9.1V403.36H130.1zM130.1 419.21h9.1V420.80H130.1zM130.1 427.14h9.1V428.72H130.1zM157.4 49.95h9.1V51.54H157.4zM157.4 116.52h9.1V118.10H157.4zM157.4 306.69h9.1V308.28H157.4zM157.4 324.12h9.1V325.71H157.4zM157.4 427.14h9.1V428.72H157.4zM157.4 431.89h9.1V433.48H157.4z"/>
<path fill="#ff0000" d="M48.2 49.95h9.1V51.54H48.2zM48.2 73.73h9.1V75.31H48.2zM48.2 78.48h9.1V80.07H48.2zM48.2 114.93h9.1V116.52H48.2zM48.2 135.53h9.1V137.12H48.2zM48.2 168.81h9.1V170.40H48.2zM48.2 186.25h9.1V187.83H48.2zM48.2 202.10h9.1V205.26H48.2zM48.2 208.43h9.1V210.02H48.2zM48.2 211.60h9.1V213.19H48.2zM48.2 219.53h9.1V221.11H48.2zM48.2 233.79h9.1V235.38H48.2zM48.2 236.96h9.1V240.13H48.2zM48.2 251.22h9.1V252.81H48.2zM48.2 255.98h9.1V257.56H48.2zM48.2 265.49h9.1V267.07H48.2zM48.2 276.58h9.1V278.17H48.2zM48.2 300.35h9.1V301.94H48.2zM48.2 303.52h9.1V306.69H48.2zM48.2 308.28h9.1V309.86H48.2zM48.2 311.45h9.1V313.03H48.2zM48.2 319.37h9.1V322.54H48.2zM48.2 328.88h9.1V330.46H48.2zM48.2 332.05h9.1V333.63H48.2zM48.2 336.80h9.1V338.39H48.2zM48.2 343.14h9.1V347.90H48.2zM48.2 351.07h9.1V354.24H48.2zM48.2 362.16h9.1V365.33H48.2zM48.2 384.35h9.1V385.93H48.2zM48.2 392.27h9.1V395.44H48.2zM48.2 400.20h9.1V401.78H48.2zM48.2 403.36h9.1V404.95H48.2zM48.2 409.70h9.1V412.87H48.2zM48.2 414.46h9.1V416.04H48.2zM48.2 428.72h9.1V430.31H48.2zM48.2 431.89h9.1V433.48H48.2zM48.2 436.65h9.1V438.23H48.2zM84.6 49.95h9.1V51.54H84.6zM84.6 76.90h9.1V81.65H84.6zM84.6 103.84h9.1V105.42H84.6zM84.6 113.35h9.1V116.52H84.6zM84.6 118.10h9.1V119.69H84.6zM84.6 121.27h9.1V122.86H84.6zM84.6 164.06h9.1V165.64H84.6zM84.6 168.81h9.1V170.40H84.6zM84.6 206.85h9.1V208.43H84.6zM84.6 211.60h9.1V213.19H84.6zM84.6 230.62h9.1V232.21H84.6zM84.6 249.64h9.1V251.22H84.6zM84.6 265.49h9.1V267.07H84.6zM84.6 270.24h9.1V271.83H84.6zM84.6 303.52h9.1V305.11H84.6zM84.6 311.45h9.1V313.03H84.6zM84.6 317.79h9.1V319.37H84.6zM84.6 327.29h9.1V328.88H84.6zM84.6 343.14h9.1V346.31H84.6zM84.6 362.16h9.1V363.74H84.6zM84.6 379.59h9.1V381.18H84.6zM84.6 390.69h9.1V392.27H84.6zM84.6 393.86h9.1V395.44H84.6zM84.6 403.36h9.1V404.95H84.6zM84.6 411.29h9.1V412.87H84.6zM84.6 417.63h9.1V419.21H84.6zM84.6 420.80h9.1V422.38H84.6zM84.6 427.14h9.1V428.72H84.6zM93.7 45.20h9.1V48.37H93.7zM93.7 49.95h9.1V51.54H93.7zM93.7 54.71h9.1V56.29H93.7zM93.7 57.88h9.1V59.46H93.7zM93.7 62.63h9.1V64.22H93.7zM93.7 65.80h9.1V67.39H93.7zM93.7 70.56h9.1V72.14H93.7zM93.7 76.90h9.1V80.07H93.7zM93.7 81.65h9.1V83.24H93.7zM93.7 86.40h9.1V87.99H93.7zM93.7 97.50h9.1V102.25H93.7zM93.7 114.93h9.1V119.69H93.7zM93.7 121.27h9.1V122.86H93.7zM93.7 126.02h9.1V127.61H93.7zM93.7 135.53h9.1V137.12H93.7zM93.7 138.70h9.1V140.29H93.7zM93.7 143.46h9.1V145.04H93.7zM93.7 154.55h9.1V156.14H93.7zM93.7 157.72h9.1V159.31H93.7zM93.7 164.06h9.1V170.40H93.7zM93.7 176.74h9.1V179.91H93.7zM93.7 184.66h9.1V189.42H93.7zM93.7 202.10h9.1V205.26H93.7zM93.7 206.85h9.1V210.02H93.7zM93.7 211.60h9.1V213.19H93.7zM93.7 217.94h9.1V221.11H93.7zM93.7 225.87h9.1V229.04H93.7zM93.7 233.79h9.1V240.13H93.7zM93.7 243.30h9.1V244.88H93.7zM93.7 249.64h9.1V257.56H93.7zM93.7 265.49h9.1V267.07H93.7zM93.7 270.24h9.1V271.83H93.7zM93.7 276.58h9.1V278.17H93.7zM93.7 290.84h9.1V292.43H93.7zM93.7 300.35h9.1V301.94H93.7zM93.7 303.52h9.1V308.28H93.7zM93.7 311.45h9.1V313.03H93.7zM93.7 317.79h9.1V324.12H93.7zM93.7 328.88h9.1V330.46H93.7zM93.7 332.05h9.1V333.63H93.7zM93.7 338.39h9.1V339.97H93.7zM93.7 343.14h9.1V347.90H93.7zM93.7 349.48h9.1V354.24H93.7zM93.7 360.58h9.1V365.33H93.7zM93.7 366.91h9.1V371.67H93.7zM93.7 384.35h9.1V387.52H93.7zM93.7 389.10h9.1V390.69H93.7zM93.7 392.27h9.1V393.86H93.7zM93.7 401.78h9.1V406.53H93.7zM93.7 408.12h9.1V409.70H93.7zM93.7 414.46h9.1V416.04H93.7zM93.7 417.63h9.1V419.21H93.7zM93.7 420.80h9.1V422.38H93.7zM93.7 423.97h9.1V425.55H93.7zM93.7 427.14h9.1V430.31H93.7zM93.7 431.89h9.1V435.06H93.7zM93.7 436.65h9.1V438.23H93.7zM121.0 49.95h9.1V51.54H121.0zM121.0 53.12h9.1V54.71H121.0zM121.0 59.46h9.1V61.05H121.0zM121.0 62.63h9.1V65.80H121.0zM121.0 68.97h9.1V70.56H121.0zM121.0 78.48h9.1V80.07H121.0zM121.0 81.65h9.1V83.24H121.0zM121.0 86.40h9.1V87.99H121.0zM121.0 94.33h9.1V95.91H121.0zM121.0 99.08h9.1V100.67H121.0zM121.0 114.93h9.1V119.69H121.0zM121.0 121.27h9.1V122.86H121.0zM121.0 129.19h9.1V130.78H121.0zM121.0 154.55h9.1V157.72H121.0zM121.0 160.89h9.1V162.48H121.0zM121.0 165.64h9.1V170.40H121.0zM121.0 178.32h9.1V179.91H121.0zM121.0 184.66h9.1V186.25H121.0zM121.0 203.68h9.1V205.26H121.0zM121.0 206.85h9.1V208.43H121.0zM121.0 219.53h9.1V222.70H121.0zM121.0 225.87h9.1V227.45H121.0zM121.0 233.79h9.1V240.13H121.0zM121.0 243.30h9.1V244.88H121.0zM121.0 249.64h9.1V257.56H121.0zM121.0 265.49h9.1V267.07H121.0zM121.0 270.24h9.1V271.83H121.0zM121.0 273.41h9.1V275.00H121.0zM121.0 286.09h9.1V287.67H121.0zM121.0 300.35h9.1V301.94H121.0zM121.0 303.52h9.1V305.11H121.0zM121.0 306.69h9.1V308.28H121.0zM121.0 311.45h9.1V313.03H121.0zM121.0 317.79h9.1V319.37H121.0zM121.0 322.54h9.1V324.12H121.0zM121.0 325.71h9.1V330.46H121.0zM121.0 332.05h9.1V333.63H121.0zM121.0 341.56h9.1V343.14H121.0zM121.0 346.31h9.1V347.90H121.0zM121.0 351.07h9.1V354.24H121.0zM121.0 362.16h9.1V363.74H121.0zM121.0 370.08h9.1V371.67H121.0zM121.0 384.35h9.1V385.93H121.0zM121.0 393.86h9.1V395.44H121.0zM121.0 403.36h9.1V404.95H121.0zM121.0 414.46h9.1V417.63H121.0zM121.0 420.80h9.1V422.38H121.0zM121.0 428.72h9.1V435.06H121.0zM130.1 62.63h9.1V64.22H130.1zM130.1 70.56h9.1V72.14H130.1zM130.1 83.24h9.1V84.82H130.1zM130.1 86.40h9.1V87.99H130.1zM130.1 103.84h9.1V105.42H130.1zM130.1 114.93h9.1V116.52H130.1zM130.1 138.70h9.1V140.29H130.1zM130.1 154.55h9.1V156.14H130.1zM130.1 168.81h9.1V170.40H130.1zM130.1 175.15h9.1V176.74H130.1zM130.1 178.32h9.1V179.91H130.1zM130.1 184.66h9.1V186.25H130.1zM130.1 206.85h9.1V210.02H130.1zM130.1 217.94h9.1V219.53H130.1zM130.1 227.45h9.1V229.04H130.1zM130.1 243.30h9.1V244.88H130.1zM130.1 254.39h9.1V255.98H130.1zM130.1 275.00h9.1V276.58H130.1zM130.1 282.92h9.1V284.50H130.1zM130.1 300.35h9.1V301.94H130.1zM130.1 320.96h9.1V322.54H130.1zM130.1 336.80h9.1V338.39H130.1zM130.1 343.14h9.1V346.31H130.1zM130.1 349.48h9.1V351.07H130.1zM130.1 393.86h9.1V395.44H130.1zM130.1 404.95h9.1V406.53H130.1zM130.1 408.12h9.1V409.70H130.1zM130.1 420.80h9.1V422.38H130.1zM130.1 431.89h9.1V435.06H130.1zM130.1 436.65h9.1V438.23H130.1zM157.4 57.88h9.1V59.46H157.4zM157.4 73.73h9.1V75.31H157.4zM157.4 89.57h9.1V91.16H157.4zM157.4 119.69h9.1V121.27H157.4zM157.4 122.86h9.1V124.44H157.4zM157.4 126.02h9.1V127.61H157.4zM157.4 129.19h9.1V130.78H157.4zM157.4 154.55h9.1V156.14H157.4zM157.4 211.60h9.1V213.19H157.4zM157.4 216.36h9.1V217.94H157.4zM157.4 230.62h9.1V232.21H157.4zM157.4 260.73h9.1V262.32H157.4zM157.4 263.90h9.1V265.49H157.4zM157.4 336.80h9.1V338.39H157.4zM157.4 357.41h9.1V358.99H157.4zM157.4 370.08h9.1V371.67H157.4zM157.4 379.59h9.1V381.18H157.4zM157.4 403.36h9.1V404.95H157.4zM157.4 411.29h9.1V412.87H157.4zM157.4 425.55h9.1V427.14H157.4z"/>
</g>
<defs><linearGradient id="gb" x1="0" x2="1" y1="0" y2="0"><stop offset="0" stop-color="#0000ff"/><stop offset="0.5" stop-color="#ffffff"/><stop offset="1" stop-color="#ff0000"/></linearGradient></defs>
<rect x="71.2" y="448.8" width="85.3" height="4.9" fill="url(#gb)"/>
<text x="55.3" y="466.0" font-size="9" text-anchor="start" font-weight="normal" fill="#111" stroke="#111" stroke-width="0.25"  >row min</text>
<text x="139.6" y="466.0" font-size="9" text-anchor="start" font-weight="normal" fill="#111" stroke="#111" stroke-width="0.25"  >row max</text>
<text x="230.0" y="123.8" font-size="14" text-anchor="start" font-weight="bold" fill="#000"  >B</text>
<rect x="251.5" y="112.5" width="176.5" height="321.9" fill="none" stroke="#4d7fc4" stroke-width="1.15"/>
<line x1="251.5" y1="134.3" x2="428" y2="134.3" stroke="#4d7fc4" stroke-width="1.15"/>
<line x1="315.5" y1="112.4" x2="315.5" y2="434.4" stroke="#4d7fc4" stroke-width="1.1"/>
<text x="259.8" y="127.7" font-size="10.3" text-anchor="start" font-weight="normal" fill="#62a83e" stroke="#62a83e" stroke-width="0.25"   textLength="47.8" lengthAdjust="spacingAndGlyphs">SENSITIVE</text>
<text x="347.6" y="127.7" font-size="10.3" text-anchor="start" font-weight="normal" fill="#d98b1f" stroke="#d98b1f" stroke-width="0.25"   textLength="50.2" lengthAdjust="spacingAndGlyphs">RESISTANT</text>
<text x="258.79" y="160.2" font-size="6.3" fill="#111" stroke="#111" stroke-width="0.15" transform="rotate(-90 258.79 160.2)">FL26</text>
<text x="265.77" y="160.2" font-size="6.3" fill="#111" stroke="#111" stroke-width="0.15" transform="rotate(-90 265.77 160.2)">FL14</text>
<text x="272.75" y="160.2" font-size="6.3" fill="#111" stroke="#111" stroke-width="0.15" transform="rotate(-90 272.75 160.2)">FL19</text>
<text x="279.73" y="160.2" font-size="6.3" fill="#111" stroke="#111" stroke-width="0.15" transform="rotate(-90 279.73 160.2)">FL17</text>
<text x="286.71" y="160.2" font-size="6.3" fill="#111" stroke="#111" stroke-width="0.15" transform="rotate(-90 286.71 160.2)">FL23</text>
<text x="293.69" y="160.2" font-size="6.3" fill="#111" stroke="#111" stroke-width="0.15" transform="rotate(-90 293.69 160.2)">FL34</text>
<text x="300.67" y="160.2" font-size="6.3" fill="#111" stroke="#111" stroke-width="0.15" transform="rotate(-90 300.67 160.2)">FL28</text>
<text x="307.65" y="160.2" font-size="6.3" fill="#111" stroke="#111" stroke-width="0.15" transform="rotate(-90 307.65 160.2)">FL27</text>
<text x="314.63" y="160.2" font-size="6.3" fill="#111" stroke="#111" stroke-width="0.15" transform="rotate(-90 314.63 160.2)">FL31</text>
<text x="321.61" y="160.2" font-size="6.3" fill="#111" stroke="#111" stroke-width="0.15" transform="rotate(-90 321.61 160.2)">FL13</text>
<text x="328.59" y="160.2" font-size="6.3" fill="#111" stroke="#111" stroke-width="0.15" transform="rotate(-90 328.59 160.2)">FL29</text>
<text x="335.57" y="160.2" font-size="6.3" fill="#111" stroke="#111" stroke-width="0.15" transform="rotate(-90 335.57 160.2)">FL7</text>
<text x="342.55" y="160.2" font-size="6.3" fill="#111" stroke="#111" stroke-width="0.15" transform="rotate(-90 342.55 160.2)">FL33</text>
<text x="349.53" y="160.2" font-size="6.3" fill="#111" stroke="#111" stroke-width="0.15" transform="rotate(-90 349.53 160.2)">FL30</text>
<text x="356.51" y="160.2" font-size="6.3" fill="#111" stroke="#111" stroke-width="0.15" transform="rotate(-90 356.51 160.2)">FL12</text>
<text x="363.49" y="160.2" font-size="6.3" fill="#111" stroke="#111" stroke-width="0.15" transform="rotate(-90 363.49 160.2)">FL25</text>
<text x="370.47" y="160.2" font-size="6.3" fill="#111" stroke="#111" stroke-width="0.15" transform="rotate(-90 370.47 160.2)">FL8</text>
<text x="377.45" y="160.2" font-size="6.3" fill="#111" stroke="#111" stroke-width="0.15" transform="rotate(-90 377.45 160.2)">FL6</text>
<text x="384.43" y="160.2" font-size="6.3" fill="#111" stroke="#111" stroke-width="0.15" transform="rotate(-90 384.43 160.2)">FL10</text>
<text x="391.41" y="160.2" font-size="6.3" fill="#111" stroke="#111" stroke-width="0.15" transform="rotate(-90 391.41 160.2)">FL9</text>
<text x="398.39" y="160.2" font-size="6.3" fill="#111" stroke="#111" stroke-width="0.15" transform="rotate(-90 398.39 160.2)">FL20</text>
<text x="405.37" y="160.2" font-size="6.3" fill="#111" stroke="#111" stroke-width="0.15" transform="rotate(-90 405.37 160.2)">FL16</text>
<text x="412.35" y="160.2" font-size="6.3" fill="#111" stroke="#111" stroke-width="0.15" transform="rotate(-90 412.35 160.2)">FL22</text>
<text x="419.33" y="160.2" font-size="6.3" fill="#111" stroke="#111" stroke-width="0.15" transform="rotate(-90 419.33 160.2)">FL32</text>
<text x="426.31" y="160.2" font-size="6.3" fill="#111" stroke="#111" stroke-width="0.15" transform="rotate(-90 426.31 160.2)">FL21</text>
<rect x="253.10" y="163.10" width="6.35" height="6.30" fill="#0000ff"/>
<rect x="260.08" y="163.10" width="6.35" height="6.30" fill="#ccccff"/>
<rect x="267.06" y="163.10" width="6.35" height="6.30" fill="#0000ff"/>
<rect x="274.04" y="163.10" width="6.35" height="6.30" fill="#4040ff"/>
<rect x="281.02" y="163.10" width="6.35" height="6.30" fill="#b2b2ff"/>
<rect x="288.00" y="163.10" width="6.35" height="6.30" fill="#8080ff"/>
<rect x="294.98" y="163.10" width="6.35" height="6.30" fill="#f2f2ff"/>
<rect x="301.96" y="163.10" width="6.35" height="6.30" fill="#ff9999"/>
<rect x="308.94" y="163.10" width="6.35" height="6.30" fill="#ff8080"/>
<rect x="315.92" y="163.10" width="6.35" height="6.30" fill="#ff4040"/>
<rect x="322.90" y="163.10" width="6.35" height="6.30" fill="#ffb2b2"/>
<rect x="329.88" y="163.10" width="6.35" height="6.30" fill="#ffcccc"/>
<rect x="336.86" y="163.10" width="6.35" height="6.30" fill="#b2b2ff"/>
<rect x="343.84" y="163.10" width="6.35" height="6.30" fill="#ff8080"/>
<rect x="350.82" y="163.10" width="6.35" height="6.30" fill="#ff7373"/>
<rect x="357.80" y="163.10" width="6.35" height="6.30" fill="#ff8080"/>
<rect x="364.78" y="163.10" width="6.35" height="6.30" fill="#f2f2ff"/>
<rect x="371.76" y="163.10" width="6.35" height="6.30" fill="#ffd9d9"/>
<rect x="378.74" y="163.10" width="6.35" height="6.30" fill="#ffcccc"/>
<rect x="385.72" y="163.10" width="6.35" height="6.30" fill="#ff0000"/>
<rect x="392.70" y="163.10" width="6.35" height="6.30" fill="#ff4040"/>
<rect x="399.68" y="163.10" width="6.35" height="6.30" fill="#ff0d0d"/>
<rect x="406.66" y="163.10" width="6.35" height="6.30" fill="#ff0000"/>
<rect x="413.64" y="163.10" width="6.35" height="6.30" fill="#ffd9d9"/>
<rect x="420.62" y="163.10" width="6.35" height="6.30" fill="#ff0000"/>
<rect x="253.10" y="170.05" width="6.35" height="6.30" fill="#3333ff"/>
<rect x="260.08" y="170.05" width="6.35" height="6.30" fill="#e6e6ff"/>
<rect x="267.06" y="170.05" width="6.35" height="6.30" fill="#0d0dff"/>
<rect x="274.04" y="170.05" width="6.35" height="6.30" fill="#9999ff"/>
<rect x="281.02" y="170.05" width="6.35" height="6.30" fill="#8080ff"/>
<rect x="288.00" y="170.05" width="6.35" height="6.30" fill="#e6e6ff"/>
<rect x="294.98" y="170.05" width="6.35" height="6.30" fill="#8080ff"/>
<rect x="301.96" y="170.05" width="6.35" height="6.30" fill="#ffffff"/>
<rect x="308.94" y="170.05" width="6.35" height="6.30" fill="#bfbfff"/>
<rect x="315.92" y="170.05" width="6.35" height="6.30" fill="#a6a6ff"/>
<rect x="322.90" y="170.05" width="6.35" height="6.30" fill="#ffe6e6"/>
<rect x="329.88" y="170.05" width="6.35" height="6.30" fill="#f2f2ff"/>
<rect x="336.86" y="170.05" width="6.35" height="6.30" fill="#b2b2ff"/>
<rect x="343.84" y="170.05" width="6.35" height="6.30" fill="#d9d9ff"/>
<rect x="350.82" y="170.05" width="6.35" height="6.30" fill="#ccccff"/>
<rect x="357.80" y="170.05" width="6.35" height="6.30" fill="#ccccff"/>
<rect x="364.78" y="170.05" width="6.35" height="6.30" fill="#ffe6e6"/>
<rect x="371.76" y="170.05" width="6.35" height="6.30" fill="#ff8c8c"/>
<rect x="378.74" y="170.05" width="6.35" height="6.30" fill="#ff9999"/>
<rect x="385.72" y="170.05" width="6.35" height="6.30" fill="#ffb2b2"/>
<rect x="392.70" y="170.05" width="6.35" height="6.30" fill="#f2f2ff"/>
<rect x="399.68" y="170.05" width="6.35" height="6.30" fill="#a6a6ff"/>
<rect x="406.66" y="170.05" width="6.35" height="6.30" fill="#ff3333"/>
<rect x="413.64" y="170.05" width="6.35" height="6.30" fill="#ff4d4d"/>
<rect x="420.62" y="170.05" width="6.35" height="6.30" fill="#ffffff"/>
<rect x="253.10" y="177.00" width="6.35" height="6.30" fill="#0000ff"/>
<rect x="260.08" y="177.00" width="6.35" height="6.30" fill="#8c8cff"/>
<rect x="267.06" y="177.00" width="6.35" height="6.30" fill="#0000ff"/>
<rect x="274.04" y="177.00" width="6.35" height="6.30" fill="#4d4dff"/>
<rect x="281.02" y="177.00" width="6.35" height="6.30" fill="#8c8cff"/>
<rect x="288.00" y="177.00" width="6.35" height="6.30" fill="#f2f2ff"/>
<rect x="294.98" y="177.00" width="6.35" height="6.30" fill="#8c8cff"/>
<rect x="301.96" y="177.00" width="6.35" height="6.30" fill="#ccccff"/>
<rect x="308.94" y="177.00" width="6.35" height="6.30" fill="#b2b2ff"/>
<rect x="315.92" y="177.00" width="6.35" height="6.30" fill="#f2f2ff"/>
<rect x="322.90" y="177.00" width="6.35" height="6.30" fill="#d9d9ff"/>
<rect x="329.88" y="177.00" width="6.35" height="6.30" fill="#ffe6e6"/>
<rect x="336.86" y="177.00" width="6.35" height="6.30" fill="#9999ff"/>
<rect x="343.84" y="177.00" width="6.35" height="6.30" fill="#b2b2ff"/>
<rect x="350.82" y="177.00" width="6.35" height="6.30" fill="#ccccff"/>
<rect x="357.80" y="177.00" width="6.35" height="6.30" fill="#ffffff"/>
<rect x="364.78" y="177.00" width="6.35" height="6.30" fill="#d9d9ff"/>
<rect x="371.76" y="177.00" width="6.35" height="6.30" fill="#ffb2b2"/>
<rect x="378.74" y="177.00" width="6.35" height="6.30" fill="#ffb2b2"/>
<rect x="385.72" y="177.00" width="6.35" height="6.30" fill="#ff8c8c"/>
<rect x="392.70" y="177.00" width="6.35" height="6.30" fill="#ff9999"/>
<rect x="399.68" y="177.00" width="6.35" height="6.30" fill="#ffa6a6"/>
<rect x="406.66" y="177.00" width="6.35" height="6.30" fill="#ff4d4d"/>
<rect x="413.64" y="177.00" width="6.35" height="6.30" fill="#ff4040"/>
<rect x="420.62" y="177.00" width="6.35" height="6.30" fill="#ff6666"/>
<rect x="253.10" y="183.95" width="6.35" height="6.30" fill="#0000ff"/>
<rect x="260.08" y="183.95" width="6.35" height="6.30" fill="#bfbfff"/>
<rect x="267.06" y="183.95" width="6.35" height="6.30" fill="#2626ff"/>
<rect x="274.04" y="183.95" width="6.35" height="6.30" fill="#7373ff"/>
<rect x="281.02" y="183.95" width="6.35" height="6.30" fill="#e6e6ff"/>
<rect x="288.00" y="183.95" width="6.35" height="6.30" fill="#a6a6ff"/>
<rect x="294.98" y="183.95" width="6.35" height="6.30" fill="#d9d9ff"/>
<rect x="301.96" y="183.95" width="6.35" height="6.30" fill="#ffffff"/>
<rect x="308.94" y="183.95" width="6.35" height="6.30" fill="#f2f2ff"/>
<rect x="315.92" y="183.95" width="6.35" height="6.30" fill="#fff2f2"/>
<rect x="322.90" y="183.95" width="6.35" height="6.30" fill="#ffb2b2"/>
<rect x="329.88" y="183.95" width="6.35" height="6.30" fill="#fff2f2"/>
<rect x="336.86" y="183.95" width="6.35" height="6.30" fill="#e6e6ff"/>
<rect x="343.84" y="183.95" width="6.35" height="6.30" fill="#ccccff"/>
<rect x="350.82" y="183.95" width="6.35" height="6.30" fill="#f2f2ff"/>
<rect x="357.80" y="183.95" width="6.35" height="6.30" fill="#ffd9d9"/>
<rect x="364.78" y="183.95" width="6.35" height="6.30" fill="#ffffff"/>
<rect x="371.76" y="183.95" width="6.35" height="6.30" fill="#ffa6a6"/>
<rect x="378.74" y="183.95" width="6.35" height="6.30" fill="#ffcccc"/>
<rect x="385.72" y="183.95" width="6.35" height="6.30" fill="#ffb2b2"/>
<rect x="392.70" y="183.95" width="6.35" height="6.30" fill="#ffb2b2"/>
<rect x="399.68" y="183.95" width="6.35" height="6.30" fill="#ff9999"/>
<rect x="406.66" y="183.95" width="6.35" height="6.30" fill="#ff3333"/>
<rect x="413.64" y="183.95" width="6.35" height="6.30" fill="#ff8c8c"/>
<rect x="420.62" y="183.95" width="6.35" height="6.30" fill="#ff6666"/>
<rect x="253.10" y="190.90" width="6.35" height="6.30" fill="#0000ff"/>
<rect x="260.08" y="190.90" width="6.35" height="6.30" fill="#5959ff"/>
<rect x="267.06" y="190.90" width="6.35" height="6.30" fill="#0d0dff"/>
<rect x="274.04" y="190.90" width="6.35" height="6.30" fill="#6666ff"/>
<rect x="281.02" y="190.90" width="6.35" height="6.30" fill="#5959ff"/>
<rect x="288.00" y="190.90" width="6.35" height="6.30" fill="#e6e6ff"/>
<rect x="294.98" y="190.90" width="6.35" height="6.30" fill="#8080ff"/>
<rect x="301.96" y="190.90" width="6.35" height="6.30" fill="#9999ff"/>
<rect x="308.94" y="190.90" width="6.35" height="6.30" fill="#d9d9ff"/>
<rect x="315.92" y="190.90" width="6.35" height="6.30" fill="#e6e6ff"/>
<rect x="322.90" y="190.90" width="6.35" height="6.30" fill="#ff9999"/>
<rect x="329.88" y="190.90" width="6.35" height="6.30" fill="#ffbfbf"/>
<rect x="336.86" y="190.90" width="6.35" height="6.30" fill="#b2b2ff"/>
<rect x="343.84" y="190.90" width="6.35" height="6.30" fill="#ffd9d9"/>
<rect x="350.82" y="190.90" width="6.35" height="6.30" fill="#ffcccc"/>
<rect x="357.80" y="190.90" width="6.35" height="6.30" fill="#ffd9d9"/>
<rect x="364.78" y="190.90" width="6.35" height="6.30" fill="#ffb2b2"/>
<rect x="371.76" y="190.90" width="6.35" height="6.30" fill="#ffa6a6"/>
<rect x="378.74" y="190.90" width="6.35" height="6.30" fill="#ff9999"/>
<rect x="385.72" y="190.90" width="6.35" height="6.30" fill="#ff8c8c"/>
<rect x="392.70" y="190.90" width="6.35" height="6.30" fill="#ff5959"/>
<rect x="399.68" y="190.90" width="6.35" height="6.30" fill="#ff8c8c"/>
<rect x="406.66" y="190.90" width="6.35" height="6.30" fill="#ff6666"/>
<rect x="413.64" y="190.90" width="6.35" height="6.30" fill="#ff6666"/>
<rect x="420.62" y="190.90" width="6.35" height="6.30" fill="#ff0000"/>
<rect x="253.10" y="197.85" width="6.35" height="6.30" fill="#0000ff"/>
<rect x="260.08" y="197.85" width="6.35" height="6.30" fill="#ccccff"/>
<rect x="267.06" y="197.85" width="6.35" height="6.30" fill="#7373ff"/>
<rect x="274.04" y="197.85" width="6.35" height="6.30" fill="#a6a6ff"/>
<rect x="281.02" y="197.85" width="6.35" height="6.30" fill="#a6a6ff"/>
<rect x="288.00" y="197.85" width="6.35" height="6.30" fill="#9999ff"/>
<rect x="294.98" y="197.85" width="6.35" height="6.30" fill="#8080ff"/>
<rect x="301.96" y="197.85" width="6.35" height="6.30" fill="#b2b2ff"/>
<rect x="308.94" y="197.85" width="6.35" height="6.30" fill="#d9d9ff"/>
<rect x="315.92" y="197.85" width="6.35" height="6.30" fill="#ccccff"/>
<rect x="322.90" y="197.85" width="6.35" height="6.30" fill="#8080ff"/>
<rect x="329.88" y="197.85" width="6.35" height="6.30" fill="#f2f2ff"/>
<rect x="336.86" y="197.85" width="6.35" height="6.30" fill="#f2f2ff"/>
<rect x="343.84" y="197.85" width="6.35" height="6.30" fill="#e6e6ff"/>
<rect x="350.82" y="197.85" width="6.35" height="6.30" fill="#ffd9d9"/>
<rect x="357.80" y="197.85" width="6.35" height="6.30" fill="#f2f2ff"/>
<rect x="364.78" y="197.85" width="6.35" height="6.30" fill="#ffffff"/>
<rect x="371.76" y="197.85" width="6.35" height="6.30" fill="#ff8080"/>
<rect x="378.74" y="197.85" width="6.35" height="6.30" fill="#ffb2b2"/>
<rect x="385.72" y="197.85" width="6.35" height="6.30" fill="#ffe6e6"/>
<rect x="392.70" y="197.85" width="6.35" height="6.30" fill="#fff2f2"/>
<rect x="399.68" y="197.85" width="6.35" height="6.30" fill="#b2b2ff"/>
<rect x="406.66" y="197.85" width="6.35" height="6.30" fill="#8c8cff"/>
<rect x="413.64" y="197.85" width="6.35" height="6.30" fill="#ff6666"/>
<rect x="420.62" y="197.85" width="6.35" height="6.30" fill="#ff8080"/>
<rect x="253.10" y="204.80" width="6.35" height="6.30" fill="#0000ff"/>
<rect x="260.08" y="204.80" width="6.35" height="6.30" fill="#8080ff"/>
<rect x="267.06" y="204.80" width="6.35" height="6.30" fill="#3333ff"/>
<rect x="274.04" y="204.80" width="6.35" height="6.30" fill="#8c8cff"/>
<rect x="281.02" y="204.80" width="6.35" height="6.30" fill="#ffffff"/>
<rect x="288.00" y="204.80" width="6.35" height="6.30" fill="#9999ff"/>
<rect x="294.98" y="204.80" width="6.35" height="6.30" fill="#f2f2ff"/>
<rect x="301.96" y="204.80" width="6.35" height="6.30" fill="#b2b2ff"/>
<rect x="308.94" y="204.80" width="6.35" height="6.30" fill="#e6e6ff"/>
<rect x="315.92" y="204.80" width="6.35" height="6.30" fill="#ffb2b2"/>
<rect x="322.90" y="204.80" width="6.35" height="6.30" fill="#ffcccc"/>
<rect x="329.88" y="204.80" width="6.35" height="6.30" fill="#ff6666"/>
<rect x="336.86" y="204.80" width="6.35" height="6.30" fill="#f2f2ff"/>
<rect x="343.84" y="204.80" width="6.35" height="6.30" fill="#ffcccc"/>
<rect x="350.82" y="204.80" width="6.35" height="6.30" fill="#ffa6a6"/>
<rect x="357.80" y="204.80" width="6.35" height="6.30" fill="#ffa6a6"/>
<rect x="364.78" y="204.80" width="6.35" height="6.30" fill="#fff2f2"/>
<rect x="371.76" y="204.80" width="6.35" height="6.30" fill="#ff9999"/>
<rect x="378.74" y="204.80" width="6.35" height="6.30" fill="#ff9999"/>
<rect x="385.72" y="204.80" width="6.35" height="6.30" fill="#ff4040"/>
<rect x="392.70" y="204.80" width="6.35" height="6.30" fill="#ff8080"/>
<rect x="399.68" y="204.80" width="6.35" height="6.30" fill="#ffffff"/>
<rect x="406.66" y="204.80" width="6.35" height="6.30" fill="#ff8080"/>
<rect x="413.64" y="204.80" width="6.35" height="6.30" fill="#ff4040"/>
<rect x="420.62" y="204.80" width="6.35" height="6.30" fill="#ff8080"/>
<rect x="253.10" y="211.75" width="6.35" height="6.30" fill="#0000ff"/>
<rect x="260.08" y="211.75" width="6.35" height="6.30" fill="#8080ff"/>
<rect x="267.06" y="211.75" width="6.35" height="6.30" fill="#0000ff"/>
<rect x="274.04" y="211.75" width="6.35" height="6.30" fill="#3333ff"/>
<rect x="281.02" y="211.75" width="6.35" height="6.30" fill="#8080ff"/>
<rect x="288.00" y="211.75" width="6.35" height="6.30" fill="#ffffff"/>
<rect x="294.98" y="211.75" width="6.35" height="6.30" fill="#d9d9ff"/>
<rect x="301.96" y="211.75" width="6.35" height="6.30" fill="#e6e6ff"/>
<rect x="308.94" y="211.75" width="6.35" height="6.30" fill="#ffd9d9"/>
<rect x="315.92" y="211.75" width="6.35" height="6.30" fill="#ff8c8c"/>
<rect x="322.90" y="211.75" width="6.35" height="6.30" fill="#ffb2b2"/>
<rect x="329.88" y="211.75" width="6.35" height="6.30" fill="#ffe6e6"/>
<rect x="336.86" y="211.75" width="6.35" height="6.30" fill="#d9d9ff"/>
<rect x="343.84" y="211.75" width="6.35" height="6.30" fill="#ffb2b2"/>
<rect x="350.82" y="211.75" width="6.35" height="6.30" fill="#ffd9d9"/>
<rect x="357.80" y="211.75" width="6.35" height="6.30" fill="#ff9999"/>
<rect x="364.78" y="211.75" width="6.35" height="6.30" fill="#e6e6ff"/>
<rect x="371.76" y="211.75" width="6.35" height="6.30" fill="#ff9999"/>
<rect x="378.74" y="211.75" width="6.35" height="6.30" fill="#f7f7ff"/>
<rect x="385.72" y="211.75" width="6.35" height="6.30" fill="#ff2626"/>
<rect x="392.70" y="211.75" width="6.35" height="6.30" fill="#ff4d4d"/>
<rect x="399.68" y="211.75" width="6.35" height="6.30" fill="#ff2626"/>
<rect x="406.66" y="211.75" width="6.35" height="6.30" fill="#ff4040"/>
<rect x="413.64" y="211.75" width="6.35" height="6.30" fill="#ffffff"/>
<rect x="420.62" y="211.75" width="6.35" height="6.30" fill="#ff0000"/>
<rect x="253.10" y="218.70" width="6.35" height="6.30" fill="#0000ff"/>
<rect x="260.08" y="218.70" width="6.35" height="6.30" fill="#8c8cff"/>
<rect x="267.06" y="218.70" width="6.35" height="6.30" fill="#0000ff"/>
<rect x="274.04" y="218.70" width="6.35" height="6.30" fill="#2626ff"/>
<rect x="281.02" y="218.70" width="6.35" height="6.30" fill="#7373ff"/>
<rect x="288.00" y="218.70" width="6.35" height="6.30" fill="#d9d9ff"/>
<rect x="294.98" y="218.70" width="6.35" height="6.30" fill="#1919ff"/>
<rect x="301.96" y="218.70" width="6.35" height="6.30" fill="#bfbfff"/>
<rect x="308.94" y="218.70" width="6.35" height="6.30" fill="#e6e6ff"/>
<rect x="315.92" y="218.70" width="6.35" height="6.30" fill="#ffcccc"/>
<rect x="322.90" y="218.70" width="6.35" height="6.30" fill="#a6a6ff"/>
<rect x="329.88" y="218.70" width="6.35" height="6.30" fill="#5959ff"/>
<rect x="336.86" y="218.70" width="6.35" height="6.30" fill="#ccccff"/>
<rect x="343.84" y="218.70" width="6.35" height="6.30" fill="#fff2f2"/>
<rect x="350.82" y="218.70" width="6.35" height="6.30" fill="#6666ff"/>
<rect x="357.80" y="218.70" width="6.35" height="6.30" fill="#b2b2ff"/>
<rect x="364.78" y="218.70" width="6.35" height="6.30" fill="#ffcccc"/>
<rect x="371.76" y="218.70" width="6.35" height="6.30" fill="#f2f2ff"/>
<rect x="378.74" y="218.70" width="6.35" height="6.30" fill="#d9d9ff"/>
<rect x="385.72" y="218.70" width="6.35" height="6.30" fill="#e6e6ff"/>
<rect x="392.70" y="218.70" width="6.35" height="6.30" fill="#ff8c8c"/>
<rect x="399.68" y="218.70" width="6.35" height="6.30" fill="#ff9999"/>
<rect x="406.66" y="218.70" width="6.35" height="6.30" fill="#ff4d4d"/>
<rect x="413.64" y="218.70" width="6.35" height="6.30" fill="#ffa6a6"/>
<rect x="420.62" y="218.70" width="6.35" height="6.30" fill="#ff3333"/>
<rect x="253.10" y="225.65" width="6.35" height="6.30" fill="#1919ff"/>
<rect x="260.08" y="225.65" width="6.35" height="6.30" fill="#b2b2ff"/>
<rect x="267.06" y="225.65" width="6.35" height="6.30" fill="#6666ff"/>
<rect x="274.04" y="225.65" width="6.35" height="6.30" fill="#9999ff"/>
<rect x="281.02" y="225.65" width="6.35" height="6.30" fill="#b2b2ff"/>
<rect x="288.00" y="225.65" width="6.35" height="6.30" fill="#e6e6ff"/>
<rect x="294.98" y="225.65" width="6.35" height="6.30" fill="#ffffff"/>
<rect x="301.96" y="225.65" width="6.35" height="6.30" fill="#ffd9d9"/>
<rect x="308.94" y="225.65" width="6.35" height="6.30" fill="#ccccff"/>
<rect x="315.92" y="225.65" width="6.35" height="6.30" fill="#ffcccc"/>
<rect x="322.90" y="225.65" width="6.35" height="6.30" fill="#ffd9d9"/>
<rect x="329.88" y="225.65" width="6.35" height="6.30" fill="#ff8080"/>
<rect x="336.86" y="225.65" width="6.35" height="6.30" fill="#ccccff"/>
<rect x="343.84" y="225.65" width="6.35" height="6.30" fill="#ffb2b2"/>
<rect x="350.82" y="225.65" width="6.35" height="6.30" fill="#fff2f2"/>
<rect x="357.80" y="225.65" width="6.35" height="6.30" fill="#ffb2b2"/>
<rect x="364.78" y="225.65" width="6.35" height="6.30" fill="#ffbfbf"/>
<rect x="371.76" y="225.65" width="6.35" height="6.30" fill="#ffb2b2"/>
<rect x="378.74" y="225.65" width="6.35" height="6.30" fill="#ffb2b2"/>
<rect x="385.72" y="225.65" width="6.35" height="6.30" fill="#ff6666"/>
<rect x="392.70" y="225.65" width="6.35" height="6.30" fill="#ffb2b2"/>
<rect x="399.68" y="225.65" width="6.35" height="6.30" fill="#ffa6a6"/>
<rect x="406.66" y="225.65" width="6.35" height="6.30" fill="#ff4040"/>
<rect x="413.64" y="225.65" width="6.35" height="6.30" fill="#ff7373"/>
<rect x="420.62" y="225.65" width="6.35" height="6.30" fill="#ff8c8c"/>
<rect x="253.10" y="232.60" width="6.35" height="6.30" fill="#0000ff"/>
<rect x="260.08" y="232.60" width="6.35" height="6.30" fill="#0000ff"/>
<rect x="267.06" y="232.60" width="6.35" height="6.30" fill="#0000ff"/>
<rect x="274.04" y="232.60" width="6.35" height="6.30" fill="#0000ff"/>
<rect x="281.02" y="232.60" width="6.35" height="6.30" fill="#4040ff"/>
<rect x="288.00" y="232.60" width="6.35" height="6.30" fill="#6666ff"/>
<rect x="294.98" y="232.60" width="6.35" height="6.30" fill="#ffe6e6"/>
<rect x="301.96" y="232.60" width="6.35" height="6.30" fill="#fff2f2"/>
<rect x="308.94" y="232.60" width="6.35" height="6.30" fill="#ffcccc"/>
<rect x="315.92" y="232.60" width="6.35" height="6.30" fill="#a6a6ff"/>
<rect x="322.90" y="232.60" width="6.35" height="6.30" fill="#3333ff"/>
<rect x="329.88" y="232.60" width="6.35" height="6.30" fill="#a6a6ff"/>
<rect x="336.86" y="232.60" width="6.35" height="6.30" fill="#ffebeb"/>
<rect x="343.84" y="232.60" width="6.35" height="6.30" fill="#ffffff"/>
<rect x="350.82" y="232.60" width="6.35" height="6.30" fill="#ff6666"/>
<rect x="357.80" y="232.60" width="6.35" height="6.30" fill="#ff7373"/>
<rect x="364.78" y="232.60" width="6.35" height="6.30" fill="#fff2f2"/>
<rect x="371.76" y="232.60" width="6.35" height="6.30" fill="#ffcccc"/>
<rect x="378.74" y="232.60" width="6.35" height="6.30" fill="#ffbfbf"/>
<rect x="385.72" y="232.60" width="6.35" height="6.30" fill="#b2b2ff"/>
<rect x="392.70" y="232.60" width="6.35" height="6.30" fill="#d9d9ff"/>
<rect x="399.68" y="232.60" width="6.35" height="6.30" fill="#ff4d4d"/>
<rect x="406.66" y="232.60" width="6.35" height="6.30" fill="#ff4040"/>
<rect x="413.64" y="232.60" width="6.35" height="6.30" fill="#ff8c8c"/>
<rect x="420.62" y="232.60" width="6.35" height="6.30" fill="#ff0000"/>
<rect x="253.10" y="239.55" width="6.35" height="6.30" fill="#1919ff"/>
<rect x="260.08" y="239.55" width="6.35" height="6.30" fill="#a6a6ff"/>
<rect x="267.06" y="239.55" width="6.35" height="6.30" fill="#4d4dff"/>
<rect x="274.04" y="239.55" width="6.35" height="6.30" fill="#9999ff"/>
<rect x="281.02" y="239.55" width="6.35" height="6.30" fill="#8080ff"/>
<rect x="288.00" y="239.55" width="6.35" height="6.30" fill="#7373ff"/>
<rect x="294.98" y="239.55" width="6.35" height="6.30" fill="#7373ff"/>
<rect x="301.96" y="239.55" width="6.35" height="6.30" fill="#ffffff"/>
<rect x="308.94" y="239.55" width="6.35" height="6.30" fill="#ccccff"/>
<rect x="315.92" y="239.55" width="6.35" height="6.30" fill="#ff8c8c"/>
<rect x="322.90" y="239.55" width="6.35" height="6.30" fill="#ff9999"/>
<rect x="329.88" y="239.55" width="6.35" height="6.30" fill="#ffcccc"/>
<rect x="336.86" y="239.55" width="6.35" height="6.30" fill="#ebebff"/>
<rect x="343.84" y="239.55" width="6.35" height="6.30" fill="#fff2f2"/>
<rect x="350.82" y="239.55" width="6.35" height="6.30" fill="#ffe6e6"/>
<rect x="357.80" y="239.55" width="6.35" height="6.30" fill="#ffb2b2"/>
<rect x="364.78" y="239.55" width="6.35" height="6.30" fill="#ffe6e6"/>
<rect x="371.76" y="239.55" width="6.35" height="6.30" fill="#ff9999"/>
<rect x="378.74" y="239.55" width="6.35" height="6.30" fill="#ffb2b2"/>
<rect x="385.72" y="239.55" width="6.35" height="6.30" fill="#ff7373"/>
<rect x="392.70" y="239.55" width="6.35" height="6.30" fill="#ff5959"/>
<rect x="399.68" y="239.55" width="6.35" height="6.30" fill="#ff7373"/>
<rect x="406.66" y="239.55" width="6.35" height="6.30" fill="#ff2626"/>
<rect x="413.64" y="239.55" width="6.35" height="6.30" fill="#ff9999"/>
<rect x="420.62" y="239.55" width="6.35" height="6.30" fill="#ff0d0d"/>
<rect x="253.10" y="246.50" width="6.35" height="6.30" fill="#0000ff"/>
<rect x="260.08" y="246.50" width="6.35" height="6.30" fill="#bfbfff"/>
<rect x="267.06" y="246.50" width="6.35" height="6.30" fill="#0d0dff"/>
<rect x="274.04" y="246.50" width="6.35" height="6.30" fill="#9999ff"/>
<rect x="281.02" y="246.50" width="6.35" height="6.30" fill="#4040ff"/>
<rect x="288.00" y="246.50" width="6.35" height="6.30" fill="#b2b2ff"/>
<rect x="294.98" y="246.50" width="6.35" height="6.30" fill="#ccccff"/>
<rect x="301.96" y="246.50" width="6.35" height="6.30" fill="#8080ff"/>
<rect x="308.94" y="246.50" width="6.35" height="6.30" fill="#d9d9ff"/>
<rect x="315.92" y="246.50" width="6.35" height="6.30" fill="#f2f2ff"/>
<rect x="322.90" y="246.50" width="6.35" height="6.30" fill="#ffebeb"/>
<rect x="329.88" y="246.50" width="6.35" height="6.30" fill="#ffd9d9"/>
<rect x="336.86" y="246.50" width="6.35" height="6.30" fill="#d9d9ff"/>
<rect x="343.84" y="246.50" width="6.35" height="6.30" fill="#fff2f2"/>
<rect x="350.82" y="246.50" width="6.35" height="6.30" fill="#d9d9ff"/>
<rect x="357.80" y="246.50" width="6.35" height="6.30" fill="#ffcccc"/>
<rect x="364.78" y="246.50" width="6.35" height="6.30" fill="#ffb2b2"/>
<rect x="371.76" y="246.50" width="6.35" height="6.30" fill="#ff9999"/>
<rect x="378.74" y="246.50" width="6.35" height="6.30" fill="#ffa6a6"/>
<rect x="385.72" y="246.50" width="6.35" height="6.30" fill="#ffb2b2"/>
<rect x="392.70" y="246.50" width="6.35" height="6.30" fill="#ffa6a6"/>
<rect x="399.68" y="246.50" width="6.35" height="6.30" fill="#ff9999"/>
<rect x="406.66" y="246.50" width="6.35" height="6.30" fill="#ff5959"/>
<rect x="413.64" y="246.50" width="6.35" height="6.30" fill="#ff9999"/>
<rect x="420.62" y="246.50" width="6.35" height="6.30" fill="#ff8080"/>
<rect x="253.10" y="253.45" width="6.35" height="6.30" fill="#0000ff"/>
<rect x="260.08" y="253.45" width="6.35" height="6.30" fill="#4040ff"/>
<rect x="267.06" y="253.45" width="6.35" height="6.30" fill="#0000ff"/>
<rect x="274.04" y="253.45" width="6.35" height="6.30" fill="#0000ff"/>
<rect x="281.02" y="253.45" width="6.35" height="6.30" fill="#2626ff"/>
<rect x="288.00" y="253.45" width="6.35" height="6.30" fill="#a6a6ff"/>
<rect x="294.98" y="253.45" width="6.35" height="6.30" fill="#bfbfff"/>
<rect x="301.96" y="253.45" width="6.35" height="6.30" fill="#6666ff"/>
<rect x="308.94" y="253.45" width="6.35" height="6.30" fill="#ccccff"/>
<rect x="315.92" y="253.45" width="6.35" height="6.30" fill="#ffcccc"/>
<rect x="322.90" y="253.45" width="6.35" height="6.30" fill="#ffcccc"/>
<rect x="329.88" y="253.45" width="6.35" height="6.30" fill="#e6e6ff"/>
<rect x="336.86" y="253.45" width="6.35" height="6.30" fill="#ffffff"/>
<rect x="343.84" y="253.45" width="6.35" height="6.30" fill="#ffd9d9"/>
<rect x="350.82" y="253.45" width="6.35" height="6.30" fill="#a6a6ff"/>
<rect x="357.80" y="253.45" width="6.35" height="6.30" fill="#ffcccc"/>
<rect x="364.78" y="253.45" width="6.35" height="6.30" fill="#ffa6a6"/>
<rect x="371.76" y="253.45" width="6.35" height="6.30" fill="#ff8c8c"/>
<rect x="378.74" y="253.45" width="6.35" height="6.30" fill="#ffa6a6"/>
<rect x="385.72" y="253.45" width="6.35" height="6.30" fill="#ff8c8c"/>
<rect x="392.70" y="253.45" width="6.35" height="6.30" fill="#ff8080"/>
<rect x="399.68" y="253.45" width="6.35" height="6.30" fill="#ff4d4d"/>
<rect x="406.66" y="253.45" width="6.35" height="6.30" fill="#ff7373"/>
<rect x="413.64" y="253.45" width="6.35" height="6.30" fill="#ff4040"/>
<rect x="420.62" y="253.45" width="6.35" height="6.30" fill="#ff4040"/>
<rect x="253.10" y="260.40" width="6.35" height="6.30" fill="#0000ff"/>
<rect x="260.08" y="260.40" width="6.35" height="6.30" fill="#4040ff"/>
<rect x="267.06" y="260.40" width="6.35" height="6.30" fill="#0d0dff"/>
<rect x="274.04" y="260.40" width="6.35" height="6.30" fill="#2626ff"/>
<rect x="281.02" y="260.40" width="6.35" height="6.30" fill="#2626ff"/>
<rect x="288.00" y="260.40" width="6.35" height="6.30" fill="#9999ff"/>
<rect x="294.98" y="260.40" width="6.35" height="6.30" fill="#b2b2ff"/>
<rect x="301.96" y="260.40" width="6.35" height="6.30" fill="#a6a6ff"/>
<rect x="308.94" y="260.40" width="6.35" height="6.30" fill="#b2b2ff"/>
<rect x="315.92" y="260.40" width="6.35" height="6.30" fill="#b2b2ff"/>
<rect x="322.90" y="260.40" width="6.35" height="6.30" fill="#7373ff"/>
<rect x="329.88" y="260.40" width="6.35" height="6.30" fill="#e6e6ff"/>
<rect x="336.86" y="260.40" width="6.35" height="6.30" fill="#fff2f2"/>
<rect x="343.84" y="260.40" width="6.35" height="6.30" fill="#e6e6ff"/>
<rect x="350.82" y="260.40" width="6.35" height="6.30" fill="#e6e6ff"/>
<rect x="357.80" y="260.40" width="6.35" height="6.30" fill="#b2b2ff"/>
<rect x="364.78" y="260.40" width="6.35" height="6.30" fill="#f7f7ff"/>
<rect x="371.76" y="260.40" width="6.35" height="6.30" fill="#ffcccc"/>
<rect x="378.74" y="260.40" width="6.35" height="6.30" fill="#ffcccc"/>
<rect x="385.72" y="260.40" width="6.35" height="6.30" fill="#e6e6ff"/>
<rect x="392.70" y="260.40" width="6.35" height="6.30" fill="#ffa6a6"/>
<rect x="399.68" y="260.40" width="6.35" height="6.30" fill="#ffb2b2"/>
<rect x="406.66" y="260.40" width="6.35" height="6.30" fill="#ffb2b2"/>
<rect x="413.64" y="260.40" width="6.35" height="6.30" fill="#ff6666"/>
<rect x="420.62" y="260.40" width="6.35" height="6.30" fill="#ff4d4d"/>
<rect x="253.10" y="267.35" width="6.35" height="6.30" fill="#1919ff"/>
<rect x="260.08" y="267.35" width="6.35" height="6.30" fill="#bfbfff"/>
<rect x="267.06" y="267.35" width="6.35" height="6.30" fill="#0000ff"/>
<rect x="274.04" y="267.35" width="6.35" height="6.30" fill="#2626ff"/>
<rect x="281.02" y="267.35" width="6.35" height="6.30" fill="#b2b2ff"/>
<rect x="288.00" y="267.35" width="6.35" height="6.30" fill="#fff2f2"/>
<rect x="294.98" y="267.35" width="6.35" height="6.30" fill="#ffffff"/>
<rect x="301.96" y="267.35" width="6.35" height="6.30" fill="#ff4d4d"/>
<rect x="308.94" y="267.35" width="6.35" height="6.30" fill="#ffa6a6"/>
<rect x="315.92" y="267.35" width="6.35" height="6.30" fill="#ff0000"/>
<rect x="322.90" y="267.35" width="6.35" height="6.30" fill="#ff9999"/>
<rect x="329.88" y="267.35" width="6.35" height="6.30" fill="#8c8cff"/>
<rect x="336.86" y="267.35" width="6.35" height="6.30" fill="#ffa6a6"/>
<rect x="343.84" y="267.35" width="6.35" height="6.30" fill="#ff4d4d"/>
<rect x="350.82" y="267.35" width="6.35" height="6.30" fill="#ccccff"/>
<rect x="357.80" y="267.35" width="6.35" height="6.30" fill="#ff8080"/>
<rect x="364.78" y="267.35" width="6.35" height="6.30" fill="#ffa6a6"/>
<rect x="371.76" y="267.35" width="6.35" height="6.30" fill="#ffd9d9"/>
<rect x="378.74" y="267.35" width="6.35" height="6.30" fill="#ff8c8c"/>
<rect x="385.72" y="267.35" width="6.35" height="6.30" fill="#ff0000"/>
<rect x="392.70" y="267.35" width="6.35" height="6.30" fill="#ff1919"/>
<rect x="399.68" y="267.35" width="6.35" height="6.30" fill="#ff0000"/>
<rect x="406.66" y="267.35" width="6.35" height="6.30" fill="#ff0000"/>
<rect x="413.64" y="267.35" width="6.35" height="6.30" fill="#ff7373"/>
<rect x="420.62" y="267.35" width="6.35" height="6.30" fill="#ff0000"/>
<rect x="253.10" y="274.30" width="6.35" height="6.30" fill="#0000ff"/>
<rect x="260.08" y="274.30" width="6.35" height="6.30" fill="#a6a6ff"/>
<rect x="267.06" y="274.30" width="6.35" height="6.30" fill="#5959ff"/>
<rect x="274.04" y="274.30" width="6.35" height="6.30" fill="#4d4dff"/>
<rect x="281.02" y="274.30" width="6.35" height="6.30" fill="#b2b2ff"/>
<rect x="288.00" y="274.30" width="6.35" height="6.30" fill="#8c8cff"/>
<rect x="294.98" y="274.30" width="6.35" height="6.30" fill="#b2b2ff"/>
<rect x="301.96" y="274.30" width="6.35" height="6.30" fill="#d9d9ff"/>
<rect x="308.94" y="274.30" width="6.35" height="6.30" fill="#e6e6ff"/>
<rect x="315.92" y="274.30" width="6.35" height="6.30" fill="#ff9999"/>
<rect x="322.90" y="274.30" width="6.35" height="6.30" fill="#ff8c8c"/>
<rect x="329.88" y="274.30" width="6.35" height="6.30" fill="#ff5959"/>
<rect x="336.86" y="274.30" width="6.35" height="6.30" fill="#ffebeb"/>
<rect x="343.84" y="274.30" width="6.35" height="6.30" fill="#ffbfbf"/>
<rect x="350.82" y="274.30" width="6.35" height="6.30" fill="#ff9999"/>
<rect x="357.80" y="274.30" width="6.35" height="6.30" fill="#ffa6a6"/>
<rect x="364.78" y="274.30" width="6.35" height="6.30" fill="#ffebeb"/>
<rect x="371.76" y="274.30" width="6.35" height="6.30" fill="#ff7373"/>
<rect x="378.74" y="274.30" width="6.35" height="6.30" fill="#ffb2b2"/>
<rect x="385.72" y="274.30" width="6.35" height="6.30" fill="#ff8080"/>
<rect x="392.70" y="274.30" width="6.35" height="6.30" fill="#ff6666"/>
<rect x="399.68" y="274.30" width="6.35" height="6.30" fill="#ffa6a6"/>
<rect x="406.66" y="274.30" width="6.35" height="6.30" fill="#ff0000"/>
<rect x="413.64" y="274.30" width="6.35" height="6.30" fill="#ff6666"/>
<rect x="420.62" y="274.30" width="6.35" height="6.30" fill="#ff0000"/>
<rect x="253.10" y="281.25" width="6.35" height="6.30" fill="#0d0dff"/>
<rect x="260.08" y="281.25" width="6.35" height="6.30" fill="#d9d9ff"/>
<rect x="267.06" y="281.25" width="6.35" height="6.30" fill="#8080ff"/>
<rect x="274.04" y="281.25" width="6.35" height="6.30" fill="#ccccff"/>
<rect x="281.02" y="281.25" width="6.35" height="6.30" fill="#9999ff"/>
<rect x="288.00" y="281.25" width="6.35" height="6.30" fill="#a6a6ff"/>
<rect x="294.98" y="281.25" width="6.35" height="6.30" fill="#b2b2ff"/>
<rect x="301.96" y="281.25" width="6.35" height="6.30" fill="#f2f2ff"/>
<rect x="308.94" y="281.25" width="6.35" height="6.30" fill="#e6e6ff"/>
<rect x="315.92" y="281.25" width="6.35" height="6.30" fill="#ebebff"/>
<rect x="322.90" y="281.25" width="6.35" height="6.30" fill="#ffcccc"/>
<rect x="329.88" y="281.25" width="6.35" height="6.30" fill="#8c8cff"/>
<rect x="336.86" y="281.25" width="6.35" height="6.30" fill="#f2f2ff"/>
<rect x="343.84" y="281.25" width="6.35" height="6.30" fill="#f2f2ff"/>
<rect x="350.82" y="281.25" width="6.35" height="6.30" fill="#ccccff"/>
<rect x="357.80" y="281.25" width="6.35" height="6.30" fill="#ffbfbf"/>
<rect x="364.78" y="281.25" width="6.35" height="6.30" fill="#a6a6ff"/>
<rect x="371.76" y="281.25" width="6.35" height="6.30" fill="#ffb2b2"/>
<rect x="378.74" y="281.25" width="6.35" height="6.30" fill="#ffebeb"/>
<rect x="385.72" y="281.25" width="6.35" height="6.30" fill="#a6a6ff"/>
<rect x="392.70" y="281.25" width="6.35" height="6.30" fill="#ffcccc"/>
<rect x="399.68" y="281.25" width="6.35" height="6.30" fill="#ebebff"/>
<rect x="406.66" y="281.25" width="6.35" height="6.30" fill="#ffcccc"/>
<rect x="413.64" y="281.25" width="6.35" height="6.30" fill="#ff8c8c"/>
<rect x="420.62" y="281.25" width="6.35" height="6.30" fill="#ffb2b2"/>
<rect x="253.10" y="288.20" width="6.35" height="6.30" fill="#0000ff"/>
<rect x="260.08" y="288.20" width="6.35" height="6.30" fill="#4040ff"/>
<rect x="267.06" y="288.20" width="6.35" height="6.30" fill="#0000ff"/>
<rect x="274.04" y="288.20" width="6.35" height="6.30" fill="#5959ff"/>
<rect x="281.02" y="288.20" width="6.35" height="6.30" fill="#8080ff"/>
<rect x="288.00" y="288.20" width="6.35" height="6.30" fill="#ffd9d9"/>
<rect x="294.98" y="288.20" width="6.35" height="6.30" fill="#6666ff"/>
<rect x="301.96" y="288.20" width="6.35" height="6.30" fill="#d9d9ff"/>
<rect x="308.94" y="288.20" width="6.35" height="6.30" fill="#e6e6ff"/>
<rect x="315.92" y="288.20" width="6.35" height="6.30" fill="#f7f7ff"/>
<rect x="322.90" y="288.20" width="6.35" height="6.30" fill="#ffebeb"/>
<rect x="329.88" y="288.20" width="6.35" height="6.30" fill="#ffe0e0"/>
<rect x="336.86" y="288.20" width="6.35" height="6.30" fill="#d9d9ff"/>
<rect x="343.84" y="288.20" width="6.35" height="6.30" fill="#ffebeb"/>
<rect x="350.82" y="288.20" width="6.35" height="6.30" fill="#bfbfff"/>
<rect x="357.80" y="288.20" width="6.35" height="6.30" fill="#fff2f2"/>
<rect x="364.78" y="288.20" width="6.35" height="6.30" fill="#fff2f2"/>
<rect x="371.76" y="288.20" width="6.35" height="6.30" fill="#ff7373"/>
<rect x="378.74" y="288.20" width="6.35" height="6.30" fill="#ffcccc"/>
<rect x="385.72" y="288.20" width="6.35" height="6.30" fill="#ffffff"/>
<rect x="392.70" y="288.20" width="6.35" height="6.30" fill="#ff9999"/>
<rect x="399.68" y="288.20" width="6.35" height="6.30" fill="#ff8c8c"/>
<rect x="406.66" y="288.20" width="6.35" height="6.30" fill="#ff6666"/>
<rect x="413.64" y="288.20" width="6.35" height="6.30" fill="#ff7373"/>
<rect x="420.62" y="288.20" width="6.35" height="6.30" fill="#ff4040"/>
<rect x="253.10" y="295.15" width="6.35" height="6.30" fill="#0000ff"/>
<rect x="260.08" y="295.15" width="6.35" height="6.30" fill="#8080ff"/>
<rect x="267.06" y="295.15" width="6.35" height="6.30" fill="#0d0dff"/>
<rect x="274.04" y="295.15" width="6.35" height="6.30" fill="#1919ff"/>
<rect x="281.02" y="295.15" width="6.35" height="6.30" fill="#8080ff"/>
<rect x="288.00" y="295.15" width="6.35" height="6.30" fill="#8080ff"/>
<rect x="294.98" y="295.15" width="6.35" height="6.30" fill="#ffd9d9"/>
<rect x="301.96" y="295.15" width="6.35" height="6.30" fill="#9999ff"/>
<rect x="308.94" y="295.15" width="6.35" height="6.30" fill="#e6e6ff"/>
<rect x="315.92" y="295.15" width="6.35" height="6.30" fill="#ffa6a6"/>
<rect x="322.90" y="295.15" width="6.35" height="6.30" fill="#ffd9d9"/>
<rect x="329.88" y="295.15" width="6.35" height="6.30" fill="#ffbfbf"/>
<rect x="336.86" y="295.15" width="6.35" height="6.30" fill="#ccccff"/>
<rect x="343.84" y="295.15" width="6.35" height="6.30" fill="#ff7373"/>
<rect x="350.82" y="295.15" width="6.35" height="6.30" fill="#ff9999"/>
<rect x="357.80" y="295.15" width="6.35" height="6.30" fill="#ffcccc"/>
<rect x="364.78" y="295.15" width="6.35" height="6.30" fill="#e6e6ff"/>
<rect x="371.76" y="295.15" width="6.35" height="6.30" fill="#ff9999"/>
<rect x="378.74" y="295.15" width="6.35" height="6.30" fill="#ff8c8c"/>
<rect x="385.72" y="295.15" width="6.35" height="6.30" fill="#ff4d4d"/>
<rect x="392.70" y="295.15" width="6.35" height="6.30" fill="#ff7373"/>
<rect x="399.68" y="295.15" width="6.35" height="6.30" fill="#ff9999"/>
<rect x="406.66" y="295.15" width="6.35" height="6.30" fill="#ff0d0d"/>
<rect x="413.64" y="295.15" width="6.35" height="6.30" fill="#ff0000"/>
<rect x="420.62" y="295.15" width="6.35" height="6.30" fill="#ff4040"/>
<rect x="253.10" y="302.10" width="6.35" height="6.30" fill="#0000ff"/>
<rect x="260.08" y="302.10" width="6.35" height="6.30" fill="#8c8cff"/>
<rect x="267.06" y="302.10" width="6.35" height="6.30" fill="#0000ff"/>
<rect x="274.04" y="302.10" width="6.35" height="6.30" fill="#0000ff"/>
<rect x="281.02" y="302.10" width="6.35" height="6.30" fill="#8c8cff"/>
<rect x="288.00" y="302.10" width="6.35" height="6.30" fill="#a6a6ff"/>
<rect x="294.98" y="302.10" width="6.35" height="6.30" fill="#ffcccc"/>
<rect x="301.96" y="302.10" width="6.35" height="6.30" fill="#6666ff"/>
<rect x="308.94" y="302.10" width="6.35" height="6.30" fill="#bfbfff"/>
<rect x="315.92" y="302.10" width="6.35" height="6.30" fill="#ff4d4d"/>
<rect x="322.90" y="302.10" width="6.35" height="6.30" fill="#ff8c8c"/>
<rect x="329.88" y="302.10" width="6.35" height="6.30" fill="#ebebff"/>
<rect x="336.86" y="302.10" width="6.35" height="6.30" fill="#e6e6ff"/>
<rect x="343.84" y="302.10" width="6.35" height="6.30" fill="#ebebff"/>
<rect x="350.82" y="302.10" width="6.35" height="6.30" fill="#ffb2b2"/>
<rect x="357.80" y="302.10" width="6.35" height="6.30" fill="#ff3333"/>
<rect x="364.78" y="302.10" width="6.35" height="6.30" fill="#ffd9d9"/>
<rect x="371.76" y="302.10" width="6.35" height="6.30" fill="#ffcccc"/>
<rect x="378.74" y="302.10" width="6.35" height="6.30" fill="#ff8c8c"/>
<rect x="385.72" y="302.10" width="6.35" height="6.30" fill="#ff0000"/>
<rect x="392.70" y="302.10" width="6.35" height="6.30" fill="#ff3333"/>
<rect x="399.68" y="302.10" width="6.35" height="6.30" fill="#ff1919"/>
<rect x="406.66" y="302.10" width="6.35" height="6.30" fill="#ff8c8c"/>
<rect x="413.64" y="302.10" width="6.35" height="6.30" fill="#ff8080"/>
<rect x="420.62" y="302.10" width="6.35" height="6.30" fill="#ff0000"/>
<rect x="253.10" y="309.05" width="6.35" height="6.30" fill="#0000ff"/>
<rect x="260.08" y="309.05" width="6.35" height="6.30" fill="#fffafa"/>
<rect x="267.06" y="309.05" width="6.35" height="6.30" fill="#0000ff"/>
<rect x="274.04" y="309.05" width="6.35" height="6.30" fill="#4040ff"/>
<rect x="281.02" y="309.05" width="6.35" height="6.30" fill="#3333ff"/>
<rect x="288.00" y="309.05" width="6.35" height="6.30" fill="#9999ff"/>
<rect x="294.98" y="309.05" width="6.35" height="6.30" fill="#7373ff"/>
<rect x="301.96" y="309.05" width="6.35" height="6.30" fill="#ccccff"/>
<rect x="308.94" y="309.05" width="6.35" height="6.30" fill="#ffebeb"/>
<rect x="315.92" y="309.05" width="6.35" height="6.30" fill="#fffafa"/>
<rect x="322.90" y="309.05" width="6.35" height="6.30" fill="#fafaff"/>
<rect x="329.88" y="309.05" width="6.35" height="6.30" fill="#ffffff"/>
<rect x="336.86" y="309.05" width="6.35" height="6.30" fill="#d9d9ff"/>
<rect x="343.84" y="309.05" width="6.35" height="6.30" fill="#ffffff"/>
<rect x="350.82" y="309.05" width="6.35" height="6.30" fill="#ffd9d9"/>
<rect x="357.80" y="309.05" width="6.35" height="6.30" fill="#fff2f2"/>
<rect x="364.78" y="309.05" width="6.35" height="6.30" fill="#ffe6e6"/>
<rect x="371.76" y="309.05" width="6.35" height="6.30" fill="#ff9999"/>
<rect x="378.74" y="309.05" width="6.35" height="6.30" fill="#ffb2b2"/>
<rect x="385.72" y="309.05" width="6.35" height="6.30" fill="#ff8080"/>
<rect x="392.70" y="309.05" width="6.35" height="6.30" fill="#ff8c8c"/>
<rect x="399.68" y="309.05" width="6.35" height="6.30" fill="#ff8080"/>
<rect x="406.66" y="309.05" width="6.35" height="6.30" fill="#ff4040"/>
<rect x="413.64" y="309.05" width="6.35" height="6.30" fill="#ff8080"/>
<rect x="420.62" y="309.05" width="6.35" height="6.30" fill="#ff2626"/>
<rect x="253.10" y="316.00" width="6.35" height="6.30" fill="#0000ff"/>
<rect x="260.08" y="316.00" width="6.35" height="6.30" fill="#0000ff"/>
<rect x="267.06" y="316.00" width="6.35" height="6.30" fill="#4d4dff"/>
<rect x="274.04" y="316.00" width="6.35" height="6.30" fill="#0000ff"/>
<rect x="281.02" y="316.00" width="6.35" height="6.30" fill="#0d0dff"/>
<rect x="288.00" y="316.00" width="6.35" height="6.30" fill="#b2b2ff"/>
<rect x="294.98" y="316.00" width="6.35" height="6.30" fill="#b2b2ff"/>
<rect x="301.96" y="316.00" width="6.35" height="6.30" fill="#4040ff"/>
<rect x="308.94" y="316.00" width="6.35" height="6.30" fill="#b2b2ff"/>
<rect x="315.92" y="316.00" width="6.35" height="6.30" fill="#2626ff"/>
<rect x="322.90" y="316.00" width="6.35" height="6.30" fill="#8080ff"/>
<rect x="329.88" y="316.00" width="6.35" height="6.30" fill="#ffb2b2"/>
<rect x="336.86" y="316.00" width="6.35" height="6.30" fill="#b2b2ff"/>
<rect x="343.84" y="316.00" width="6.35" height="6.30" fill="#ffffff"/>
<rect x="350.82" y="316.00" width="6.35" height="6.30" fill="#ffebeb"/>
<rect x="357.80" y="316.00" width="6.35" height="6.30" fill="#ccccff"/>
<rect x="364.78" y="316.00" width="6.35" height="6.30" fill="#ffa6a6"/>
<rect x="371.76" y="316.00" width="6.35" height="6.30" fill="#ffa6a6"/>
<rect x="378.74" y="316.00" width="6.35" height="6.30" fill="#ffa6a6"/>
<rect x="385.72" y="316.00" width="6.35" height="6.30" fill="#e6e6ff"/>
<rect x="392.70" y="316.00" width="6.35" height="6.30" fill="#ffa6a6"/>
<rect x="399.68" y="316.00" width="6.35" height="6.30" fill="#e6e6ff"/>
<rect x="406.66" y="316.00" width="6.35" height="6.30" fill="#ffa6a6"/>
<rect x="413.64" y="316.00" width="6.35" height="6.30" fill="#ff6666"/>
<rect x="420.62" y="316.00" width="6.35" height="6.30" fill="#ff6666"/>
<rect x="253.10" y="322.95" width="6.35" height="6.30" fill="#0d0dff"/>
<rect x="260.08" y="322.95" width="6.35" height="6.30" fill="#ff6666"/>
<rect x="267.06" y="322.95" width="6.35" height="6.30" fill="#d9d9ff"/>
<rect x="274.04" y="322.95" width="6.35" height="6.30" fill="#d9d9ff"/>
<rect x="281.02" y="322.95" width="6.35" height="6.30" fill="#4040ff"/>
<rect x="288.00" y="322.95" width="6.35" height="6.30" fill="#1919ff"/>
<rect x="294.98" y="322.95" width="6.35" height="6.30" fill="#a6a6ff"/>
<rect x="301.96" y="322.95" width="6.35" height="6.30" fill="#6666ff"/>
<rect x="308.94" y="322.95" width="6.35" height="6.30" fill="#ccccff"/>
<rect x="315.92" y="322.95" width="6.35" height="6.30" fill="#b2b2ff"/>
<rect x="322.90" y="322.95" width="6.35" height="6.30" fill="#ff8c8c"/>
<rect x="329.88" y="322.95" width="6.35" height="6.30" fill="#9999ff"/>
<rect x="336.86" y="322.95" width="6.35" height="6.30" fill="#fff2f2"/>
<rect x="343.84" y="322.95" width="6.35" height="6.30" fill="#ffffff"/>
<rect x="350.82" y="322.95" width="6.35" height="6.30" fill="#8080ff"/>
<rect x="357.80" y="322.95" width="6.35" height="6.30" fill="#ccccff"/>
<rect x="364.78" y="322.95" width="6.35" height="6.30" fill="#ff8c8c"/>
<rect x="371.76" y="322.95" width="6.35" height="6.30" fill="#ffa6a6"/>
<rect x="378.74" y="322.95" width="6.35" height="6.30" fill="#ffa6a6"/>
<rect x="385.72" y="322.95" width="6.35" height="6.30" fill="#ffb2b2"/>
<rect x="392.70" y="322.95" width="6.35" height="6.30" fill="#ffa6a6"/>
<rect x="399.68" y="322.95" width="6.35" height="6.30" fill="#b2b2ff"/>
<rect x="406.66" y="322.95" width="6.35" height="6.30" fill="#ff4d4d"/>
<rect x="413.64" y="322.95" width="6.35" height="6.30" fill="#ff4d4d"/>
<rect x="420.62" y="322.95" width="6.35" height="6.30" fill="#d9d9ff"/>
<rect x="253.10" y="329.90" width="6.35" height="6.30" fill="#0000ff"/>
<rect x="260.08" y="329.90" width="6.35" height="6.30" fill="#2626ff"/>
<rect x="267.06" y="329.90" width="6.35" height="6.30" fill="#0000ff"/>
<rect x="274.04" y="329.90" width="6.35" height="6.30" fill="#3333ff"/>
<rect x="281.02" y="329.90" width="6.35" height="6.30" fill="#2626ff"/>
<rect x="288.00" y="329.90" width="6.35" height="6.30" fill="#ccccff"/>
<rect x="294.98" y="329.90" width="6.35" height="6.30" fill="#b2b2ff"/>
<rect x="301.96" y="329.90" width="6.35" height="6.30" fill="#ffd9d9"/>
<rect x="308.94" y="329.90" width="6.35" height="6.30" fill="#ffebeb"/>
<rect x="315.92" y="329.90" width="6.35" height="6.30" fill="#f2f2ff"/>
<rect x="322.90" y="329.90" width="6.35" height="6.30" fill="#e6e6ff"/>
<rect x="329.88" y="329.90" width="6.35" height="6.30" fill="#ccccff"/>
<rect x="336.86" y="329.90" width="6.35" height="6.30" fill="#ebebff"/>
<rect x="343.84" y="329.90" width="6.35" height="6.30" fill="#ffebeb"/>
<rect x="350.82" y="329.90" width="6.35" height="6.30" fill="#ffd9d9"/>
<rect x="357.80" y="329.90" width="6.35" height="6.30" fill="#ffffff"/>
<rect x="364.78" y="329.90" width="6.35" height="6.30" fill="#ffebeb"/>
<rect x="371.76" y="329.90" width="6.35" height="6.30" fill="#ff9999"/>
<rect x="378.74" y="329.90" width="6.35" height="6.30" fill="#ffffff"/>
<rect x="385.72" y="329.90" width="6.35" height="6.30" fill="#ff7373"/>
<rect x="392.70" y="329.90" width="6.35" height="6.30" fill="#ff8080"/>
<rect x="399.68" y="329.90" width="6.35" height="6.30" fill="#ff6666"/>
<rect x="406.66" y="329.90" width="6.35" height="6.30" fill="#ff7373"/>
<rect x="413.64" y="329.90" width="6.35" height="6.30" fill="#ffcccc"/>
<rect x="420.62" y="329.90" width="6.35" height="6.30" fill="#ff0d0d"/>
<rect x="253.10" y="336.85" width="6.35" height="6.30" fill="#0000ff"/>
<rect x="260.08" y="336.85" width="6.35" height="6.30" fill="#3333ff"/>
<rect x="267.06" y="336.85" width="6.35" height="6.30" fill="#0000ff"/>
<rect x="274.04" y="336.85" width="6.35" height="6.30" fill="#0000ff"/>
<rect x="281.02" y="336.85" width="6.35" height="6.30" fill="#8c8cff"/>
<rect x="288.00" y="336.85" width="6.35" height="6.30" fill="#ffe6e6"/>
<rect x="294.98" y="336.85" width="6.35" height="6.30" fill="#ffb2b2"/>
<rect x="301.96" y="336.85" width="6.35" height="6.30" fill="#8080ff"/>
<rect x="308.94" y="336.85" width="6.35" height="6.30" fill="#a6a6ff"/>
<rect x="315.92" y="336.85" width="6.35" height="6.30" fill="#ffcccc"/>
<rect x="322.90" y="336.85" width="6.35" height="6.30" fill="#ffa6a6"/>
<rect x="329.88" y="336.85" width="6.35" height="6.30" fill="#ff9999"/>
<rect x="336.86" y="336.85" width="6.35" height="6.30" fill="#d9d9ff"/>
<rect x="343.84" y="336.85" width="6.35" height="6.30" fill="#ffe6e6"/>
<rect x="350.82" y="336.85" width="6.35" height="6.30" fill="#ff8080"/>
<rect x="357.80" y="336.85" width="6.35" height="6.30" fill="#ff7373"/>
<rect x="364.78" y="336.85" width="6.35" height="6.30" fill="#ffcccc"/>
<rect x="371.76" y="336.85" width="6.35" height="6.30" fill="#ffe6e6"/>
<rect x="378.74" y="336.85" width="6.35" height="6.30" fill="#ffb2b2"/>
<rect x="385.72" y="336.85" width="6.35" height="6.30" fill="#ff1919"/>
<rect x="392.70" y="336.85" width="6.35" height="6.30" fill="#ff0000"/>
<rect x="399.68" y="336.85" width="6.35" height="6.30" fill="#ff0d0d"/>
<rect x="406.66" y="336.85" width="6.35" height="6.30" fill="#ff0000"/>
<rect x="413.64" y="336.85" width="6.35" height="6.30" fill="#ff4d4d"/>
<rect x="420.62" y="336.85" width="6.35" height="6.30" fill="#ff0000"/>
<rect x="253.10" y="343.80" width="6.35" height="6.30" fill="#0000ff"/>
<rect x="260.08" y="343.80" width="6.35" height="6.30" fill="#2626ff"/>
<rect x="267.06" y="343.80" width="6.35" height="6.30" fill="#1919ff"/>
<rect x="274.04" y="343.80" width="6.35" height="6.30" fill="#2626ff"/>
<rect x="281.02" y="343.80" width="6.35" height="6.30" fill="#4040ff"/>
<rect x="288.00" y="343.80" width="6.35" height="6.30" fill="#2626ff"/>
<rect x="294.98" y="343.80" width="6.35" height="6.30" fill="#fafaff"/>
<rect x="301.96" y="343.80" width="6.35" height="6.30" fill="#6666ff"/>
<rect x="308.94" y="343.80" width="6.35" height="6.30" fill="#ccccff"/>
<rect x="315.92" y="343.80" width="6.35" height="6.30" fill="#d9d9ff"/>
<rect x="322.90" y="343.80" width="6.35" height="6.30" fill="#8080ff"/>
<rect x="329.88" y="343.80" width="6.35" height="6.30" fill="#f7f7ff"/>
<rect x="336.86" y="343.80" width="6.35" height="6.30" fill="#ccccff"/>
<rect x="343.84" y="343.80" width="6.35" height="6.30" fill="#e6e6ff"/>
<rect x="350.82" y="343.80" width="6.35" height="6.30" fill="#e6e6ff"/>
<rect x="357.80" y="343.80" width="6.35" height="6.30" fill="#bfbfff"/>
<rect x="364.78" y="343.80" width="6.35" height="6.30" fill="#ebebff"/>
<rect x="371.76" y="343.80" width="6.35" height="6.30" fill="#ffa6a6"/>
<rect x="378.74" y="343.80" width="6.35" height="6.30" fill="#ffe6e6"/>
<rect x="385.72" y="343.80" width="6.35" height="6.30" fill="#bfbfff"/>
<rect x="392.70" y="343.80" width="6.35" height="6.30" fill="#ff9999"/>
<rect x="399.68" y="343.80" width="6.35" height="6.30" fill="#ffffff"/>
<rect x="406.66" y="343.80" width="6.35" height="6.30" fill="#ffbfbf"/>
<rect x="413.64" y="343.80" width="6.35" height="6.30" fill="#ff6666"/>
<rect x="420.62" y="343.80" width="6.35" height="6.30" fill="#ff7373"/>
<rect x="253.10" y="350.75" width="6.35" height="6.30" fill="#4040ff"/>
<rect x="260.08" y="350.75" width="6.35" height="6.30" fill="#d9d9ff"/>
<rect x="267.06" y="350.75" width="6.35" height="6.30" fill="#d9d9ff"/>
<rect x="274.04" y="350.75" width="6.35" height="6.30" fill="#ccccff"/>
<rect x="281.02" y="350.75" width="6.35" height="6.30" fill="#b2b2ff"/>
<rect x="288.00" y="350.75" width="6.35" height="6.30" fill="#5959ff"/>
<rect x="294.98" y="350.75" width="6.35" height="6.30" fill="#8c8cff"/>
<rect x="301.96" y="350.75" width="6.35" height="6.30" fill="#ffb2b2"/>
<rect x="308.94" y="350.75" width="6.35" height="6.30" fill="#ebebff"/>
<rect x="315.92" y="350.75" width="6.35" height="6.30" fill="#ffebeb"/>
<rect x="322.90" y="350.75" width="6.35" height="6.30" fill="#ffb2b2"/>
<rect x="329.88" y="350.75" width="6.35" height="6.30" fill="#ffffff"/>
<rect x="336.86" y="350.75" width="6.35" height="6.30" fill="#ffbfbf"/>
<rect x="343.84" y="350.75" width="6.35" height="6.30" fill="#f2f2ff"/>
<rect x="350.82" y="350.75" width="6.35" height="6.30" fill="#ffffff"/>
<rect x="357.80" y="350.75" width="6.35" height="6.30" fill="#ff9999"/>
<rect x="364.78" y="350.75" width="6.35" height="6.30" fill="#e6e6ff"/>
<rect x="371.76" y="350.75" width="6.35" height="6.30" fill="#ffbfbf"/>
<rect x="378.74" y="350.75" width="6.35" height="6.30" fill="#ffb2b2"/>
<rect x="385.72" y="350.75" width="6.35" height="6.30" fill="#ffa6a6"/>
<rect x="392.70" y="350.75" width="6.35" height="6.30" fill="#ff6666"/>
<rect x="399.68" y="350.75" width="6.35" height="6.30" fill="#ff7373"/>
<rect x="406.66" y="350.75" width="6.35" height="6.30" fill="#ff4d4d"/>
<rect x="413.64" y="350.75" width="6.35" height="6.30" fill="#ff5959"/>
<rect x="420.62" y="350.75" width="6.35" height="6.30" fill="#ff9999"/>
<rect x="253.10" y="357.70" width="6.35" height="6.30" fill="#0000ff"/>
<rect x="260.08" y="357.70" width="6.35" height="6.30" fill="#b2b2ff"/>
<rect x="267.06" y="357.70" width="6.35" height="6.30" fill="#0000ff"/>
<rect x="274.04" y="357.70" width="6.35" height="6.30" fill="#6666ff"/>
<rect x="281.02" y="357.70" width="6.35" height="6.30" fill="#6666ff"/>
<rect x="288.00" y="357.70" width="6.35" height="6.30" fill="#a6a6ff"/>
<rect x="294.98" y="357.70" width="6.35" height="6.30" fill="#4040ff"/>
<rect x="301.96" y="357.70" width="6.35" height="6.30" fill="#e6e6ff"/>
<rect x="308.94" y="357.70" width="6.35" height="6.30" fill="#b2b2ff"/>
<rect x="315.92" y="357.70" width="6.35" height="6.30" fill="#f2f2ff"/>
<rect x="322.90" y="357.70" width="6.35" height="6.30" fill="#ffb2b2"/>
<rect x="329.88" y="357.70" width="6.35" height="6.30" fill="#ffe6e6"/>
<rect x="336.86" y="357.70" width="6.35" height="6.30" fill="#bfbfff"/>
<rect x="343.84" y="357.70" width="6.35" height="6.30" fill="#e6e6ff"/>
<rect x="350.82" y="357.70" width="6.35" height="6.30" fill="#d9d9ff"/>
<rect x="357.80" y="357.70" width="6.35" height="6.30" fill="#ffcccc"/>
<rect x="364.78" y="357.70" width="6.35" height="6.30" fill="#ffe6e6"/>
<rect x="371.76" y="357.70" width="6.35" height="6.30" fill="#ffb2b2"/>
<rect x="378.74" y="357.70" width="6.35" height="6.30" fill="#ffb2b2"/>
<rect x="385.72" y="357.70" width="6.35" height="6.30" fill="#ffa6a6"/>
<rect x="392.70" y="357.70" width="6.35" height="6.30" fill="#ff8c8c"/>
<rect x="399.68" y="357.70" width="6.35" height="6.30" fill="#ffd9d9"/>
<rect x="406.66" y="357.70" width="6.35" height="6.30" fill="#ff4d4d"/>
<rect x="413.64" y="357.70" width="6.35" height="6.30" fill="#ff8080"/>
<rect x="420.62" y="357.70" width="6.35" height="6.30" fill="#ff8080"/>
<rect x="253.10" y="364.65" width="6.35" height="6.30" fill="#0000ff"/>
<rect x="260.08" y="364.65" width="6.35" height="6.30" fill="#8080ff"/>
<rect x="267.06" y="364.65" width="6.35" height="6.30" fill="#0000ff"/>
<rect x="274.04" y="364.65" width="6.35" height="6.30" fill="#8080ff"/>
<rect x="281.02" y="364.65" width="6.35" height="6.30" fill="#ccccff"/>
<rect x="288.00" y="364.65" width="6.35" height="6.30" fill="#b2b2ff"/>
<rect x="294.98" y="364.65" width="6.35" height="6.30" fill="#8c8cff"/>
<rect x="301.96" y="364.65" width="6.35" height="6.30" fill="#ffebeb"/>
<rect x="308.94" y="364.65" width="6.35" height="6.30" fill="#ebebff"/>
<rect x="315.92" y="364.65" width="6.35" height="6.30" fill="#ffcccc"/>
<rect x="322.90" y="364.65" width="6.35" height="6.30" fill="#fff2f2"/>
<rect x="329.88" y="364.65" width="6.35" height="6.30" fill="#b2b2ff"/>
<rect x="336.86" y="364.65" width="6.35" height="6.30" fill="#ffcccc"/>
<rect x="343.84" y="364.65" width="6.35" height="6.30" fill="#ffebeb"/>
<rect x="350.82" y="364.65" width="6.35" height="6.30" fill="#ff9999"/>
<rect x="357.80" y="364.65" width="6.35" height="6.30" fill="#ff7373"/>
<rect x="364.78" y="364.65" width="6.35" height="6.30" fill="#ffebeb"/>
<rect x="371.76" y="364.65" width="6.35" height="6.30" fill="#ffd9d9"/>
<rect x="378.74" y="364.65" width="6.35" height="6.30" fill="#ffcccc"/>
<rect x="385.72" y="364.65" width="6.35" height="6.30" fill="#ffa6a6"/>
<rect x="392.70" y="364.65" width="6.35" height="6.30" fill="#ff6666"/>
<rect x="399.68" y="364.65" width="6.35" height="6.30" fill="#ff5959"/>
<rect x="406.66" y="364.65" width="6.35" height="6.30" fill="#ff0000"/>
<rect x="413.64" y="364.65" width="6.35" height="6.30" fill="#ff6666"/>
<rect x="420.62" y="364.65" width="6.35" height="6.30" fill="#ff0000"/>
<rect x="253.10" y="371.60" width="6.35" height="6.30" fill="#0000ff"/>
<rect x="260.08" y="371.60" width="6.35" height="6.30" fill="#5959ff"/>
<rect x="267.06" y="371.60" width="6.35" height="6.30" fill="#0000ff"/>
<rect x="274.04" y="371.60" width="6.35" height="6.30" fill="#0000ff"/>
<rect x="281.02" y="371.60" width="6.35" height="6.30" fill="#0000ff"/>
<rect x="288.00" y="371.60" width="6.35" height="6.30" fill="#a6a6ff"/>
<rect x="294.98" y="371.60" width="6.35" height="6.30" fill="#ccccff"/>
<rect x="301.96" y="371.60" width="6.35" height="6.30" fill="#a6a6ff"/>
<rect x="308.94" y="371.60" width="6.35" height="6.30" fill="#9999ff"/>
<rect x="315.92" y="371.60" width="6.35" height="6.30" fill="#4d4dff"/>
<rect x="322.90" y="371.60" width="6.35" height="6.30" fill="#ffebeb"/>
<rect x="329.88" y="371.60" width="6.35" height="6.30" fill="#ff7373"/>
<rect x="336.86" y="371.60" width="6.35" height="6.30" fill="#ffffff"/>
<rect x="343.84" y="371.60" width="6.35" height="6.30" fill="#ccccff"/>
<rect x="350.82" y="371.60" width="6.35" height="6.30" fill="#ffcccc"/>
<rect x="357.80" y="371.60" width="6.35" height="6.30" fill="#ffb2b2"/>
<rect x="364.78" y="371.60" width="6.35" height="6.30" fill="#ff8c8c"/>
<rect x="371.76" y="371.60" width="6.35" height="6.30" fill="#e6e6ff"/>
<rect x="378.74" y="371.60" width="6.35" height="6.30" fill="#ff8c8c"/>
<rect x="385.72" y="371.60" width="6.35" height="6.30" fill="#fff2f2"/>
<rect x="392.70" y="371.60" width="6.35" height="6.30" fill="#ff4d4d"/>
<rect x="399.68" y="371.60" width="6.35" height="6.30" fill="#ff3333"/>
<rect x="406.66" y="371.60" width="6.35" height="6.30" fill="#ff0000"/>
<rect x="413.64" y="371.60" width="6.35" height="6.30" fill="#ff9999"/>
<rect x="420.62" y="371.60" width="6.35" height="6.30" fill="#ff0000"/>
<rect x="253.10" y="378.55" width="6.35" height="6.30" fill="#0000ff"/>
<rect x="260.08" y="378.55" width="6.35" height="6.30" fill="#5959ff"/>
<rect x="267.06" y="378.55" width="6.35" height="6.30" fill="#0000ff"/>
<rect x="274.04" y="378.55" width="6.35" height="6.30" fill="#5959ff"/>
<rect x="281.02" y="378.55" width="6.35" height="6.30" fill="#2626ff"/>
<rect x="288.00" y="378.55" width="6.35" height="6.30" fill="#7373ff"/>
<rect x="294.98" y="378.55" width="6.35" height="6.30" fill="#9999ff"/>
<rect x="301.96" y="378.55" width="6.35" height="6.30" fill="#e6e6ff"/>
<rect x="308.94" y="378.55" width="6.35" height="6.30" fill="#ffa6a6"/>
<rect x="315.92" y="378.55" width="6.35" height="6.30" fill="#ffe6e6"/>
<rect x="322.90" y="378.55" width="6.35" height="6.30" fill="#f2f2ff"/>
<rect x="329.88" y="378.55" width="6.35" height="6.30" fill="#b2b2ff"/>
<rect x="336.86" y="378.55" width="6.35" height="6.30" fill="#ffbfbf"/>
<rect x="343.84" y="378.55" width="6.35" height="6.30" fill="#ffbfbf"/>
<rect x="350.82" y="378.55" width="6.35" height="6.30" fill="#ffbfbf"/>
<rect x="357.80" y="378.55" width="6.35" height="6.30" fill="#fafaff"/>
<rect x="364.78" y="378.55" width="6.35" height="6.30" fill="#ffa6a6"/>
<rect x="371.76" y="378.55" width="6.35" height="6.30" fill="#ff9999"/>
<rect x="378.74" y="378.55" width="6.35" height="6.30" fill="#ffcccc"/>
<rect x="385.72" y="378.55" width="6.35" height="6.30" fill="#ffd9d9"/>
<rect x="392.70" y="378.55" width="6.35" height="6.30" fill="#ff7373"/>
<rect x="399.68" y="378.55" width="6.35" height="6.30" fill="#ff8080"/>
<rect x="406.66" y="378.55" width="6.35" height="6.30" fill="#ff8080"/>
<rect x="413.64" y="378.55" width="6.35" height="6.30" fill="#fff2f2"/>
<rect x="420.62" y="378.55" width="6.35" height="6.30" fill="#ff0000"/>
<rect x="253.10" y="385.50" width="6.35" height="6.30" fill="#0000ff"/>
<rect x="260.08" y="385.50" width="6.35" height="6.30" fill="#3333ff"/>
<rect x="267.06" y="385.50" width="6.35" height="6.30" fill="#0000ff"/>
<rect x="274.04" y="385.50" width="6.35" height="6.30" fill="#4040ff"/>
<rect x="281.02" y="385.50" width="6.35" height="6.30" fill="#6666ff"/>
<rect x="288.00" y="385.50" width="6.35" height="6.30" fill="#ffffff"/>
<rect x="294.98" y="385.50" width="6.35" height="6.30" fill="#5959ff"/>
<rect x="301.96" y="385.50" width="6.35" height="6.30" fill="#b2b2ff"/>
<rect x="308.94" y="385.50" width="6.35" height="6.30" fill="#fff2f2"/>
<rect x="315.92" y="385.50" width="6.35" height="6.30" fill="#fff2f2"/>
<rect x="322.90" y="385.50" width="6.35" height="6.30" fill="#8c8cff"/>
<rect x="329.88" y="385.50" width="6.35" height="6.30" fill="#8c8cff"/>
<rect x="336.86" y="385.50" width="6.35" height="6.30" fill="#fff2f2"/>
<rect x="343.84" y="385.50" width="6.35" height="6.30" fill="#ffe6e6"/>
<rect x="350.82" y="385.50" width="6.35" height="6.30" fill="#e6e6ff"/>
<rect x="357.80" y="385.50" width="6.35" height="6.30" fill="#bfbfff"/>
<rect x="364.78" y="385.50" width="6.35" height="6.30" fill="#ffd9d9"/>
<rect x="371.76" y="385.50" width="6.35" height="6.30" fill="#ffcccc"/>
<rect x="378.74" y="385.50" width="6.35" height="6.30" fill="#ffffff"/>
<rect x="385.72" y="385.50" width="6.35" height="6.30" fill="#ffbfbf"/>
<rect x="392.70" y="385.50" width="6.35" height="6.30" fill="#ff8c8c"/>
<rect x="399.68" y="385.50" width="6.35" height="6.30" fill="#ff6666"/>
<rect x="406.66" y="385.50" width="6.35" height="6.30" fill="#ff8c8c"/>
<rect x="413.64" y="385.50" width="6.35" height="6.30" fill="#ffb2b2"/>
<rect x="420.62" y="385.50" width="6.35" height="6.30" fill="#ff0000"/>
<rect x="253.10" y="392.45" width="6.35" height="6.30" fill="#0000ff"/>
<rect x="260.08" y="392.45" width="6.35" height="6.30" fill="#3333ff"/>
<rect x="267.06" y="392.45" width="6.35" height="6.30" fill="#0000ff"/>
<rect x="274.04" y="392.45" width="6.35" height="6.30" fill="#2626ff"/>
<rect x="281.02" y="392.45" width="6.35" height="6.30" fill="#0000ff"/>
<rect x="288.00" y="392.45" width="6.35" height="6.30" fill="#ebebff"/>
<rect x="294.98" y="392.45" width="6.35" height="6.30" fill="#4040ff"/>
<rect x="301.96" y="392.45" width="6.35" height="6.30" fill="#9999ff"/>
<rect x="308.94" y="392.45" width="6.35" height="6.30" fill="#d9d9ff"/>
<rect x="315.92" y="392.45" width="6.35" height="6.30" fill="#7373ff"/>
<rect x="322.90" y="392.45" width="6.35" height="6.30" fill="#b2b2ff"/>
<rect x="329.88" y="392.45" width="6.35" height="6.30" fill="#ffe6e6"/>
<rect x="336.86" y="392.45" width="6.35" height="6.30" fill="#ebebff"/>
<rect x="343.84" y="392.45" width="6.35" height="6.30" fill="#ffe0e0"/>
<rect x="350.82" y="392.45" width="6.35" height="6.30" fill="#ccccff"/>
<rect x="357.80" y="392.45" width="6.35" height="6.30" fill="#ffbfbf"/>
<rect x="364.78" y="392.45" width="6.35" height="6.30" fill="#d9d9ff"/>
<rect x="371.76" y="392.45" width="6.35" height="6.30" fill="#ffcccc"/>
<rect x="378.74" y="392.45" width="6.35" height="6.30" fill="#fffafa"/>
<rect x="385.72" y="392.45" width="6.35" height="6.30" fill="#a6a6ff"/>
<rect x="392.70" y="392.45" width="6.35" height="6.30" fill="#ffd9d9"/>
<rect x="399.68" y="392.45" width="6.35" height="6.30" fill="#ff8c8c"/>
<rect x="406.66" y="392.45" width="6.35" height="6.30" fill="#ff6666"/>
<rect x="413.64" y="392.45" width="6.35" height="6.30" fill="#fff2f2"/>
<rect x="420.62" y="392.45" width="6.35" height="6.30" fill="#ff6666"/>
<rect x="253.10" y="399.40" width="6.35" height="6.30" fill="#0000ff"/>
<rect x="260.08" y="399.40" width="6.35" height="6.30" fill="#6666ff"/>
<rect x="267.06" y="399.40" width="6.35" height="6.30" fill="#0000ff"/>
<rect x="274.04" y="399.40" width="6.35" height="6.30" fill="#5959ff"/>
<rect x="281.02" y="399.40" width="6.35" height="6.30" fill="#0000ff"/>
<rect x="288.00" y="399.40" width="6.35" height="6.30" fill="#a6a6ff"/>
<rect x="294.98" y="399.40" width="6.35" height="6.30" fill="#bfbfff"/>
<rect x="301.96" y="399.40" width="6.35" height="6.30" fill="#b2b2ff"/>
<rect x="308.94" y="399.40" width="6.35" height="6.30" fill="#e6e6ff"/>
<rect x="315.92" y="399.40" width="6.35" height="6.30" fill="#ffffff"/>
<rect x="322.90" y="399.40" width="6.35" height="6.30" fill="#ffb2b2"/>
<rect x="329.88" y="399.40" width="6.35" height="6.30" fill="#ffcccc"/>
<rect x="336.86" y="399.40" width="6.35" height="6.30" fill="#ccccff"/>
<rect x="343.84" y="399.40" width="6.35" height="6.30" fill="#e6e6ff"/>
<rect x="350.82" y="399.40" width="6.35" height="6.30" fill="#ffcccc"/>
<rect x="357.80" y="399.40" width="6.35" height="6.30" fill="#ffb2b2"/>
<rect x="364.78" y="399.40" width="6.35" height="6.30" fill="#ffcccc"/>
<rect x="371.76" y="399.40" width="6.35" height="6.30" fill="#ffa6a6"/>
<rect x="378.74" y="399.40" width="6.35" height="6.30" fill="#ffb2b2"/>
<rect x="385.72" y="399.40" width="6.35" height="6.30" fill="#ff9999"/>
<rect x="392.70" y="399.40" width="6.35" height="6.30" fill="#ff6666"/>
<rect x="399.68" y="399.40" width="6.35" height="6.30" fill="#ff7373"/>
<rect x="406.66" y="399.40" width="6.35" height="6.30" fill="#ffa6a6"/>
<rect x="413.64" y="399.40" width="6.35" height="6.30" fill="#ffcccc"/>
<rect x="420.62" y="399.40" width="6.35" height="6.30" fill="#ff0000"/>
<rect x="253.10" y="406.35" width="6.35" height="6.30" fill="#5959ff"/>
<rect x="260.08" y="406.35" width="6.35" height="6.30" fill="#ffb2b2"/>
<rect x="267.06" y="406.35" width="6.35" height="6.30" fill="#9999ff"/>
<rect x="274.04" y="406.35" width="6.35" height="6.30" fill="#ccccff"/>
<rect x="281.02" y="406.35" width="6.35" height="6.30" fill="#7373ff"/>
<rect x="288.00" y="406.35" width="6.35" height="6.30" fill="#ffffff"/>
<rect x="294.98" y="406.35" width="6.35" height="6.30" fill="#6666ff"/>
<rect x="301.96" y="406.35" width="6.35" height="6.30" fill="#4d4dff"/>
<rect x="308.94" y="406.35" width="6.35" height="6.30" fill="#ffcccc"/>
<rect x="315.92" y="406.35" width="6.35" height="6.30" fill="#ff4040"/>
<rect x="322.90" y="406.35" width="6.35" height="6.30" fill="#ff7373"/>
<rect x="329.88" y="406.35" width="6.35" height="6.30" fill="#ff8080"/>
<rect x="336.86" y="406.35" width="6.35" height="6.30" fill="#ffe0e0"/>
<rect x="343.84" y="406.35" width="6.35" height="6.30" fill="#fff2f2"/>
<rect x="350.82" y="406.35" width="6.35" height="6.30" fill="#ffebeb"/>
<rect x="357.80" y="406.35" width="6.35" height="6.30" fill="#ff9999"/>
<rect x="364.78" y="406.35" width="6.35" height="6.30" fill="#fff2f2"/>
<rect x="371.76" y="406.35" width="6.35" height="6.30" fill="#fff2f2"/>
<rect x="378.74" y="406.35" width="6.35" height="6.30" fill="#ffb2b2"/>
<rect x="385.72" y="406.35" width="6.35" height="6.30" fill="#ff0000"/>
<rect x="392.70" y="406.35" width="6.35" height="6.30" fill="#ff8c8c"/>
<rect x="399.68" y="406.35" width="6.35" height="6.30" fill="#ff0000"/>
<rect x="406.66" y="406.35" width="6.35" height="6.30" fill="#ff0d0d"/>
<rect x="413.64" y="406.35" width="6.35" height="6.30" fill="#ff3333"/>
<rect x="420.62" y="406.35" width="6.35" height="6.30" fill="#ffa6a6"/>
<rect x="253.10" y="413.30" width="6.35" height="6.30" fill="#0000ff"/>
<rect x="260.08" y="413.30" width="6.35" height="6.30" fill="#2626ff"/>
<rect x="267.06" y="413.30" width="6.35" height="6.30" fill="#0000ff"/>
<rect x="274.04" y="413.30" width="6.35" height="6.30" fill="#0000ff"/>
<rect x="281.02" y="413.30" width="6.35" height="6.30" fill="#0000ff"/>
<rect x="288.00" y="413.30" width="6.35" height="6.30" fill="#e6e6ff"/>
<rect x="294.98" y="413.30" width="6.35" height="6.30" fill="#a6a6ff"/>
<rect x="301.96" y="413.30" width="6.35" height="6.30" fill="#4d4dff"/>
<rect x="308.94" y="413.30" width="6.35" height="6.30" fill="#9999ff"/>
<rect x="315.92" y="413.30" width="6.35" height="6.30" fill="#d9d9ff"/>
<rect x="322.90" y="413.30" width="6.35" height="6.30" fill="#ffb2b2"/>
<rect x="329.88" y="413.30" width="6.35" height="6.30" fill="#bfbfff"/>
<rect x="336.86" y="413.30" width="6.35" height="6.30" fill="#bfbfff"/>
<rect x="343.84" y="413.30" width="6.35" height="6.30" fill="#bfbfff"/>
<rect x="350.82" y="413.30" width="6.35" height="6.30" fill="#ccccff"/>
<rect x="357.80" y="413.30" width="6.35" height="6.30" fill="#e6e6ff"/>
<rect x="364.78" y="413.30" width="6.35" height="6.30" fill="#f2f2ff"/>
<rect x="371.76" y="413.30" width="6.35" height="6.30" fill="#ff8c8c"/>
<rect x="378.74" y="413.30" width="6.35" height="6.30" fill="#ffd9d9"/>
<rect x="385.72" y="413.30" width="6.35" height="6.30" fill="#d9d9ff"/>
<rect x="392.70" y="413.30" width="6.35" height="6.30" fill="#ff6666"/>
<rect x="399.68" y="413.30" width="6.35" height="6.30" fill="#ff8080"/>
<rect x="406.66" y="413.30" width="6.35" height="6.30" fill="#ffb2b2"/>
<rect x="413.64" y="413.30" width="6.35" height="6.30" fill="#ff9999"/>
<rect x="420.62" y="413.30" width="6.35" height="6.30" fill="#ff2626"/>
<rect x="253.10" y="420.25" width="6.35" height="6.30" fill="#0000ff"/>
<rect x="260.08" y="420.25" width="6.35" height="6.30" fill="#ffffff"/>
<rect x="267.06" y="420.25" width="6.35" height="6.30" fill="#0000ff"/>
<rect x="274.04" y="420.25" width="6.35" height="6.30" fill="#4040ff"/>
<rect x="281.02" y="420.25" width="6.35" height="6.30" fill="#f2f2ff"/>
<rect x="288.00" y="420.25" width="6.35" height="6.30" fill="#3333ff"/>
<rect x="294.98" y="420.25" width="6.35" height="6.30" fill="#1919ff"/>
<rect x="301.96" y="420.25" width="6.35" height="6.30" fill="#b2b2ff"/>
<rect x="308.94" y="420.25" width="6.35" height="6.30" fill="#f2f2ff"/>
<rect x="315.92" y="420.25" width="6.35" height="6.30" fill="#ff8c8c"/>
<rect x="322.90" y="420.25" width="6.35" height="6.30" fill="#ffd9d9"/>
<rect x="329.88" y="420.25" width="6.35" height="6.30" fill="#ff7373"/>
<rect x="336.86" y="420.25" width="6.35" height="6.30" fill="#ffcccc"/>
<rect x="343.84" y="420.25" width="6.35" height="6.30" fill="#ffbfbf"/>
<rect x="350.82" y="420.25" width="6.35" height="6.30" fill="#ff9999"/>
<rect x="357.80" y="420.25" width="6.35" height="6.30" fill="#f2f2ff"/>
<rect x="364.78" y="420.25" width="6.35" height="6.30" fill="#ffb2b2"/>
<rect x="371.76" y="420.25" width="6.35" height="6.30" fill="#ffb2b2"/>
<rect x="378.74" y="420.25" width="6.35" height="6.30" fill="#ffbfbf"/>
<rect x="385.72" y="420.25" width="6.35" height="6.30" fill="#ffb2b2"/>
<rect x="392.70" y="420.25" width="6.35" height="6.30" fill="#ff4040"/>
<rect x="399.68" y="420.25" width="6.35" height="6.30" fill="#ff0000"/>
<rect x="406.66" y="420.25" width="6.35" height="6.30" fill="#ff3333"/>
<rect x="413.64" y="420.25" width="6.35" height="6.30" fill="#ff6666"/>
<rect x="420.62" y="420.25" width="6.35" height="6.30" fill="#ff0000"/>
<rect x="253.10" y="427.20" width="6.35" height="6.30" fill="#0000ff"/>
<rect x="260.08" y="427.20" width="6.35" height="6.30" fill="#8080ff"/>
<rect x="267.06" y="427.20" width="6.35" height="6.30" fill="#ccccff"/>
<rect x="274.04" y="427.20" width="6.35" height="6.30" fill="#6666ff"/>
<rect x="281.02" y="427.20" width="6.35" height="6.30" fill="#7373ff"/>
<rect x="288.00" y="427.20" width="6.35" height="6.30" fill="#a6a6ff"/>
<rect x="294.98" y="427.20" width="6.35" height="6.30" fill="#fff2f2"/>
<rect x="301.96" y="427.20" width="6.35" height="6.30" fill="#ffbfbf"/>
<rect x="308.94" y="427.20" width="6.35" height="6.30" fill="#ffb2b2"/>
<rect x="315.92" y="427.20" width="6.35" height="6.30" fill="#ff3333"/>
<rect x="322.90" y="427.20" width="6.35" height="6.30" fill="#fffafa"/>
<rect x="329.88" y="427.20" width="6.35" height="6.30" fill="#ff4d4d"/>
<rect x="336.86" y="427.20" width="6.35" height="6.30" fill="#ff7373"/>
<rect x="343.84" y="427.20" width="6.35" height="6.30" fill="#ff2626"/>
<rect x="350.82" y="427.20" width="6.35" height="6.30" fill="#ff9999"/>
<rect x="357.80" y="427.20" width="6.35" height="6.30" fill="#ffcccc"/>
<rect x="364.78" y="427.20" width="6.35" height="6.30" fill="#d9d9ff"/>
<rect x="371.76" y="427.20" width="6.35" height="6.30" fill="#fff2f2"/>
<rect x="378.74" y="427.20" width="6.35" height="6.30" fill="#ffa6a6"/>
<rect x="385.72" y="427.20" width="6.35" height="6.30" fill="#ff8c8c"/>
<rect x="392.70" y="427.20" width="6.35" height="6.30" fill="#ffa6a6"/>
<rect x="399.68" y="427.20" width="6.35" height="6.30" fill="#ff3333"/>
<rect x="406.66" y="427.20" width="6.35" height="6.30" fill="#ff0000"/>
<rect x="413.64" y="427.20" width="6.35" height="6.30" fill="#ff3333"/>
<rect x="420.62" y="427.20" width="6.35" height="6.30" fill="#ff0000"/>
<line x1="315.5" y1="134.3" x2="315.5" y2="434.4" stroke="#4d7fc4" stroke-width="1.1"/>
<text x="432" y="159.9" font-size="6.9" fill="#111" stroke="#111" stroke-width="0.12">id</text>
<text x="432" y="168.97" font-size="6.45" fill="#111" stroke="#111" stroke-width="0.12">COL3A1</text>
<polygon points="471.50,162.62 472.06,163.96 473.50,164.08 472.40,165.02 472.73,166.42 471.50,165.67 470.27,166.42 470.60,165.02 469.50,164.08 470.94,163.96" fill="#b0003a"/>
<text x="432" y="175.92" font-size="6.45" fill="#111" stroke="#111" stroke-width="0.12">TUBB6</text>
<text x="432" y="182.88" font-size="6.45" fill="#111" stroke="#111" stroke-width="0.12">CAV2</text>
<text x="432" y="189.82" font-size="6.45" fill="#111" stroke="#111" stroke-width="0.12">CAV1</text>
<text x="432" y="196.78" font-size="6.45" fill="#111" stroke="#111" stroke-width="0.12">FRMD6</text>
<polygon points="471.50,190.43 472.06,191.76 473.50,191.88 472.40,192.82 472.73,194.22 471.50,193.47 470.27,194.22 470.60,192.82 469.50,191.88 470.94,191.76" fill="#b0003a"/>
<text x="432" y="203.72" font-size="6.45" fill="#111" stroke="#111" stroke-width="0.12">CCND1</text>
<text x="432" y="210.68" font-size="6.45" fill="#111" stroke="#111" stroke-width="0.12">UACA</text>
<text x="432" y="217.62" font-size="6.45" fill="#111" stroke="#111" stroke-width="0.12">COL1A2</text>
<polygon points="471.50,211.28 472.06,212.61 473.50,212.73 472.40,213.67 472.73,215.07 471.50,214.32 470.27,215.07 470.60,213.67 469.50,212.73 470.94,212.61" fill="#b0003a"/>
<text x="432" y="224.57" font-size="6.45" fill="#111" stroke="#111" stroke-width="0.12">CCL2</text>
<polygon points="471.50,218.22 472.06,219.56 473.50,219.68 472.40,220.62 472.73,222.02 471.50,221.27 470.27,222.02 470.60,220.62 469.50,219.68 470.94,219.56" fill="#b0003a"/>
<text x="432" y="231.53" font-size="6.45" fill="#111" stroke="#111" stroke-width="0.12">NCKAP1</text>
<text x="432" y="238.47" font-size="6.45" fill="#111" stroke="#111" stroke-width="0.12">STC1</text>
<polygon points="471.50,232.12 472.06,233.46 473.50,233.58 472.40,234.52 472.73,235.92 471.50,235.17 470.27,235.92 470.60,234.52 469.50,233.58 470.94,233.46" fill="#b0003a"/>
<text x="432" y="245.43" font-size="6.45" fill="#111" stroke="#111" stroke-width="0.12">CALD1</text>
<text x="432" y="252.38" font-size="6.45" fill="#111" stroke="#111" stroke-width="0.12">ADAM9</text>
<text x="432" y="259.32" font-size="6.45" fill="#111" stroke="#111" stroke-width="0.12">FGF5</text>
<polygon points="471.50,252.98 472.06,254.31 473.50,254.43 472.40,255.37 472.73,256.77 471.50,256.03 470.27,256.77 470.60,255.37 469.50,254.43 470.94,254.31" fill="#b0003a"/>
<text x="432" y="266.27" font-size="6.45" fill="#111" stroke="#111" stroke-width="0.12">VEGFC</text>
<text x="432" y="273.23" font-size="6.45" fill="#111" stroke="#111" stroke-width="0.12">TNFRSF11</text>
<polygon points="471.50,266.88 472.06,268.21 473.50,268.33 472.40,269.27 472.73,270.67 471.50,269.93 470.27,270.67 470.60,269.27 469.50,268.33 470.94,268.21" fill="#b0003a"/>
<text x="432" y="280.18" font-size="6.45" fill="#111" stroke="#111" stroke-width="0.12">TPM2</text>
<text x="432" y="287.12" font-size="6.45" fill="#111" stroke="#111" stroke-width="0.12">CDKN1A</text>
<text x="432" y="294.07" font-size="6.45" fill="#111" stroke="#111" stroke-width="0.12">EMP1</text>
<text x="432" y="301.02" font-size="6.45" fill="#111" stroke="#111" stroke-width="0.12">FOXF1</text>
<polygon points="471.50,294.67 472.06,296.01 473.50,296.13 472.40,297.07 472.73,298.47 471.50,297.72 470.27,298.47 470.60,297.07 469.50,296.13 470.94,296.01" fill="#b0003a"/>
<text x="432" y="307.98" font-size="6.45" fill="#111" stroke="#111" stroke-width="0.12">ITGBL1</text>
<polygon points="471.50,301.62 472.06,302.96 473.50,303.08 472.40,304.02 472.73,305.42 471.50,304.68 470.27,305.42 470.60,304.02 469.50,303.08 470.94,302.96" fill="#b0003a"/>
<text x="432" y="314.93" font-size="6.45" fill="#111" stroke="#111" stroke-width="0.12">MRC2</text>
<text x="432" y="321.88" font-size="6.45" fill="#111" stroke="#111" stroke-width="0.12">MYO10</text>
<polygon points="471.50,315.52 472.06,316.86 473.50,316.98 472.40,317.92 472.73,319.32 471.50,318.57 470.27,319.32 470.60,317.92 469.50,316.98 470.94,316.86" fill="#b0003a"/>
<text x="432" y="328.82" font-size="6.45" fill="#111" stroke="#111" stroke-width="0.12">ANLN</text>
<text x="432" y="335.77" font-size="6.45" fill="#111" stroke="#111" stroke-width="0.12">MMP2</text>
<polygon points="471.50,329.42 472.06,330.76 473.50,330.88 472.40,331.82 472.73,333.22 471.50,332.47 470.27,333.22 470.60,331.82 469.50,330.88 470.94,330.76" fill="#b0003a"/>
<text x="432" y="342.73" font-size="6.45" fill="#111" stroke="#111" stroke-width="0.12">TMEM47</text>
<polygon points="471.50,336.38 472.06,337.71 473.50,337.83 472.40,338.77 472.73,340.17 471.50,339.43 470.27,340.17 470.60,338.77 469.50,337.83 470.94,337.71" fill="#b0003a"/>
<text x="432" y="349.68" font-size="6.45" fill="#111" stroke="#111" stroke-width="0.12">ANPEP</text>
<text x="432" y="356.62" font-size="6.45" fill="#111" stroke="#111" stroke-width="0.12">ENPP2</text>
<text x="432" y="363.57" font-size="6.45" fill="#111" stroke="#111" stroke-width="0.12">ACTN1</text>
<text x="432" y="370.52" font-size="6.45" fill="#111" stroke="#111" stroke-width="0.12">FGF7</text>
<polygon points="471.50,364.17 472.06,365.51 473.50,365.63 472.40,366.57 472.73,367.97 471.50,367.22 470.27,367.97 470.60,366.57 469.50,365.63 470.94,365.51" fill="#b0003a"/>
<text x="432" y="377.48" font-size="6.45" fill="#111" stroke="#111" stroke-width="0.12">F3</text>
<polygon points="471.50,371.12 472.06,372.46 473.50,372.58 472.40,373.52 472.73,374.92 471.50,374.18 470.27,374.92 470.60,373.52 469.50,372.58 470.94,372.46" fill="#b0003a"/>
<text x="432" y="384.43" font-size="6.45" fill="#111" stroke="#111" stroke-width="0.12">THBS1</text>
<text x="432" y="391.38" font-size="6.45" fill="#111" stroke="#111" stroke-width="0.12">RND3</text>
<polygon points="471.50,385.02 472.06,386.36 473.50,386.48 472.40,387.42 472.73,388.82 471.50,388.07 470.27,388.82 470.60,387.42 469.50,386.48 470.94,386.36" fill="#b0003a"/>
<text x="432" y="398.32" font-size="6.45" fill="#111" stroke="#111" stroke-width="0.12">PLOD2</text>
<text x="432" y="405.27" font-size="6.45" fill="#111" stroke="#111" stroke-width="0.12">FN1</text>
<text x="432" y="412.23" font-size="6.45" fill="#111" stroke="#111" stroke-width="0.12">SLC7A11</text>
<text x="432" y="419.18" font-size="6.45" fill="#111" stroke="#111" stroke-width="0.12">CYR61</text>
<polygon points="471.50,412.82 472.06,414.16 473.50,414.28 472.40,415.22 472.73,416.62 471.50,415.88 470.27,416.62 470.60,415.22 469.50,414.28 470.94,414.16" fill="#b0003a"/>
<text x="432" y="426.12" font-size="6.45" fill="#111" stroke="#111" stroke-width="0.12">PTX3</text>
<polygon points="471.50,419.77 472.06,421.11 473.50,421.23 472.40,422.17 472.73,423.57 471.50,422.82 470.27,423.57 470.60,422.17 469.50,421.23 470.94,421.11" fill="#b0003a"/>
<text x="432" y="433.08" font-size="6.45" fill="#111" stroke="#111" stroke-width="0.12">SNAI2</text>
<polygon points="471.50,426.73 472.06,428.06 473.50,428.18 472.40,429.12 472.73,430.52 471.50,429.78 470.27,430.52 470.60,429.12 469.50,428.18 470.94,428.06" fill="#b0003a"/>
<rect x="302.7" y="448.9" width="84.3" height="4.0" fill="url(#gb)"/>
<text x="303.3" y="465.5" font-size="9.5" text-anchor="middle" font-weight="normal" fill="#111" stroke="#111" stroke-width="0.25"  >-2.00</text>
<text x="345.2" y="465.5" font-size="9.5" text-anchor="middle" font-weight="normal" fill="#111" stroke="#111" stroke-width="0.25"  >0.00</text>
<text x="387.8" y="465.5" font-size="9.5" text-anchor="middle" font-weight="normal" fill="#111" stroke="#111" stroke-width="0.25"  >2.00</text>
<text x="8.1" y="498.1" font-size="14" text-anchor="start" font-weight="bold" fill="#000"  >C</text>
<text x="28.4" y="501.9" font-size="10.6" text-anchor="start" font-weight="bold" fill="#000"  letter-spacing="1">(i)</text>
<text x="26.5" y="655.9" font-size="10.6" text-anchor="start" font-weight="bold" fill="#000"  letter-spacing="1">(ii)</text>
<text x="203" y="496.2" font-size="11" text-anchor="middle" font-weight="normal" fill="#111" stroke="#111" stroke-width="0.25" font-style="italic" >Idelalisib score</text>
<line x1="63.8" y1="502.5" x2="63.8" y2="617.9" stroke="#111" stroke-width="1.2"/>
<line x1="63.199999999999996" y1="617.9" x2="342.7" y2="617.9" stroke="#111" stroke-width="1.3"/>
<line x1="60.3" y1="505.90" x2="63.8" y2="505.90" stroke="#111" stroke-width="1.1"/>
<text x="56.8" y="509.30" font-size="9.4" text-anchor="end" font-weight="normal" fill="#111" stroke="#111" stroke-width="0.25"  >3</text>
<line x1="60.3" y1="522.80" x2="63.8" y2="522.80" stroke="#111" stroke-width="1.1"/>
<text x="56.8" y="526.20" font-size="9.4" text-anchor="end" font-weight="normal" fill="#111" stroke="#111" stroke-width="0.25"  >2</text>
<line x1="60.3" y1="539.70" x2="63.8" y2="539.70" stroke="#111" stroke-width="1.1"/>
<text x="56.8" y="543.10" font-size="9.4" text-anchor="end" font-weight="normal" fill="#111" stroke="#111" stroke-width="0.25"  >1</text>
<line x1="60.3" y1="556.60" x2="63.8" y2="556.60" stroke="#111" stroke-width="1.1"/>
<text x="56.8" y="560.00" font-size="9.4" text-anchor="end" font-weight="normal" fill="#111" stroke="#111" stroke-width="0.25"  >0</text>
<line x1="60.3" y1="573.50" x2="63.8" y2="573.50" stroke="#111" stroke-width="1.1"/>
<text x="56.8" y="576.90" font-size="9.4" text-anchor="end" font-weight="normal" fill="#111" stroke="#111" stroke-width="0.25"  >−1</text>
<line x1="60.3" y1="590.40" x2="63.8" y2="590.40" stroke="#111" stroke-width="1.1"/>
<text x="56.8" y="593.80" font-size="9.4" text-anchor="end" font-weight="normal" fill="#111" stroke="#111" stroke-width="0.25"  >−2</text>
<line x1="60.3" y1="607.30" x2="63.8" y2="607.30" stroke="#111" stroke-width="1.1"/>
<text x="56.8" y="610.70" font-size="9.4" text-anchor="end" font-weight="normal" fill="#111" stroke="#111" stroke-width="0.25"  >−3</text>
<text x="38.4" y="560.75" font-size="10.4" text-anchor="middle" fill="#111" stroke="#111" stroke-width="0.25" textLength="66.5" lengthAdjust="spacingAndGlyphs" transform="rotate(-90 38.4 560.75)">39–gene signature</text>
<line x1="63.8" y1="556.6" x2="342.7" y2="556.6" stroke="#111" stroke-width="1.1" stroke-dasharray="3.9,2.48" stroke-dashoffset="0.16"/>
<line x1="74.80" y1="506.9" x2="74.80" y2="561" stroke="#111" stroke-width="1.3"/>
<rect x="70.90" y="524.2" width="7.8" height="15.30" fill="#a3002f"/>
<line x1="70.90" y1="536.2" x2="78.70" y2="536.2" stroke="#000" stroke-width="1.4"/>
<text x="77.90" y="622.3" font-size="8.7" text-anchor="end" fill="#111" stroke="#111" stroke-width="0.25" transform="rotate(-90 77.90 622.3)">FL21</text>
<line x1="85.56" y1="523" x2="85.56" y2="556.5" stroke="#111" stroke-width="1.3"/>
<rect x="81.66" y="536.2" width="7.8" height="8.70" fill="#a3002f"/>
<line x1="81.66" y1="539.4" x2="89.46" y2="539.4" stroke="#000" stroke-width="1.4"/>
<text x="88.66" y="622.3" font-size="8.7" text-anchor="end" fill="#111" stroke="#111" stroke-width="0.25" transform="rotate(-90 88.66 622.3)">FL32</text>
<line x1="96.32" y1="513.5" x2="96.32" y2="549.6" stroke="#111" stroke-width="1.3"/>
<rect x="92.42" y="530" width="7.8" height="11.00" fill="#a3002f"/>
<line x1="92.42" y1="535" x2="100.22" y2="535" stroke="#000" stroke-width="1.4"/>
<circle cx="96.32" cy="569.3" r="1.5" fill="#000"/>
<text x="99.42" y="622.3" font-size="8.7" text-anchor="end" fill="#111" stroke="#111" stroke-width="0.25" transform="rotate(-90 99.42 622.3)">FL22</text>
<line x1="107.08" y1="518.5" x2="107.08" y2="563.5" stroke="#111" stroke-width="1.3"/>
<rect x="103.18" y="534.6" width="7.8" height="11.60" fill="#a3002f"/>
<line x1="103.18" y1="541.2" x2="110.98" y2="541.2" stroke="#000" stroke-width="1.4"/>
<circle cx="107.08" cy="565.4" r="1.5" fill="#000"/>
<text x="110.18" y="622.3" font-size="8.7" text-anchor="end" fill="#111" stroke="#111" stroke-width="0.25" transform="rotate(-90 110.18 622.3)">FL16</text>
<line x1="117.84" y1="527" x2="117.84" y2="556.3" stroke="#111" stroke-width="1.3"/>
<rect x="113.94" y="537.4" width="7.8" height="8.30" fill="#a3002f"/>
<line x1="113.94" y1="542.3" x2="121.74" y2="542.3" stroke="#000" stroke-width="1.4"/>
<circle cx="117.84" cy="521.8" r="1.5" fill="#000"/>
<circle cx="117.84" cy="560.7" r="1.5" fill="#000"/>
<text x="120.94" y="622.3" font-size="8.7" text-anchor="end" fill="#111" stroke="#111" stroke-width="0.25" transform="rotate(-90 120.94 622.3)">FL20</text>
<line x1="128.60" y1="520.5" x2="128.60" y2="565.8" stroke="#111" stroke-width="1.3"/>
<rect x="124.70" y="540" width="7.8" height="14.60" fill="#a3002f"/>
<line x1="124.70" y1="546.9" x2="132.50" y2="546.9" stroke="#000" stroke-width="1.4"/>
<circle cx="128.60" cy="515.7" r="1.5" fill="#000"/>
<text x="131.70" y="622.3" font-size="8.7" text-anchor="end" fill="#111" stroke="#111" stroke-width="0.25" transform="rotate(-90 131.70 622.3)">FL9</text>
<line x1="139.36" y1="541.2" x2="139.36" y2="556.2" stroke="#111" stroke-width="1.3"/>
<rect x="135.46" y="547.7" width="7.8" height="4.60" fill="#a3002f"/>
<line x1="135.46" y1="549.7" x2="143.26" y2="549.7" stroke="#000" stroke-width="1.4"/>
<circle cx="139.36" cy="560" r="1.5" fill="#000"/>
<text x="142.46" y="622.3" font-size="8.7" text-anchor="end" fill="#111" stroke="#111" stroke-width="0.25" transform="rotate(-90 142.46 622.3)">FL10</text>
<line x1="150.12" y1="540.3" x2="150.12" y2="558.5" stroke="#111" stroke-width="1.3"/>
<rect x="146.22" y="545.8" width="7.8" height="5.70" fill="#a3002f"/>
<line x1="146.22" y1="548.3" x2="154.02" y2="548.3" stroke="#000" stroke-width="1.4"/>
<text x="153.22" y="622.3" font-size="8.7" text-anchor="end" fill="#111" stroke="#111" stroke-width="0.25" transform="rotate(-90 153.22 622.3)">FL6</text>
<line x1="160.88" y1="545" x2="160.88" y2="565.4" stroke="#111" stroke-width="1.3"/>
<rect x="156.98" y="550.5" width="7.8" height="6.50" fill="#a3002f"/>
<line x1="156.98" y1="554.6" x2="164.78" y2="554.6" stroke="#000" stroke-width="1.4"/>
<text x="163.98" y="622.3" font-size="8.7" text-anchor="end" fill="#111" stroke="#111" stroke-width="0.25" transform="rotate(-90 163.98 622.3)">FL8</text>
<line x1="171.64" y1="541.2" x2="171.64" y2="563.8" stroke="#111" stroke-width="1.3"/>
<rect x="167.74" y="548.5" width="7.8" height="8.50" fill="#a3002f"/>
<line x1="167.74" y1="550.8" x2="175.54" y2="550.8" stroke="#000" stroke-width="1.4"/>
<circle cx="171.64" cy="533.4" r="1.5" fill="#000"/>
<text x="174.74" y="622.3" font-size="8.7" text-anchor="end" fill="#111" stroke="#111" stroke-width="0.25" transform="rotate(-90 174.74 622.3)">FL25</text>
<line x1="182.40" y1="538.2" x2="182.40" y2="570" stroke="#111" stroke-width="1.3"/>
<rect x="178.50" y="550.5" width="7.8" height="9.50" fill="#c6c6ca"/>
<line x1="178.50" y1="553.8" x2="186.30" y2="553.8" stroke="#000" stroke-width="1.4"/>
<text x="185.50" y="622.3" font-size="8.7" text-anchor="end" fill="#111" stroke="#111" stroke-width="0.25" transform="rotate(-90 185.50 622.3)">FL12</text>
<line x1="193.16" y1="549.2" x2="193.16" y2="563" stroke="#111" stroke-width="1.3"/>
<rect x="189.26" y="553" width="7.8" height="5.50" fill="#a3002f"/>
<line x1="189.26" y1="554.6" x2="197.06" y2="554.6" stroke="#000" stroke-width="1.4"/>
<circle cx="193.16" cy="530.5" r="1.5" fill="#000"/>
<circle cx="193.16" cy="535.4" r="1.5" fill="#000"/>
<circle cx="193.16" cy="540.8" r="1.5" fill="#000"/>
<circle cx="193.16" cy="543.8" r="1.5" fill="#000"/>
<text x="196.26" y="622.3" font-size="8.7" text-anchor="end" fill="#111" stroke="#111" stroke-width="0.25" transform="rotate(-90 196.26 622.3)">FL30</text>
<line x1="203.92" y1="547.5" x2="203.92" y2="564.6" stroke="#111" stroke-width="1.3"/>
<rect x="200.02" y="555.4" width="7.8" height="5.00" fill="#c6c6ca"/>
<line x1="200.02" y1="559.0" x2="207.82" y2="559.0" stroke="#000" stroke-width="1.4"/>
<circle cx="203.92" cy="540.8" r="1.5" fill="#000"/>
<text x="207.02" y="622.3" font-size="8.7" text-anchor="end" fill="#111" stroke="#111" stroke-width="0.25" transform="rotate(-90 207.02 622.3)">FL33</text>
<line x1="214.68" y1="538.2" x2="214.68" y2="570" stroke="#111" stroke-width="1.3"/>
<rect x="210.78" y="551.2" width="7.8" height="9.30" fill="#c6c6ca"/>
<line x1="210.78" y1="554.6" x2="218.58" y2="554.6" stroke="#000" stroke-width="1.4"/>
<circle cx="214.68" cy="535.7" r="1.5" fill="#000"/>
<text x="217.78" y="622.3" font-size="8.7" text-anchor="end" fill="#111" stroke="#111" stroke-width="0.25" transform="rotate(-90 217.78 622.3)">FL7</text>
<line x1="225.44" y1="540.8" x2="225.44" y2="570.8" stroke="#111" stroke-width="1.3"/>
<rect x="221.54" y="550" width="7.8" height="8.20" fill="#c6c6ca"/>
<line x1="221.54" y1="553.1" x2="229.34" y2="553.1" stroke="#000" stroke-width="1.4"/>
<circle cx="225.44" cy="578.9" r="1.5" fill="#000"/>
<text x="228.54" y="622.3" font-size="8.7" text-anchor="end" fill="#111" stroke="#111" stroke-width="0.25" transform="rotate(-90 228.54 622.3)">FL29</text>
<line x1="236.20" y1="533.8" x2="236.20" y2="573.5" stroke="#111" stroke-width="1.3"/>
<rect x="232.30" y="548.9" width="7.8" height="10.80" fill="#c6c6ca"/>
<line x1="232.30" y1="555.8" x2="240.10" y2="555.8" stroke="#000" stroke-width="1.4"/>
<circle cx="236.20" cy="521.2" r="1.5" fill="#000"/>
<text x="239.30" y="622.3" font-size="8.7" text-anchor="end" fill="#111" stroke="#111" stroke-width="0.25" transform="rotate(-90 239.30 622.3)">FL13</text>
<line x1="246.96" y1="546.2" x2="246.96" y2="570" stroke="#111" stroke-width="1.3"/>
<rect x="243.06" y="554.9" width="7.8" height="7.90" fill="#62a8e2"/>
<line x1="243.06" y1="560.5" x2="250.86" y2="560.5" stroke="#000" stroke-width="1.4"/>
<circle cx="246.96" cy="541.5" r="1.5" fill="#000"/>
<text x="250.06" y="622.3" font-size="8.7" text-anchor="end" fill="#111" stroke="#111" stroke-width="0.25" transform="rotate(-90 250.06 622.3)">FL31</text>
<line x1="257.72" y1="545.1" x2="257.72" y2="580.6" stroke="#111" stroke-width="1.3"/>
<rect x="253.82" y="556.8" width="7.8" height="12.80" fill="#62a8e2"/>
<line x1="253.82" y1="565" x2="261.62" y2="565" stroke="#000" stroke-width="1.4"/>
<circle cx="257.72" cy="537.2" r="1.5" fill="#000"/>
<text x="260.82" y="622.3" font-size="8.7" text-anchor="end" fill="#111" stroke="#111" stroke-width="0.25" transform="rotate(-90 260.82 622.3)">FL27</text>
<line x1="268.48" y1="547.3" x2="268.48" y2="584.8" stroke="#111" stroke-width="1.3"/>
<rect x="264.58" y="560.6" width="7.8" height="12.30" fill="#62a8e2"/>
<line x1="264.58" y1="566.1" x2="272.38" y2="566.1" stroke="#000" stroke-width="1.4"/>
<text x="271.58" y="622.3" font-size="8.7" text-anchor="end" fill="#111" stroke="#111" stroke-width="0.25" transform="rotate(-90 271.58 622.3)">FL28</text>
<line x1="279.24" y1="551.9" x2="279.24" y2="584.4" stroke="#111" stroke-width="1.3"/>
<rect x="275.34" y="559.7" width="7.8" height="11.40" fill="#62a8e2"/>
<line x1="275.34" y1="567.4" x2="283.14" y2="567.4" stroke="#000" stroke-width="1.4"/>
<text x="282.34" y="622.3" font-size="8.7" text-anchor="end" fill="#111" stroke="#111" stroke-width="0.25" transform="rotate(-90 282.34 622.3)">FL34</text>
<line x1="290.00" y1="556.8" x2="290.00" y2="589" stroke="#111" stroke-width="1.3"/>
<rect x="286.10" y="568" width="7.8" height="13.70" fill="#62a8e2"/>
<line x1="286.10" y1="574.2" x2="293.90" y2="574.2" stroke="#000" stroke-width="1.4"/>
<circle cx="290.00" cy="606.1" r="1.5" fill="#000"/>
<text x="293.10" y="622.3" font-size="8.7" text-anchor="end" fill="#111" stroke="#111" stroke-width="0.25" transform="rotate(-90 293.10 622.3)">FL23</text>
<line x1="300.76" y1="561" x2="300.76" y2="591.5" stroke="#111" stroke-width="1.3"/>
<rect x="296.86" y="574.2" width="7.8" height="10.00" fill="#62a8e2"/>
<line x1="296.86" y1="579.3" x2="304.66" y2="579.3" stroke="#000" stroke-width="1.4"/>
<circle cx="300.76" cy="600.7" r="1.5" fill="#000"/>
<text x="303.86" y="622.3" font-size="8.7" text-anchor="end" fill="#111" stroke="#111" stroke-width="0.25" transform="rotate(-90 303.86 622.3)">FL17</text>
<line x1="311.52" y1="562" x2="311.52" y2="614.5" stroke="#111" stroke-width="1.3"/>
<rect x="307.62" y="582" width="7.8" height="13.20" fill="#62a8e2"/>
<line x1="307.62" y1="589.3" x2="315.42" y2="589.3" stroke="#000" stroke-width="1.4"/>
<circle cx="311.52" cy="560.5" r="1.5" fill="#000"/>
<text x="314.62" y="622.3" font-size="8.7" text-anchor="end" fill="#111" stroke="#111" stroke-width="0.25" transform="rotate(-90 314.62 622.3)">FL19</text>
<line x1="322.28" y1="549.1" x2="322.28" y2="593.3" stroke="#111" stroke-width="1.3"/>
<rect x="318.38" y="564.1" width="7.8" height="16.50" fill="#62a8e2"/>
<line x1="318.38" y1="572.3" x2="326.18" y2="572.3" stroke="#000" stroke-width="1.4"/>
<circle cx="322.28" cy="539.2" r="1.5" fill="#000"/>
<text x="325.38" y="622.3" font-size="8.7" text-anchor="end" fill="#111" stroke="#111" stroke-width="0.25" transform="rotate(-90 325.38 622.3)">FL14</text>
<line x1="333.04" y1="581.7" x2="333.04" y2="613.4" stroke="#111" stroke-width="1.3"/>
<rect x="329.14" y="595.7" width="7.8" height="9.20" fill="#62a8e2"/>
<line x1="329.14" y1="598.5" x2="336.94" y2="598.5" stroke="#000" stroke-width="1.4"/>
<circle cx="333.04" cy="578.9" r="1.5" fill="#000"/>
<text x="336.14" y="622.3" font-size="8.7" text-anchor="end" fill="#111" stroke="#111" stroke-width="0.25" transform="rotate(-90 336.14 622.3)">FL26</text>
<line x1="63.8" y1="656.2" x2="63.8" y2="771.3" stroke="#111" stroke-width="1.2"/>
<line x1="63.199999999999996" y1="771.3" x2="342.7" y2="771.3" stroke="#111" stroke-width="1.3"/>
<line x1="60.3" y1="659.31" x2="63.8" y2="659.31" stroke="#111" stroke-width="1.1"/>
<text x="56.8" y="662.71" font-size="9.4" text-anchor="end" font-weight="normal" fill="#111" stroke="#111" stroke-width="0.25"  >3</text>
<line x1="60.3" y1="676.04" x2="63.8" y2="676.04" stroke="#111" stroke-width="1.1"/>
<text x="56.8" y="679.44" font-size="9.4" text-anchor="end" font-weight="normal" fill="#111" stroke="#111" stroke-width="0.25"  >2</text>
<line x1="60.3" y1="692.77" x2="63.8" y2="692.77" stroke="#111" stroke-width="1.1"/>
<text x="56.8" y="696.17" font-size="9.4" text-anchor="end" font-weight="normal" fill="#111" stroke="#111" stroke-width="0.25"  >1</text>
<line x1="60.3" y1="709.50" x2="63.8" y2="709.50" stroke="#111" stroke-width="1.1"/>
<text x="56.8" y="712.90" font-size="9.4" text-anchor="end" font-weight="normal" fill="#111" stroke="#111" stroke-width="0.25"  >0</text>
<line x1="60.3" y1="726.23" x2="63.8" y2="726.23" stroke="#111" stroke-width="1.1"/>
<text x="56.8" y="729.63" font-size="9.4" text-anchor="end" font-weight="normal" fill="#111" stroke="#111" stroke-width="0.25"  >−1</text>
<line x1="60.3" y1="742.96" x2="63.8" y2="742.96" stroke="#111" stroke-width="1.1"/>
<text x="56.8" y="746.36" font-size="9.4" text-anchor="end" font-weight="normal" fill="#111" stroke="#111" stroke-width="0.25"  >−2</text>
<line x1="60.3" y1="759.69" x2="63.8" y2="759.69" stroke="#111" stroke-width="1.1"/>
<text x="56.8" y="763.09" font-size="9.4" text-anchor="end" font-weight="normal" fill="#111" stroke="#111" stroke-width="0.25"  >−3</text>
<text x="38.4" y="713.0" font-size="10.4" text-anchor="middle" fill="#111" stroke="#111" stroke-width="0.25" textLength="64" lengthAdjust="spacingAndGlyphs" transform="rotate(-90 38.4 713.0)">18–gene signature</text>
<line x1="63.8" y1="709.5" x2="342.7" y2="709.5" stroke="#111" stroke-width="1.1" stroke-dasharray="3.86,2.47" stroke-dashoffset="2.43"/>
<line x1="74.80" y1="662.3" x2="74.80" y2="690.5" stroke="#111" stroke-width="1.3"/>
<rect x="70.90" y="673.1" width="7.8" height="8.70" fill="#a3002f"/>
<line x1="70.90" y1="676.5" x2="78.70" y2="676.5" stroke="#000" stroke-width="1.4"/>
<circle cx="74.80" cy="660.5" r="1.5" fill="#000"/>
<line x1="85.56" y1="676.5" x2="85.56" y2="709.2" stroke="#111" stroke-width="1.3"/>
<rect x="81.66" y="691.2" width="7.8" height="9.30" fill="#a3002f"/>
<line x1="81.66" y1="692.8" x2="89.46" y2="692.8" stroke="#000" stroke-width="1.4"/>
<line x1="96.32" y1="666.6" x2="96.32" y2="699.7" stroke="#111" stroke-width="1.3"/>
<rect x="92.42" y="675.1" width="7.8" height="18.70" fill="#a3002f"/>
<line x1="92.42" y1="685.8" x2="100.22" y2="685.8" stroke="#000" stroke-width="1.4"/>
<line x1="107.08" y1="671.5" x2="107.08" y2="698.9" stroke="#111" stroke-width="1.3"/>
<rect x="103.18" y="683.5" width="7.8" height="9.30" fill="#a3002f"/>
<line x1="103.18" y1="687.4" x2="110.98" y2="687.4" stroke="#000" stroke-width="1.4"/>
<circle cx="107.08" cy="713.8" r="1.5" fill="#000"/>
<line x1="117.84" y1="674.6" x2="117.84" y2="699.5" stroke="#111" stroke-width="1.3"/>
<rect x="113.94" y="685.7" width="7.8" height="10.10" fill="#a3002f"/>
<line x1="113.94" y1="691.2" x2="121.74" y2="691.2" stroke="#000" stroke-width="1.4"/>
<circle cx="117.84" cy="713.8" r="1.5" fill="#000"/>
<line x1="128.60" y1="668.9" x2="128.60" y2="716.5" stroke="#111" stroke-width="1.3"/>
<rect x="124.70" y="685.1" width="7.8" height="22.90" fill="#a3002f"/>
<line x1="124.70" y1="697.7" x2="132.50" y2="697.7" stroke="#000" stroke-width="1.4"/>
<line x1="139.36" y1="694.2" x2="139.36" y2="713" stroke="#111" stroke-width="1.3"/>
<rect x="135.46" y="699.2" width="7.8" height="6.20" fill="#a3002f"/>
<line x1="135.46" y1="701.8" x2="143.26" y2="701.8" stroke="#000" stroke-width="1.4"/>
<line x1="150.12" y1="696.9" x2="150.12" y2="711.5" stroke="#111" stroke-width="1.3"/>
<rect x="146.22" y="699.2" width="7.8" height="6.50" fill="#a3002f"/>
<line x1="146.22" y1="704.2" x2="154.02" y2="704.2" stroke="#000" stroke-width="1.4"/>
<line x1="160.88" y1="698" x2="160.88" y2="714.3" stroke="#111" stroke-width="1.3"/>
<rect x="156.98" y="702.3" width="7.8" height="8.20" fill="#a3002f"/>
<line x1="156.98" y1="705.1" x2="164.78" y2="705.1" stroke="#000" stroke-width="1.4"/>
<line x1="171.64" y1="686.5" x2="171.64" y2="716.5" stroke="#111" stroke-width="1.3"/>
<rect x="167.74" y="695.4" width="7.8" height="15.10" fill="#a3002f"/>
<line x1="167.74" y1="703.8" x2="175.54" y2="703.8" stroke="#000" stroke-width="1.4"/>
<line x1="182.40" y1="691.5" x2="182.40" y2="723.1" stroke="#111" stroke-width="1.3"/>
<rect x="178.50" y="698.9" width="7.8" height="13.70" fill="#c6c6ca"/>
<line x1="178.50" y1="705.1" x2="186.30" y2="705.1" stroke="#000" stroke-width="1.4"/>
<line x1="193.16" y1="696.2" x2="193.16" y2="715.8" stroke="#111" stroke-width="1.3"/>
<rect x="189.26" y="703.5" width="7.8" height="6.00" fill="#a3002f"/>
<line x1="189.26" y1="706.9" x2="197.06" y2="706.9" stroke="#000" stroke-width="1.4"/>
<circle cx="193.16" cy="683.1" r="1.5" fill="#000"/>
<circle cx="193.16" cy="688.2" r="1.5" fill="#000"/>
<circle cx="193.16" cy="693.8" r="1.5" fill="#000"/>
<line x1="203.92" y1="700.8" x2="203.92" y2="716.5" stroke="#111" stroke-width="1.3"/>
<rect x="200.02" y="708.2" width="7.8" height="5.30" fill="#c6c6ca"/>
<line x1="200.02" y1="711.2" x2="207.82" y2="711.2" stroke="#000" stroke-width="1.4"/>
<circle cx="203.92" cy="693.8" r="1.5" fill="#000"/>
<line x1="214.68" y1="688.8" x2="214.68" y2="722.6" stroke="#111" stroke-width="1.3"/>
<rect x="210.78" y="702.3" width="7.8" height="15.40" fill="#c6c6ca"/>
<line x1="210.78" y1="709.2" x2="218.58" y2="709.2" stroke="#000" stroke-width="1.4"/>
<line x1="225.44" y1="698.5" x2="225.44" y2="723.5" stroke="#111" stroke-width="1.3"/>
<rect x="221.54" y="703.1" width="7.8" height="9.20" fill="#c6c6ca"/>
<line x1="221.54" y1="705.4" x2="229.34" y2="705.4" stroke="#000" stroke-width="1.4"/>
<circle cx="225.44" cy="732" r="1.5" fill="#000"/>
<line x1="236.20" y1="674.3" x2="236.20" y2="735.4" stroke="#111" stroke-width="1.3"/>
<rect x="232.30" y="695.8" width="7.8" height="15.70" fill="#c6c6ca"/>
<line x1="232.30" y1="704.3" x2="240.10" y2="704.3" stroke="#000" stroke-width="1.4"/>
<line x1="246.96" y1="694.3" x2="246.96" y2="722.6" stroke="#111" stroke-width="1.3"/>
<rect x="243.06" y="705.7" width="7.8" height="11.20" fill="#62a8e2"/>
<line x1="243.06" y1="711.2" x2="250.86" y2="711.2" stroke="#000" stroke-width="1.4"/>
<line x1="257.72" y1="690.2" x2="257.72" y2="733.5" stroke="#111" stroke-width="1.3"/>
<rect x="253.82" y="707.7" width="7.8" height="18.50" fill="#62a8e2"/>
<line x1="253.82" y1="718.9" x2="261.62" y2="718.9" stroke="#000" stroke-width="1.4"/>
<line x1="268.48" y1="700" x2="268.48" y2="737.7" stroke="#111" stroke-width="1.3"/>
<rect x="264.58" y="708.5" width="7.8" height="16.60" fill="#62a8e2"/>
<line x1="264.58" y1="716.5" x2="272.38" y2="716.5" stroke="#000" stroke-width="1.4"/>
<line x1="279.24" y1="707" x2="279.24" y2="735.8" stroke="#111" stroke-width="1.3"/>
<rect x="275.34" y="712.8" width="7.8" height="9.50" fill="#62a8e2"/>
<line x1="275.34" y1="717.9" x2="283.14" y2="717.9" stroke="#000" stroke-width="1.4"/>
<line x1="290.00" y1="710.8" x2="290.00" y2="739.5" stroke="#111" stroke-width="1.3"/>
<rect x="286.10" y="724.2" width="7.8" height="12.00" fill="#62a8e2"/>
<line x1="286.10" y1="728" x2="293.90" y2="728" stroke="#000" stroke-width="1.4"/>
<circle cx="290.00" cy="759.2" r="1.5" fill="#000"/>
<line x1="300.76" y1="728.5" x2="300.76" y2="744.6" stroke="#111" stroke-width="1.3"/>
<rect x="296.86" y="734.2" width="7.8" height="7.30" fill="#62a8e2"/>
<line x1="296.86" y1="737.2" x2="304.66" y2="737.2" stroke="#000" stroke-width="1.4"/>
<circle cx="300.76" cy="753.4" r="1.5" fill="#000"/>
<line x1="311.52" y1="733.5" x2="311.52" y2="754.6" stroke="#111" stroke-width="1.3"/>
<rect x="307.62" y="743.1" width="7.8" height="8.90" fill="#62a8e2"/>
<line x1="307.62" y1="747.7" x2="315.42" y2="747.7" stroke="#000" stroke-width="1.4"/>
<circle cx="311.52" cy="714.9" r="1.5" fill="#000"/>
<circle cx="311.52" cy="766.9" r="1.5" fill="#000"/>
<line x1="322.28" y1="709.5" x2="322.28" y2="746.9" stroke="#111" stroke-width="1.3"/>
<rect x="318.38" y="725.4" width="7.8" height="10.80" fill="#62a8e2"/>
<line x1="318.38" y1="728.5" x2="326.18" y2="728.5" stroke="#000" stroke-width="1.4"/>
<line x1="333.04" y1="738.9" x2="333.04" y2="766.9" stroke="#111" stroke-width="1.3"/>
<rect x="329.14" y="750.8" width="7.8" height="8.70" fill="#62a8e2"/>
<line x1="329.14" y1="755.1" x2="336.94" y2="755.1" stroke="#000" stroke-width="1.4"/>
<rect x="278.3" y="660.9" width="7.6" height="7" fill="#a3002f"/>
<rect x="278.3" y="669.6" width="7.6" height="7" fill="#c6c6ca"/>
<rect x="278.3" y="678.2" width="7.6" height="7" fill="#62a8e2"/>
<text x="289.4" y="667.4" font-size="8.6" text-anchor="start" font-weight="normal" fill="#111" stroke="#111" stroke-width="0.25"  >Upregulate</text>
<text x="289.4" y="676" font-size="8.6" text-anchor="start" font-weight="normal" fill="#111" stroke="#111" stroke-width="0.25"  >No effect</text>
<text x="289.4" y="684.6" font-size="8.6" text-anchor="start" font-weight="normal" fill="#111" stroke="#111" stroke-width="0.25"  >Downregulate</text>
<text x="360.2" y="497.8" font-size="14" text-anchor="start" font-weight="bold" fill="#000"  >D</text>
<text x="383.2" y="494.3" font-size="10.2" text-anchor="start" font-weight="normal" fill="#62a83e" stroke="#62a83e" stroke-width="0.25"   textLength="48" lengthAdjust="spacingAndGlyphs">SENSITIVE</text>
<text x="435.2" y="494.3" font-size="10.2" text-anchor="start" font-weight="normal" fill="#d98b1f" stroke="#d98b1f" stroke-width="0.25"   textLength="50.6" lengthAdjust="spacingAndGlyphs">RESISTANT</text>
<line x1="398.4" y1="500" x2="426.9" y2="500" stroke="#4a6496" stroke-width="1.2"/>
<line x1="429.7" y1="500" x2="458" y2="500" stroke="#4a6496" stroke-width="1.2"/>
<text x="408.5" y="512.3" font-size="9.5" text-anchor="middle" font-weight="normal" fill="#111" stroke="#111" stroke-width="0.25"  >-</text>
<text x="423.4" y="512.3" font-size="9.5" text-anchor="middle" font-weight="normal" fill="#111" stroke="#111" stroke-width="0.25"  >+</text>
<text x="438.3" y="512.3" font-size="9.5" text-anchor="middle" font-weight="normal" fill="#111" stroke="#111" stroke-width="0.25"  >-</text>
<text x="453.2" y="512.3" font-size="9.5" text-anchor="middle" font-weight="normal" fill="#111" stroke="#111" stroke-width="0.25"  >+</text>
<text transform="translate(463.9,512.1) scale(1.05,1)" font-size="9" fill="#111" stroke="#111" stroke-width="0.25">IDELA</text>
<rect x="401.90" y="515.80" width="13.3" height="9.7" fill="#ffd0d0"/>
<rect x="416.80" y="515.80" width="13.3" height="9.7" fill="#0000ff"/>
<rect x="431.70" y="515.80" width="13.3" height="9.7" fill="#ff6565"/>
<rect x="446.60" y="515.80" width="13.3" height="9.7" fill="#ff0000"/>
<text transform="translate(463.9,523.90) scale(1.06,1)" font-size="9" fill="#111" stroke="#111" stroke-width="0.25">FGF5</text>
<rect x="401.90" y="527.20" width="13.3" height="9.7" fill="#ff3535"/>
<rect x="416.80" y="527.20" width="13.3" height="9.7" fill="#0000ff"/>
<rect x="431.70" y="527.20" width="13.3" height="9.7" fill="#ff2a2a"/>
<rect x="446.60" y="527.20" width="13.3" height="9.7" fill="#ff0000"/>
<text transform="translate(463.9,535.30) scale(1.06,1)" font-size="9" fill="#111" stroke="#111" stroke-width="0.25">CYR61</text>
<rect x="401.90" y="538.60" width="13.3" height="9.7" fill="#ff2a2a"/>
<rect x="416.80" y="538.60" width="13.3" height="9.7" fill="#0000ff"/>
<rect x="431.70" y="538.60" width="13.3" height="9.7" fill="#ff4545"/>
<rect x="446.60" y="538.60" width="13.3" height="9.7" fill="#ff0000"/>
<text transform="translate(463.9,546.70) scale(1.06,1)" font-size="9" fill="#111" stroke="#111" stroke-width="0.25">MMP2</text>
<rect x="401.90" y="550.00" width="13.3" height="9.7" fill="#ff3030"/>
<rect x="416.80" y="550.00" width="13.3" height="9.7" fill="#0000ff"/>
<rect x="431.70" y="550.00" width="13.3" height="9.7" fill="#ff4040"/>
<rect x="446.60" y="550.00" width="13.3" height="9.7" fill="#ff0000"/>
<text transform="translate(463.9,558.10) scale(1.06,1)" font-size="9" fill="#111" stroke="#111" stroke-width="0.25">STC1</text>
<rect x="401.90" y="561.40" width="13.3" height="9.7" fill="#ff7070"/>
<rect x="416.80" y="561.40" width="13.3" height="9.7" fill="#0000ff"/>
<rect x="431.70" y="561.40" width="13.3" height="9.7" fill="#ff2020"/>
<rect x="446.60" y="561.40" width="13.3" height="9.7" fill="#ff0000"/>
<text transform="translate(463.9,569.50) scale(1.06,1)" font-size="9" fill="#111" stroke="#111" stroke-width="0.25">CCL2</text>
<rect x="401.90" y="572.80" width="13.3" height="9.7" fill="#ff8080"/>
<rect x="416.80" y="572.80" width="13.3" height="9.7" fill="#0000ff"/>
<rect x="431.70" y="572.80" width="13.3" height="9.7" fill="#ff4040"/>
<rect x="446.60" y="572.80" width="13.3" height="9.7" fill="#ff0000"/>
<text transform="translate(463.9,580.90) scale(1.06,1)" font-size="9" fill="#111" stroke="#111" stroke-width="0.25">F3</text>
<rect x="401.90" y="584.20" width="13.3" height="9.7" fill="#ff7070"/>
<rect x="416.80" y="584.20" width="13.3" height="9.7" fill="#0000ff"/>
<rect x="431.70" y="584.20" width="13.3" height="9.7" fill="#ff5050"/>
<rect x="446.60" y="584.20" width="13.3" height="9.7" fill="#ff0000"/>
<text transform="translate(463.9,592.30) scale(1.06,1)" font-size="9" fill="#111" stroke="#111" stroke-width="0.25">COL1A2</text>
<rect x="401.90" y="595.60" width="13.3" height="9.7" fill="#ff5a5a"/>
<rect x="416.80" y="595.60" width="13.3" height="9.7" fill="#0000ff"/>
<rect x="431.70" y="595.60" width="13.3" height="9.7" fill="#ff6060"/>
<rect x="446.60" y="595.60" width="13.3" height="9.7" fill="#ff0000"/>
<text transform="translate(463.9,603.70) scale(1.06,1)" font-size="9" fill="#111" stroke="#111" stroke-width="0.25">FRMD6</text>
<rect x="401.90" y="607.00" width="13.3" height="9.7" fill="#ff5a5a"/>
<rect x="416.80" y="607.00" width="13.3" height="9.7" fill="#0000ff"/>
<rect x="431.70" y="607.00" width="13.3" height="9.7" fill="#ff5a5a"/>
<rect x="446.60" y="607.00" width="13.3" height="9.7" fill="#ff0000"/>
<text transform="translate(463.9,615.10) scale(1.06,1)" font-size="9" fill="#111" stroke="#111" stroke-width="0.25">PTX3</text>
<rect x="401.90" y="618.40" width="13.3" height="9.7" fill="#ff7575"/>
<rect x="416.80" y="618.40" width="13.3" height="9.7" fill="#0000ff"/>
<rect x="431.70" y="618.40" width="13.3" height="9.7" fill="#ff7878"/>
<rect x="446.60" y="618.40" width="13.3" height="9.7" fill="#ff0000"/>
<text transform="translate(463.9,626.50) scale(1.06,1)" font-size="9" fill="#111" stroke="#111" stroke-width="0.25">SNAI2</text>
<rect x="401.90" y="629.80" width="13.3" height="9.7" fill="#ff9c9c"/>
<rect x="416.80" y="629.80" width="13.3" height="9.7" fill="#0000ff"/>
<rect x="431.70" y="629.80" width="13.3" height="9.7" fill="#ff7070"/>
<rect x="446.60" y="629.80" width="13.3" height="9.7" fill="#ff0000"/>
<text transform="translate(463.9,637.90) scale(1.06,1)" font-size="9" fill="#111" stroke="#111" stroke-width="0.25">COL3A1</text>
<rect x="401.90" y="641.20" width="13.3" height="9.7" fill="#ff8a8a"/>
<rect x="416.80" y="641.20" width="13.3" height="9.7" fill="#0000ff"/>
<rect x="431.70" y="641.20" width="13.3" height="9.7" fill="#ffaaaa"/>
<rect x="446.60" y="641.20" width="13.3" height="9.7" fill="#ff0000"/>
<text transform="translate(463.9,649.30) scale(1.06,1)" font-size="9" fill="#111" stroke="#111" stroke-width="0.25">TNFRSF11</text>
<rect x="401.90" y="652.60" width="13.3" height="9.7" fill="#ff0000"/>
<rect x="416.80" y="652.60" width="13.3" height="9.7" fill="#0000ff"/>
<rect x="431.70" y="652.60" width="13.3" height="9.7" fill="#ff3535"/>
<rect x="446.60" y="652.60" width="13.3" height="9.7" fill="#ff2a2a"/>
<text transform="translate(463.9,660.70) scale(1.06,1)" font-size="9" fill="#111" stroke="#111" stroke-width="0.25">MYO10</text>
<rect x="401.90" y="664.00" width="13.3" height="9.7" fill="#ff0000"/>
<rect x="416.80" y="664.00" width="13.3" height="9.7" fill="#0000ff"/>
<rect x="431.70" y="664.00" width="13.3" height="9.7" fill="#ff8080"/>
<rect x="446.60" y="664.00" width="13.3" height="9.7" fill="#ff5050"/>
<text transform="translate(463.9,672.10) scale(1.06,1)" font-size="9" fill="#111" stroke="#111" stroke-width="0.25">RND3</text>
<rect x="401.90" y="675.40" width="13.3" height="9.7" fill="#ff0000"/>
<rect x="416.80" y="675.40" width="13.3" height="9.7" fill="#0000ff"/>
<rect x="431.70" y="675.40" width="13.3" height="9.7" fill="#ff6a6a"/>
<rect x="446.60" y="675.40" width="13.3" height="9.7" fill="#ff1010"/>
<text transform="translate(463.9,683.50) scale(1.06,1)" font-size="9" fill="#111" stroke="#111" stroke-width="0.25">FGF7</text>
<rect x="401.90" y="686.80" width="13.3" height="9.7" fill="#ff0000"/>
<rect x="416.80" y="686.80" width="13.3" height="9.7" fill="#0000ff"/>
<rect x="431.70" y="686.80" width="13.3" height="9.7" fill="#ff9090"/>
<rect x="446.60" y="686.80" width="13.3" height="9.7" fill="#ff3030"/>
<text transform="translate(463.9,694.90) scale(1.06,1)" font-size="9" fill="#111" stroke="#111" stroke-width="0.25">FOXF1</text>
<rect x="401.90" y="698.20" width="13.3" height="9.7" fill="#ff0000"/>
<rect x="416.80" y="698.20" width="13.3" height="9.7" fill="#0000ff"/>
<rect x="431.70" y="698.20" width="13.3" height="9.7" fill="#ff9a9a"/>
<rect x="446.60" y="698.20" width="13.3" height="9.7" fill="#ff4545"/>
<text transform="translate(463.9,706.30) scale(1.06,1)" font-size="9" fill="#111" stroke="#111" stroke-width="0.25">TMEM47</text>
<rect x="401.90" y="709.60" width="13.3" height="9.7" fill="#ff0000"/>
<rect x="416.80" y="709.60" width="13.3" height="9.7" fill="#b0b0ff"/>
<rect x="431.70" y="709.60" width="13.3" height="9.7" fill="#0000ff"/>
<rect x="446.60" y="709.60" width="13.3" height="9.7" fill="#ff8585"/>
<text transform="translate(463.9,717.70) scale(1.06,1)" font-size="9" fill="#111" stroke="#111" stroke-width="0.25">ITGBL1</text>
<rect x="397.9" y="740" width="66.6" height="4.4" fill="url(#gb)"/>
<text x="382" y="756.1" font-size="9" text-anchor="start" font-weight="normal" fill="#111" stroke="#111" stroke-width="0.25"  >row min</text>
<text x="447" y="756.1" font-size="9" text-anchor="start" font-weight="normal" fill="#111" stroke="#111" stroke-width="0.25"  >row max</text>
</svg></body></html>
